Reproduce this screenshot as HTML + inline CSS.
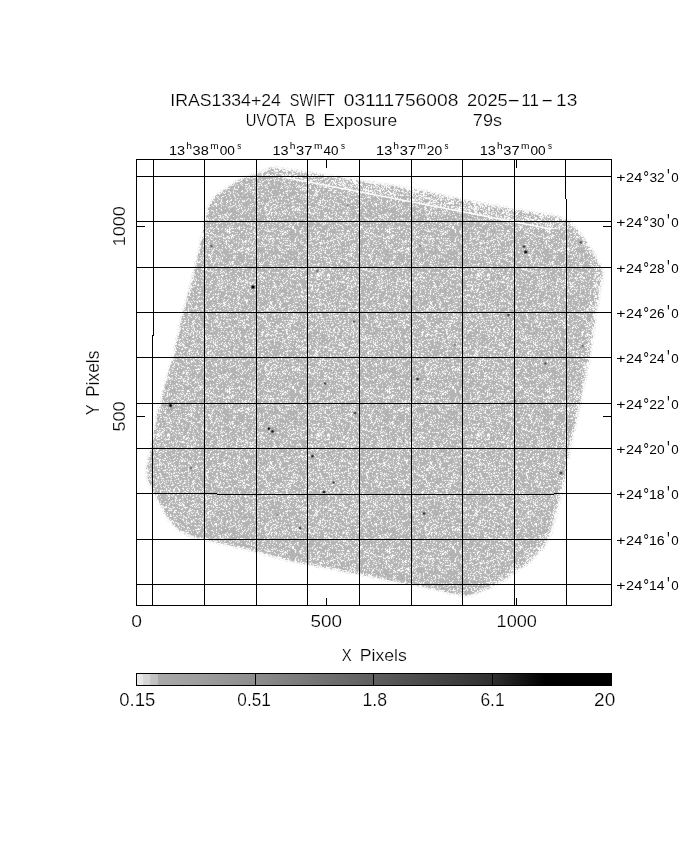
<!DOCTYPE html>
<html><head><meta charset="utf-8"><title>IRAS1334+24 SWIFT UVOTA B Exposure</title>
<style>
html,body{margin:0;padding:0;background:#fff;}
svg{display:block;font-family:"Liberation Sans",sans-serif;fill:#000;}
</style></head><body>
<svg width="680" height="850" viewBox="0 0 680 850">
<defs>
<pattern id="nz" width="160" height="160" patternUnits="userSpaceOnUse">
<rect width="160" height="160" fill="#b3b3b3"/>
<path d="M1 0h1M3 0h1M6 0h1M8 0h1M10 0h1M11 0h1M14 0h1M21 0h1M24 0h1M25 0h1M28 0h1M33 0h1M34 0h1M51 0h1M54 0h1M56 0h1M70 0h1M78 0h1M80 0h1M81 0h1M82 0h1M84 0h1M88 0h1M99 0h1M100 0h1M106 0h1M115 0h1M122 0h1M124 0h1M125 0h1M127 0h1M129 0h1M130 0h1M131 0h1M132 0h1M134 0h1M137 0h1M141 0h1M146 0h1M147 0h1M151 0h1M152 0h1M155 0h1M157 0h1M4 1h1M19 1h1M20 1h1M32 1h1M33 1h1M40 1h1M46 1h1M55 1h1M56 1h1M57 1h1M60 1h1M66 1h1M67 1h1M82 1h1M93 1h1M95 1h1M96 1h1M98 1h1M106 1h1M131 1h1M132 1h1M134 1h1M136 1h1M140 1h1M143 1h1M152 1h1M156 1h1M159 1h1M2 2h1M6 2h1M10 2h1M12 2h1M15 2h1M20 2h1M24 2h1M25 2h1M28 2h1M32 2h1M34 2h1M41 2h1M44 2h1M45 2h1M46 2h1M47 2h1M53 2h1M55 2h1M57 2h1M60 2h1M63 2h1M78 2h1M79 2h1M80 2h1M83 2h1M84 2h1M92 2h1M102 2h1M106 2h1M108 2h1M110 2h1M112 2h1M113 2h1M125 2h1M128 2h1M134 2h1M145 2h1M146 2h1M148 2h1M155 2h1M1 3h1M4 3h1M17 3h1M18 3h1M23 3h1M24 3h1M33 3h1M35 3h1M38 3h1M48 3h1M51 3h1M59 3h1M60 3h1M64 3h1M68 3h1M71 3h1M83 3h1M84 3h1M91 3h1M101 3h1M107 3h1M109 3h1M120 3h1M121 3h1M129 3h1M130 3h1M131 3h1M133 3h1M144 3h1M147 3h1M159 3h1M0 4h1M5 4h1M12 4h1M13 4h1M22 4h1M28 4h1M32 4h1M33 4h1M39 4h1M51 4h1M59 4h1M63 4h1M77 4h1M82 4h1M86 4h1M87 4h1M88 4h1M96 4h1M99 4h1M104 4h1M105 4h1M109 4h1M116 4h1M120 4h1M123 4h1M127 4h1M128 4h1M129 4h1M142 4h1M147 4h1M157 4h1M7 5h1M8 5h1M11 5h1M12 5h1M19 5h1M20 5h1M31 5h1M37 5h1M40 5h1M51 5h1M56 5h1M58 5h1M59 5h1M69 5h1M74 5h1M75 5h1M79 5h1M80 5h1M83 5h1M85 5h1M88 5h1M89 5h1M93 5h1M94 5h1M107 5h1M109 5h1M110 5h1M117 5h1M118 5h1M122 5h1M126 5h1M130 5h1M134 5h1M135 5h1M139 5h1M145 5h1M151 5h1M156 5h1M0 6h1M3 6h1M5 6h1M16 6h1M23 6h1M25 6h1M26 6h1M28 6h1M31 6h1M33 6h1M37 6h1M41 6h1M46 6h1M51 6h1M54 6h1M57 6h1M61 6h1M68 6h1M69 6h1M70 6h1M74 6h1M76 6h1M84 6h1M95 6h1M97 6h1M105 6h1M106 6h1M107 6h1M112 6h1M115 6h1M116 6h1M118 6h1M123 6h1M126 6h1M129 6h1M130 6h1M136 6h1M146 6h1M150 6h1M152 6h1M155 6h1M156 6h1M1 7h1M4 7h1M8 7h1M15 7h1M17 7h1M33 7h1M58 7h1M60 7h1M61 7h1M62 7h1M65 7h1M66 7h1M67 7h1M72 7h1M78 7h1M82 7h1M84 7h1M85 7h1M92 7h1M93 7h1M95 7h1M98 7h1M108 7h1M117 7h1M119 7h1M120 7h1M121 7h1M124 7h1M128 7h1M138 7h1M140 7h1M149 7h1M151 7h1M6 8h1M10 8h1M14 8h1M18 8h1M22 8h1M23 8h1M27 8h1M29 8h1M32 8h1M34 8h1M40 8h1M42 8h1M45 8h1M52 8h1M72 8h1M84 8h1M90 8h1M92 8h1M96 8h1M110 8h1M113 8h1M116 8h1M130 8h1M145 8h1M153 8h1M154 8h1M6 9h1M10 9h1M13 9h1M14 9h1M18 9h1M19 9h1M23 9h1M26 9h1M34 9h1M43 9h1M45 9h1M47 9h1M52 9h1M61 9h1M64 9h1M73 9h1M102 9h1M106 9h1M108 9h1M109 9h1M125 9h1M126 9h1M127 9h1M142 9h1M144 9h1M145 9h1M150 9h1M157 9h1M0 10h1M1 10h1M2 10h1M4 10h1M6 10h1M8 10h1M9 10h1M13 10h1M14 10h1M19 10h1M27 10h1M28 10h1M31 10h1M34 10h1M37 10h1M42 10h1M54 10h1M72 10h1M78 10h1M89 10h1M92 10h1M104 10h1M114 10h1M115 10h1M116 10h1M122 10h1M123 10h1M126 10h1M129 10h1M133 10h1M134 10h1M147 10h1M148 10h1M149 10h1M150 10h1M151 10h1M157 10h1M0 11h1M9 11h1M13 11h1M19 11h1M24 11h1M25 11h1M32 11h1M35 11h1M37 11h1M39 11h1M41 11h1M43 11h1M44 11h1M50 11h1M52 11h1M61 11h1M63 11h1M66 11h1M70 11h1M74 11h1M78 11h1M80 11h1M87 11h1M92 11h1M95 11h1M99 11h1M102 11h1M103 11h1M106 11h1M111 11h1M112 11h1M115 11h1M116 11h1M117 11h1M126 11h1M127 11h1M131 11h1M137 11h1M142 11h1M145 11h1M148 11h1M152 11h1M0 12h1M7 12h1M10 12h1M11 12h1M14 12h1M15 12h1M17 12h1M18 12h1M23 12h1M26 12h1M27 12h1M31 12h1M33 12h1M36 12h1M39 12h1M58 12h1M67 12h1M70 12h1M71 12h1M79 12h1M94 12h1M101 12h1M102 12h1M103 12h1M108 12h1M114 12h1M126 12h1M136 12h1M137 12h1M140 12h1M144 12h1M148 12h1M3 13h1M5 13h1M28 13h1M30 13h1M33 13h1M39 13h1M42 13h1M43 13h1M60 13h1M74 13h1M79 13h1M86 13h1M90 13h1M91 13h1M97 13h1M102 13h1M107 13h1M116 13h1M117 13h1M119 13h1M120 13h1M121 13h1M126 13h1M127 13h1M132 13h1M134 13h1M140 13h1M147 13h1M7 14h1M9 14h1M13 14h1M17 14h1M18 14h1M22 14h1M25 14h1M28 14h1M30 14h1M33 14h1M37 14h1M47 14h1M57 14h1M67 14h1M68 14h1M72 14h1M77 14h1M80 14h1M88 14h1M90 14h1M101 14h1M102 14h1M106 14h1M107 14h1M108 14h1M109 14h1M112 14h1M115 14h1M123 14h1M127 14h1M130 14h1M132 14h1M137 14h1M143 14h1M152 14h1M157 14h1M159 14h1M8 15h1M11 15h1M13 15h1M24 15h1M30 15h1M36 15h1M40 15h1M42 15h1M45 15h1M49 15h1M50 15h1M51 15h1M54 15h1M58 15h1M61 15h1M63 15h1M71 15h1M72 15h1M76 15h1M80 15h1M85 15h1M93 15h1M102 15h1M105 15h1M107 15h1M110 15h1M111 15h1M113 15h1M115 15h1M129 15h1M134 15h1M135 15h1M145 15h1M156 15h1M157 15h1M0 16h1M8 16h1M9 16h1M12 16h1M15 16h1M22 16h1M25 16h1M27 16h1M33 16h1M36 16h1M39 16h1M43 16h1M45 16h1M48 16h1M60 16h1M66 16h1M71 16h1M73 16h1M76 16h1M80 16h1M84 16h1M85 16h1M86 16h1M88 16h1M93 16h1M99 16h1M101 16h1M105 16h1M106 16h1M111 16h1M116 16h1M121 16h1M122 16h1M128 16h1M131 16h1M134 16h1M135 16h1M145 16h1M6 17h1M15 17h1M16 17h1M22 17h1M23 17h1M32 17h1M33 17h1M40 17h1M45 17h1M46 17h1M51 17h1M55 17h1M59 17h1M63 17h1M64 17h1M76 17h1M78 17h1M85 17h1M89 17h1M93 17h1M94 17h1M95 17h1M97 17h1M118 17h1M119 17h1M127 17h1M128 17h1M129 17h1M130 17h1M133 17h1M136 17h1M137 17h1M140 17h1M141 17h1M152 17h1M154 17h1M158 17h1M9 18h1M16 18h1M26 18h1M37 18h1M41 18h1M42 18h1M44 18h1M46 18h1M48 18h1M49 18h1M51 18h1M57 18h1M61 18h1M65 18h1M66 18h1M70 18h1M72 18h1M74 18h1M76 18h1M79 18h1M89 18h1M91 18h1M92 18h1M97 18h1M113 18h1M115 18h1M122 18h1M123 18h1M127 18h1M134 18h1M1 19h1M8 19h1M15 19h1M19 19h1M20 19h1M22 19h1M27 19h1M35 19h1M43 19h1M44 19h1M46 19h1M47 19h1M53 19h1M56 19h1M61 19h1M73 19h1M79 19h1M86 19h1M101 19h1M106 19h1M108 19h1M110 19h1M111 19h1M114 19h1M118 19h1M125 19h1M128 19h1M138 19h1M144 19h1M145 19h1M153 19h1M156 19h1M12 20h1M15 20h1M17 20h1M19 20h1M29 20h1M32 20h1M33 20h1M41 20h1M42 20h1M44 20h1M51 20h1M55 20h1M59 20h1M64 20h1M69 20h1M71 20h1M81 20h1M86 20h1M87 20h1M93 20h1M99 20h1M104 20h1M107 20h1M109 20h1M114 20h1M116 20h1M118 20h1M123 20h1M124 20h1M130 20h1M131 20h1M133 20h1M136 20h1M138 20h1M142 20h1M144 20h1M145 20h1M150 20h1M158 20h1M0 21h1M5 21h1M11 21h1M15 21h1M23 21h1M27 21h1M31 21h1M33 21h1M34 21h1M46 21h1M50 21h1M53 21h1M57 21h1M73 21h1M79 21h1M93 21h1M100 21h1M102 21h1M103 21h1M114 21h1M120 21h1M122 21h1M124 21h1M137 21h1M139 21h1M141 21h1M142 21h1M148 21h1M156 21h1M10 22h1M19 22h1M21 22h1M24 22h1M27 22h1M45 22h1M50 22h1M53 22h1M55 22h1M57 22h1M62 22h1M65 22h1M68 22h1M74 22h1M81 22h1M95 22h1M102 22h1M108 22h1M122 22h1M128 22h1M130 22h1M142 22h1M152 22h1M157 22h1M3 23h1M9 23h1M12 23h1M14 23h1M16 23h1M20 23h1M22 23h1M34 23h1M36 23h1M39 23h1M53 23h1M55 23h1M61 23h1M64 23h1M68 23h1M70 23h1M80 23h1M82 23h1M88 23h1M92 23h1M93 23h1M98 23h1M99 23h1M100 23h1M108 23h1M109 23h1M114 23h1M124 23h1M125 23h1M129 23h1M133 23h1M136 23h1M146 23h1M148 23h1M149 23h1M155 23h1M157 23h1M6 24h1M9 24h1M18 24h1M19 24h1M22 24h1M23 24h1M32 24h1M33 24h1M35 24h1M38 24h1M40 24h1M42 24h1M46 24h1M54 24h1M55 24h1M59 24h1M61 24h1M65 24h1M69 24h1M73 24h1M77 24h1M81 24h1M85 24h1M86 24h1M87 24h1M101 24h1M106 24h1M114 24h1M126 24h1M136 24h1M143 24h1M152 24h1M156 24h1M0 25h1M8 25h1M19 25h1M20 25h1M21 25h1M23 25h1M24 25h1M30 25h1M31 25h1M37 25h1M41 25h1M48 25h1M49 25h1M51 25h1M55 25h1M56 25h1M57 25h1M63 25h1M64 25h1M66 25h1M70 25h1M75 25h1M82 25h1M89 25h1M93 25h1M95 25h1M98 25h1M99 25h1M101 25h1M104 25h1M105 25h1M110 25h1M117 25h1M121 25h1M124 25h1M129 25h1M135 25h1M138 25h1M139 25h1M142 25h1M150 25h1M157 25h1M1 26h1M3 26h1M5 26h1M6 26h1M12 26h1M23 26h1M32 26h1M34 26h1M36 26h1M42 26h1M44 26h1M46 26h1M47 26h1M51 26h1M53 26h1M64 26h1M66 26h1M67 26h1M78 26h1M85 26h1M86 26h1M89 26h1M96 26h1M102 26h1M107 26h1M122 26h1M126 26h1M127 26h1M130 26h1M137 26h1M139 26h1M141 26h1M150 26h1M159 26h1M0 27h1M4 27h1M5 27h1M6 27h1M8 27h1M13 27h1M14 27h1M17 27h1M24 27h1M25 27h1M26 27h1M27 27h1M35 27h1M38 27h1M39 27h1M46 27h1M48 27h1M53 27h1M56 27h1M57 27h1M59 27h1M66 27h1M74 27h1M78 27h1M88 27h1M90 27h1M91 27h1M93 27h1M97 27h1M98 27h1M105 27h1M106 27h1M121 27h1M125 27h1M128 27h1M132 27h1M136 27h1M138 27h1M140 27h1M143 27h1M144 27h1M145 27h1M146 27h1M149 27h1M150 27h1M154 27h1M157 27h1M9 28h1M10 28h1M12 28h1M19 28h1M22 28h1M25 28h1M30 28h1M43 28h1M61 28h1M69 28h1M74 28h1M85 28h1M87 28h1M90 28h1M91 28h1M93 28h1M107 28h1M120 28h1M122 28h1M127 28h1M142 28h1M146 28h1M150 28h1M155 28h1M3 29h1M11 29h1M21 29h1M22 29h1M29 29h1M32 29h1M41 29h1M44 29h1M45 29h1M48 29h1M55 29h1M56 29h1M60 29h1M62 29h1M63 29h1M66 29h1M73 29h1M75 29h1M76 29h1M77 29h1M86 29h1M89 29h1M102 29h1M112 29h1M113 29h1M116 29h1M140 29h1M142 29h1M143 29h1M144 29h1M146 29h1M148 29h1M156 29h1M159 29h1M3 30h1M8 30h1M9 30h1M10 30h1M11 30h1M14 30h1M15 30h1M16 30h1M29 30h1M30 30h1M31 30h1M34 30h1M37 30h1M50 30h1M51 30h1M54 30h1M58 30h1M82 30h1M87 30h1M90 30h1M97 30h1M99 30h1M101 30h1M108 30h1M127 30h1M129 30h1M131 30h1M135 30h1M140 30h1M142 30h1M145 30h1M152 30h1M153 30h1M155 30h1M156 30h1M159 30h1M14 31h1M24 31h1M28 31h1M29 31h1M37 31h1M42 31h1M48 31h1M49 31h1M50 31h1M68 31h1M69 31h1M73 31h1M81 31h1M82 31h1M87 31h1M92 31h1M93 31h1M94 31h1M96 31h1M105 31h1M108 31h1M111 31h1M119 31h1M125 31h1M126 31h1M127 31h1M130 31h1M136 31h1M137 31h1M144 31h1M156 31h1M157 31h1M158 31h1M0 32h1M7 32h1M13 32h1M14 32h1M15 32h1M18 32h1M20 32h1M23 32h1M27 32h1M31 32h1M33 32h1M36 32h1M37 32h1M47 32h1M48 32h1M52 32h1M55 32h1M63 32h1M65 32h1M70 32h1M73 32h1M75 32h1M85 32h1M86 32h1M90 32h1M93 32h1M96 32h1M97 32h1M110 32h1M123 32h1M155 32h1M157 32h1M5 33h1M20 33h1M21 33h1M29 33h1M32 33h1M38 33h1M41 33h1M47 33h1M48 33h1M52 33h1M59 33h1M64 33h1M70 33h1M77 33h1M84 33h1M93 33h1M98 33h1M101 33h1M102 33h1M103 33h1M111 33h1M123 33h1M126 33h1M137 33h1M148 33h1M155 33h1M156 33h1M1 34h1M3 34h1M7 34h1M10 34h1M27 34h1M29 34h1M35 34h1M38 34h1M45 34h1M48 34h1M50 34h1M51 34h1M53 34h1M54 34h1M68 34h1M73 34h1M78 34h1M92 34h1M103 34h1M108 34h1M112 34h1M120 34h1M127 34h1M137 34h1M138 34h1M141 34h1M145 34h1M146 34h1M148 34h1M154 34h1M156 34h1M157 34h1M10 35h1M13 35h1M16 35h1M19 35h1M21 35h1M23 35h1M31 35h1M33 35h1M35 35h1M40 35h1M46 35h1M54 35h1M65 35h1M69 35h1M74 35h1M78 35h1M82 35h1M87 35h1M94 35h1M96 35h1M98 35h1M101 35h1M105 35h1M119 35h1M120 35h1M123 35h1M127 35h1M135 35h1M141 35h1M143 35h1M146 35h1M148 35h1M150 35h1M151 35h1M153 35h1M154 35h1M155 35h1M157 35h1M3 36h1M5 36h1M10 36h1M11 36h1M17 36h1M24 36h1M28 36h1M43 36h1M48 36h1M50 36h1M53 36h1M56 36h1M58 36h1M62 36h1M63 36h1M74 36h1M96 36h1M97 36h1M101 36h1M102 36h1M111 36h1M114 36h1M117 36h1M121 36h1M122 36h1M132 36h1M134 36h1M140 36h1M144 36h1M156 36h1M8 37h1M14 37h1M15 37h1M23 37h1M25 37h1M26 37h1M28 37h1M45 37h1M47 37h1M48 37h1M49 37h1M57 37h1M61 37h1M66 37h1M70 37h1M75 37h1M95 37h1M106 37h1M109 37h1M111 37h1M130 37h1M134 37h1M138 37h1M143 37h1M145 37h1M146 37h1M150 37h1M153 37h1M0 38h1M3 38h1M20 38h1M26 38h1M30 38h1M35 38h1M36 38h1M39 38h1M40 38h1M42 38h1M44 38h1M50 38h1M58 38h1M77 38h1M80 38h1M88 38h1M103 38h1M109 38h1M118 38h1M121 38h1M131 38h1M132 38h1M140 38h1M152 38h1M153 38h1M2 39h1M3 39h1M10 39h1M14 39h1M16 39h1M22 39h1M23 39h1M33 39h1M38 39h1M42 39h1M59 39h1M61 39h1M71 39h1M75 39h1M87 39h1M90 39h1M94 39h1M96 39h1M98 39h1M99 39h1M112 39h1M115 39h1M118 39h1M121 39h1M125 39h1M127 39h1M128 39h1M142 39h1M145 39h1M148 39h1M156 39h1M0 40h1M2 40h1M4 40h1M5 40h1M7 40h1M9 40h1M12 40h1M23 40h1M26 40h1M31 40h1M33 40h1M40 40h1M48 40h1M50 40h1M57 40h1M61 40h1M67 40h1M70 40h1M71 40h1M75 40h1M79 40h1M82 40h1M84 40h1M86 40h1M90 40h1M94 40h1M97 40h1M110 40h1M113 40h1M115 40h1M128 40h1M133 40h1M135 40h1M149 40h1M159 40h1M0 41h1M7 41h1M13 41h1M26 41h1M31 41h1M32 41h1M34 41h1M41 41h1M47 41h1M54 41h1M61 41h1M66 41h1M67 41h1M69 41h1M78 41h1M82 41h1M83 41h1M84 41h1M102 41h1M109 41h1M113 41h1M116 41h1M131 41h1M132 41h1M133 41h1M143 41h1M147 41h1M152 41h1M153 41h1M0 42h1M2 42h1M5 42h1M9 42h1M13 42h1M15 42h1M16 42h1M24 42h1M26 42h1M28 42h1M31 42h1M35 42h1M39 42h1M42 42h1M43 42h1M45 42h1M51 42h1M60 42h1M62 42h1M67 42h1M73 42h1M78 42h1M98 42h1M99 42h1M101 42h1M108 42h1M110 42h1M111 42h1M117 42h1M118 42h1M121 42h1M124 42h1M146 42h1M151 42h1M158 42h1M159 42h1M0 43h1M5 43h1M17 43h1M18 43h1M20 43h1M27 43h1M29 43h1M42 43h1M45 43h1M51 43h1M55 43h1M56 43h1M60 43h1M66 43h1M70 43h1M75 43h1M81 43h1M92 43h1M101 43h1M103 43h1M106 43h1M107 43h1M124 43h1M126 43h1M129 43h1M132 43h1M136 43h1M137 43h1M139 43h1M144 43h1M145 43h1M149 43h1M155 43h1M157 43h1M4 44h1M9 44h1M10 44h1M14 44h1M18 44h1M26 44h1M44 44h1M47 44h1M54 44h1M55 44h1M56 44h1M58 44h1M61 44h1M70 44h1M75 44h1M79 44h1M90 44h1M91 44h1M99 44h1M102 44h1M106 44h1M108 44h1M113 44h1M114 44h1M115 44h1M121 44h1M123 44h1M133 44h1M139 44h1M141 44h1M158 44h1M159 44h1M1 45h1M2 45h1M14 45h1M18 45h1M21 45h1M31 45h1M34 45h1M35 45h1M38 45h1M39 45h1M41 45h1M45 45h1M52 45h1M56 45h1M63 45h1M66 45h1M73 45h1M74 45h1M78 45h1M80 45h1M82 45h1M93 45h1M95 45h1M96 45h1M105 45h1M107 45h1M108 45h1M112 45h1M116 45h1M117 45h1M120 45h1M159 45h1M3 46h1M5 46h1M6 46h1M12 46h1M13 46h1M22 46h1M23 46h1M36 46h1M40 46h1M53 46h1M56 46h1M61 46h1M69 46h1M71 46h1M72 46h1M76 46h1M79 46h1M88 46h1M90 46h1M92 46h1M97 46h1M105 46h1M111 46h1M116 46h1M120 46h1M123 46h1M125 46h1M132 46h1M133 46h1M134 46h1M139 46h1M142 46h1M148 46h1M149 46h1M150 46h1M156 46h1M2 47h1M4 47h1M8 47h1M9 47h1M14 47h1M19 47h1M24 47h1M27 47h1M28 47h1M43 47h1M48 47h1M68 47h1M70 47h1M76 47h1M81 47h1M84 47h1M96 47h1M98 47h1M104 47h1M105 47h1M110 47h1M114 47h1M115 47h1M118 47h1M124 47h1M128 47h1M131 47h1M132 47h1M137 47h1M139 47h1M141 47h1M143 47h1M148 47h1M153 47h1M155 47h1M8 48h1M11 48h1M17 48h1M21 48h1M27 48h1M29 48h1M38 48h1M40 48h1M44 48h1M59 48h1M65 48h1M79 48h1M81 48h1M88 48h1M91 48h1M101 48h1M105 48h1M106 48h1M111 48h1M113 48h1M116 48h1M128 48h1M135 48h1M136 48h1M138 48h1M151 48h1M152 48h1M156 48h1M158 48h1M0 49h1M2 49h1M12 49h1M13 49h1M17 49h1M35 49h1M36 49h1M37 49h1M38 49h1M39 49h1M45 49h1M46 49h1M56 49h1M61 49h1M69 49h1M77 49h1M78 49h1M85 49h1M88 49h1M100 49h1M104 49h1M105 49h1M110 49h1M111 49h1M114 49h1M121 49h1M126 49h1M132 49h1M133 49h1M135 49h1M137 49h1M138 49h1M139 49h1M145 49h1M149 49h1M154 49h1M158 49h1M25 50h1M26 50h1M28 50h1M30 50h1M33 50h1M45 50h1M51 50h1M52 50h1M56 50h1M61 50h1M76 50h1M82 50h1M84 50h1M87 50h1M90 50h1M96 50h1M99 50h1M106 50h1M107 50h1M110 50h1M124 50h1M126 50h1M132 50h1M134 50h1M135 50h1M137 50h1M139 50h1M140 50h1M142 50h1M149 50h1M154 50h1M157 50h1M3 51h1M12 51h1M15 51h1M23 51h1M36 51h1M39 51h1M46 51h1M53 51h1M78 51h1M83 51h1M86 51h1M97 51h1M98 51h1M100 51h1M105 51h1M109 51h1M115 51h1M119 51h1M122 51h1M123 51h1M125 51h1M127 51h1M144 51h1M149 51h1M154 51h1M5 52h1M6 52h1M9 52h1M16 52h1M19 52h1M23 52h1M24 52h1M26 52h1M27 52h1M28 52h1M31 52h1M37 52h1M38 52h1M43 52h1M44 52h1M46 52h1M56 52h1M67 52h1M82 52h1M93 52h1M100 52h1M109 52h1M111 52h1M112 52h1M114 52h1M116 52h1M122 52h1M129 52h1M133 52h1M137 52h1M139 52h1M144 52h1M146 52h1M148 52h1M149 52h1M150 52h1M155 52h1M156 52h1M159 52h1M4 53h1M5 53h1M9 53h1M14 53h1M16 53h1M22 53h1M23 53h1M26 53h1M37 53h1M48 53h1M53 53h1M58 53h1M66 53h1M70 53h1M71 53h1M80 53h1M82 53h1M85 53h1M89 53h1M92 53h1M97 53h1M106 53h1M108 53h1M109 53h1M111 53h1M115 53h1M116 53h1M119 53h1M123 53h1M124 53h1M125 53h1M129 53h1M140 53h1M150 53h1M152 53h1M153 53h1M154 53h1M157 53h1M159 53h1M7 54h1M11 54h1M12 54h1M16 54h1M26 54h1M27 54h1M29 54h1M42 54h1M54 54h1M62 54h1M64 54h1M65 54h1M68 54h1M70 54h1M76 54h1M81 54h1M93 54h1M95 54h1M102 54h1M105 54h1M107 54h1M108 54h1M111 54h1M116 54h1M120 54h1M125 54h1M128 54h1M132 54h1M134 54h1M142 54h1M151 54h1M153 54h1M4 55h1M6 55h1M15 55h1M18 55h1M35 55h1M44 55h1M52 55h1M58 55h1M59 55h1M60 55h1M65 55h1M66 55h1M69 55h1M78 55h1M88 55h1M106 55h1M111 55h1M114 55h1M118 55h1M122 55h1M130 55h1M139 55h1M148 55h1M157 55h1M159 55h1M4 56h1M5 56h1M6 56h1M8 56h1M16 56h1M20 56h1M21 56h1M25 56h1M27 56h1M31 56h1M60 56h1M63 56h1M67 56h1M73 56h1M96 56h1M99 56h1M107 56h1M121 56h1M135 56h1M152 56h1M8 57h1M9 57h1M12 57h1M21 57h1M28 57h1M35 57h1M40 57h1M44 57h1M45 57h1M49 57h1M55 57h1M56 57h1M59 57h1M60 57h1M62 57h1M65 57h1M67 57h1M68 57h1M90 57h1M95 57h1M97 57h1M109 57h1M112 57h1M114 57h1M118 57h1M127 57h1M132 57h1M135 57h1M136 57h1M154 57h1M157 57h1M4 58h1M6 58h1M9 58h1M10 58h1M11 58h1M15 58h1M18 58h1M19 58h1M20 58h1M22 58h1M24 58h1M28 58h1M30 58h1M35 58h1M45 58h1M46 58h1M47 58h1M54 58h1M61 58h1M63 58h1M77 58h1M80 58h1M81 58h1M82 58h1M84 58h1M90 58h1M96 58h1M104 58h1M107 58h1M108 58h1M124 58h1M127 58h1M139 58h1M141 58h1M142 58h1M144 58h1M147 58h1M157 58h1M1 59h1M3 59h1M5 59h1M9 59h1M12 59h1M16 59h1M23 59h1M27 59h1M28 59h1M33 59h1M34 59h1M37 59h1M39 59h1M47 59h1M48 59h1M50 59h1M52 59h1M53 59h1M58 59h1M64 59h1M67 59h1M71 59h1M76 59h1M82 59h1M107 59h1M108 59h1M110 59h1M117 59h1M119 59h1M120 59h1M122 59h1M137 59h1M148 59h1M149 59h1M151 59h1M155 59h1M158 59h1M159 59h1M14 60h1M21 60h1M23 60h1M25 60h1M32 60h1M33 60h1M42 60h1M48 60h1M53 60h1M59 60h1M65 60h1M73 60h1M76 60h1M78 60h1M84 60h1M87 60h1M89 60h1M95 60h1M104 60h1M110 60h1M113 60h1M131 60h1M145 60h1M4 61h1M10 61h1M18 61h1M19 61h1M23 61h1M24 61h1M25 61h1M27 61h1M35 61h1M37 61h1M40 61h1M46 61h1M57 61h1M61 61h1M64 61h1M69 61h1M71 61h1M75 61h1M79 61h1M89 61h1M93 61h1M94 61h1M98 61h1M102 61h1M103 61h1M105 61h1M114 61h1M122 61h1M128 61h1M147 61h1M148 61h1M157 61h1M1 62h1M5 62h1M27 62h1M30 62h1M35 62h1M36 62h1M38 62h1M60 62h1M70 62h1M77 62h1M78 62h1M86 62h1M91 62h1M110 62h1M113 62h1M116 62h1M123 62h1M130 62h1M137 62h1M138 62h1M146 62h1M148 62h1M154 62h1M0 63h1M3 63h1M5 63h1M7 63h1M10 63h1M16 63h1M23 63h1M28 63h1M34 63h1M38 63h1M41 63h1M56 63h1M57 63h1M59 63h1M66 63h1M73 63h1M81 63h1M86 63h1M88 63h1M91 63h1M96 63h1M97 63h1M102 63h1M103 63h1M116 63h1M120 63h1M125 63h1M126 63h1M129 63h1M135 63h1M137 63h1M155 63h1M3 64h1M4 64h1M16 64h1M17 64h1M19 64h1M25 64h1M26 64h1M28 64h1M30 64h1M44 64h1M50 64h1M53 64h1M71 64h1M73 64h1M87 64h1M89 64h1M91 64h1M94 64h1M101 64h1M107 64h1M109 64h1M112 64h1M119 64h1M121 64h1M125 64h1M130 64h1M131 64h1M134 64h1M137 64h1M2 65h1M9 65h1M12 65h1M14 65h1M20 65h1M21 65h1M27 65h1M31 65h1M38 65h1M39 65h1M42 65h1M46 65h1M50 65h1M57 65h1M62 65h1M68 65h1M91 65h1M93 65h1M94 65h1M103 65h1M114 65h1M121 65h1M129 65h1M138 65h1M143 65h1M145 65h1M154 65h1M18 66h1M22 66h1M40 66h1M41 66h1M56 66h1M67 66h1M70 66h1M72 66h1M79 66h1M83 66h1M95 66h1M98 66h1M107 66h1M119 66h1M126 66h1M128 66h1M130 66h1M132 66h1M133 66h1M147 66h1M153 66h1M0 67h1M10 67h1M12 67h1M15 67h1M22 67h1M32 67h1M33 67h1M36 67h1M37 67h1M39 67h1M40 67h1M41 67h1M42 67h1M50 67h1M52 67h1M56 67h1M69 67h1M78 67h1M79 67h1M81 67h1M84 67h1M91 67h1M97 67h1M100 67h1M102 67h1M105 67h1M112 67h1M125 67h1M129 67h1M132 67h1M133 67h1M142 67h1M152 67h1M157 67h1M159 67h1M1 68h1M8 68h1M12 68h1M16 68h1M23 68h1M35 68h1M40 68h1M45 68h1M48 68h1M50 68h1M51 68h1M54 68h1M57 68h1M58 68h1M62 68h1M65 68h1M69 68h1M71 68h1M72 68h1M73 68h1M75 68h1M77 68h1M79 68h1M87 68h1M89 68h1M91 68h1M96 68h1M107 68h1M114 68h1M116 68h1M123 68h1M132 68h1M133 68h1M141 68h1M142 68h1M148 68h1M150 68h1M152 68h1M155 68h1M9 69h1M30 69h1M34 69h1M38 69h1M40 69h1M43 69h1M47 69h1M53 69h1M58 69h1M61 69h1M65 69h1M67 69h1M69 69h1M70 69h1M79 69h1M83 69h1M84 69h1M90 69h1M94 69h1M101 69h1M104 69h1M108 69h1M111 69h1M112 69h1M113 69h1M115 69h1M121 69h1M134 69h1M135 69h1M143 69h1M154 69h1M155 69h1M5 70h1M7 70h1M8 70h1M16 70h1M18 70h1M19 70h1M21 70h1M22 70h1M23 70h1M27 70h1M28 70h1M35 70h1M36 70h1M39 70h1M46 70h1M49 70h1M66 70h1M67 70h1M69 70h1M86 70h1M94 70h1M99 70h1M105 70h1M106 70h1M108 70h1M117 70h1M119 70h1M123 70h1M127 70h1M129 70h1M135 70h1M140 70h1M141 70h1M147 70h1M156 70h1M5 71h1M27 71h1M28 71h1M29 71h1M34 71h1M37 71h1M44 71h1M45 71h1M49 71h1M53 71h1M58 71h1M65 71h1M67 71h1M68 71h1M69 71h1M72 71h1M73 71h1M81 71h1M82 71h1M86 71h1M93 71h1M96 71h1M98 71h1M107 71h1M108 71h1M109 71h1M110 71h1M112 71h1M120 71h1M121 71h1M122 71h1M125 71h1M127 71h1M135 71h1M139 71h1M140 71h1M158 71h1M159 71h1M7 72h1M22 72h1M45 72h1M46 72h1M47 72h1M51 72h1M67 72h1M69 72h1M70 72h1M75 72h1M77 72h1M81 72h1M89 72h1M93 72h1M94 72h1M96 72h1M114 72h1M124 72h1M125 72h1M126 72h1M135 72h1M140 72h1M143 72h1M144 72h1M146 72h1M150 72h1M153 72h1M154 72h1M157 72h1M158 72h1M0 73h1M2 73h1M3 73h1M7 73h1M9 73h1M11 73h1M17 73h1M20 73h1M23 73h1M26 73h1M27 73h1M29 73h1M32 73h1M34 73h1M35 73h1M44 73h1M48 73h1M50 73h1M51 73h1M52 73h1M62 73h1M69 73h1M85 73h1M87 73h1M90 73h1M91 73h1M95 73h1M98 73h1M103 73h1M115 73h1M120 73h1M122 73h1M123 73h1M127 73h1M140 73h1M141 73h1M157 73h1M4 74h1M7 74h1M9 74h1M11 74h1M14 74h1M19 74h1M21 74h1M22 74h1M26 74h1M32 74h1M40 74h1M53 74h1M55 74h1M61 74h1M63 74h1M72 74h1M76 74h1M79 74h1M85 74h1M88 74h1M94 74h1M95 74h1M107 74h1M118 74h1M122 74h1M123 74h1M125 74h1M143 74h1M150 74h1M155 74h1M157 74h1M7 75h1M9 75h1M14 75h1M16 75h1M24 75h1M25 75h1M28 75h1M30 75h1M33 75h1M35 75h1M43 75h1M46 75h1M47 75h1M48 75h1M54 75h1M57 75h1M63 75h1M70 75h1M72 75h1M73 75h1M74 75h1M101 75h1M104 75h1M106 75h1M110 75h1M113 75h1M118 75h1M121 75h1M144 75h1M150 75h1M159 75h1M6 76h1M7 76h1M17 76h1M21 76h1M24 76h1M30 76h1M44 76h1M48 76h1M51 76h1M55 76h1M58 76h1M59 76h1M60 76h1M61 76h1M67 76h1M68 76h1M71 76h1M72 76h1M78 76h1M83 76h1M86 76h1M90 76h1M91 76h1M94 76h1M96 76h1M97 76h1M99 76h1M103 76h1M106 76h1M108 76h1M110 76h1M111 76h1M129 76h1M137 76h1M151 76h1M155 76h1M158 76h1M1 77h1M5 77h1M12 77h1M16 77h1M18 77h1M20 77h1M26 77h1M28 77h1M34 77h1M37 77h1M39 77h1M41 77h1M43 77h1M45 77h1M50 77h1M53 77h1M56 77h1M63 77h1M66 77h1M67 77h1M69 77h1M71 77h1M73 77h1M93 77h1M96 77h1M97 77h1M98 77h1M105 77h1M117 77h1M121 77h1M136 77h1M143 77h1M145 77h1M150 77h1M158 77h1M159 77h1M11 78h1M17 78h1M19 78h1M24 78h1M28 78h1M34 78h1M40 78h1M50 78h1M63 78h1M64 78h1M65 78h1M68 78h1M69 78h1M71 78h1M76 78h1M79 78h1M86 78h1M89 78h1M91 78h1M95 78h1M99 78h1M102 78h1M104 78h1M105 78h1M108 78h1M110 78h1M111 78h1M112 78h1M113 78h1M116 78h1M117 78h1M118 78h1M121 78h1M123 78h1M125 78h1M127 78h1M128 78h1M135 78h1M141 78h1M150 78h1M153 78h1M154 78h1M155 78h1M157 78h1M13 79h1M14 79h1M15 79h1M20 79h1M28 79h1M30 79h1M31 79h1M32 79h1M34 79h1M38 79h1M48 79h1M51 79h1M52 79h1M59 79h1M79 79h1M81 79h1M89 79h1M96 79h1M102 79h1M106 79h1M109 79h1M110 79h1M113 79h1M119 79h1M135 79h1M138 79h1M151 79h1M153 79h1M157 79h1M158 79h1M1 80h1M3 80h1M7 80h1M10 80h1M11 80h1M12 80h1M17 80h1M21 80h1M22 80h1M23 80h1M27 80h1M29 80h1M38 80h1M47 80h1M55 80h1M63 80h1M66 80h1M68 80h1M73 80h1M82 80h1M85 80h1M86 80h1M88 80h1M94 80h1M103 80h1M108 80h1M112 80h1M114 80h1M123 80h1M125 80h1M126 80h1M127 80h1M129 80h1M135 80h1M138 80h1M141 80h1M146 80h1M149 80h1M150 80h1M156 80h1M3 81h1M8 81h1M10 81h1M13 81h1M18 81h1M21 81h1M25 81h1M49 81h1M53 81h1M54 81h1M58 81h1M65 81h1M66 81h1M69 81h1M76 81h1M82 81h1M84 81h1M85 81h1M88 81h1M90 81h1M93 81h1M109 81h1M112 81h1M119 81h1M130 81h1M134 81h1M135 81h1M140 81h1M0 82h1M1 82h1M4 82h1M6 82h1M7 82h1M13 82h1M18 82h1M25 82h1M37 82h1M38 82h1M45 82h1M48 82h1M56 82h1M66 82h1M74 82h1M76 82h1M79 82h1M82 82h1M83 82h1M85 82h1M86 82h1M90 82h1M93 82h1M96 82h1M101 82h1M102 82h1M109 82h1M113 82h1M120 82h1M121 82h1M125 82h1M127 82h1M140 82h1M142 82h1M143 82h1M151 82h1M159 82h1M0 83h1M1 83h1M2 83h1M4 83h1M8 83h1M19 83h1M29 83h1M33 83h1M48 83h1M53 83h1M59 83h1M60 83h1M64 83h1M66 83h1M78 83h1M91 83h1M92 83h1M99 83h1M102 83h1M112 83h1M120 83h1M123 83h1M130 83h1M132 83h1M141 83h1M147 83h1M149 83h1M150 83h1M152 83h1M157 83h1M0 84h1M7 84h1M12 84h1M15 84h1M17 84h1M19 84h1M25 84h1M32 84h1M34 84h1M35 84h1M39 84h1M44 84h1M45 84h1M46 84h1M49 84h1M55 84h1M56 84h1M66 84h1M68 84h1M71 84h1M72 84h1M81 84h1M83 84h1M85 84h1M88 84h1M92 84h1M96 84h1M101 84h1M103 84h1M104 84h1M106 84h1M108 84h1M111 84h1M122 84h1M130 84h1M133 84h1M134 84h1M136 84h1M142 84h1M145 84h1M155 84h1M156 84h1M14 85h1M18 85h1M20 85h1M32 85h1M43 85h1M47 85h1M52 85h1M62 85h1M69 85h1M72 85h1M78 85h1M94 85h1M97 85h1M105 85h1M106 85h1M112 85h1M113 85h1M116 85h1M118 85h1M125 85h1M126 85h1M127 85h1M128 85h1M129 85h1M134 85h1M135 85h1M144 85h1M145 85h1M152 85h1M153 85h1M0 86h1M6 86h1M10 86h1M12 86h1M14 86h1M30 86h1M34 86h1M35 86h1M39 86h1M40 86h1M43 86h1M47 86h1M48 86h1M57 86h1M65 86h1M68 86h1M69 86h1M71 86h1M82 86h1M91 86h1M96 86h1M98 86h1M100 86h1M102 86h1M104 86h1M109 86h1M118 86h1M121 86h1M130 86h1M132 86h1M146 86h1M159 86h1M2 87h1M6 87h1M7 87h1M9 87h1M23 87h1M25 87h1M27 87h1M30 87h1M32 87h1M56 87h1M62 87h1M65 87h1M69 87h1M76 87h1M82 87h1M84 87h1M88 87h1M90 87h1M93 87h1M95 87h1M96 87h1M111 87h1M117 87h1M119 87h1M136 87h1M146 87h1M154 87h1M0 88h1M3 88h1M5 88h1M7 88h1M9 88h1M15 88h1M18 88h1M27 88h1M31 88h1M33 88h1M34 88h1M47 88h1M49 88h1M51 88h1M54 88h1M66 88h1M70 88h1M71 88h1M74 88h1M80 88h1M81 88h1M82 88h1M86 88h1M87 88h1M88 88h1M92 88h1M94 88h1M105 88h1M113 88h1M118 88h1M120 88h1M126 88h1M128 88h1M130 88h1M132 88h1M134 88h1M144 88h1M149 88h1M152 88h1M156 88h1M1 89h1M13 89h1M14 89h1M16 89h1M18 89h1M20 89h1M30 89h1M34 89h1M39 89h1M42 89h1M44 89h1M53 89h1M56 89h1M59 89h1M61 89h1M78 89h1M79 89h1M85 89h1M87 89h1M88 89h1M89 89h1M92 89h1M105 89h1M107 89h1M109 89h1M110 89h1M119 89h1M122 89h1M127 89h1M128 89h1M135 89h1M138 89h1M143 89h1M145 89h1M146 89h1M154 89h1M159 89h1M1 90h1M3 90h1M5 90h1M10 90h1M25 90h1M26 90h1M29 90h1M31 90h1M33 90h1M35 90h1M44 90h1M46 90h1M49 90h1M52 90h1M53 90h1M58 90h1M62 90h1M69 90h1M73 90h1M74 90h1M77 90h1M78 90h1M79 90h1M81 90h1M82 90h1M83 90h1M88 90h1M91 90h1M92 90h1M95 90h1M113 90h1M119 90h1M120 90h1M122 90h1M124 90h1M125 90h1M132 90h1M137 90h1M148 90h1M150 90h1M153 90h1M5 91h1M13 91h1M14 91h1M20 91h1M31 91h1M34 91h1M38 91h1M52 91h1M60 91h1M74 91h1M75 91h1M80 91h1M81 91h1M86 91h1M89 91h1M94 91h1M106 91h1M144 91h1M156 91h1M157 91h1M159 91h1M4 92h1M5 92h1M12 92h1M16 92h1M38 92h1M39 92h1M43 92h1M51 92h1M60 92h1M73 92h1M75 92h1M77 92h1M85 92h1M86 92h1M87 92h1M96 92h1M105 92h1M107 92h1M121 92h1M122 92h1M123 92h1M126 92h1M138 92h1M140 92h1M142 92h1M147 92h1M151 92h1M155 92h1M158 92h1M0 93h1M1 93h1M5 93h1M11 93h1M15 93h1M23 93h1M25 93h1M28 93h1M30 93h1M31 93h1M32 93h1M43 93h1M46 93h1M52 93h1M54 93h1M69 93h1M71 93h1M82 93h1M88 93h1M96 93h1M99 93h1M103 93h1M107 93h1M124 93h1M126 93h1M139 93h1M141 93h1M150 93h1M153 93h1M154 93h1M159 93h1M7 94h1M9 94h1M21 94h1M27 94h1M28 94h1M29 94h1M31 94h1M34 94h1M45 94h1M48 94h1M49 94h1M51 94h1M61 94h1M63 94h1M88 94h1M90 94h1M91 94h1M93 94h1M95 94h1M100 94h1M103 94h1M110 94h1M117 94h1M138 94h1M140 94h1M145 94h1M148 94h1M156 94h1M0 95h1M8 95h1M13 95h1M15 95h1M17 95h1M19 95h1M25 95h1M26 95h1M30 95h1M31 95h1M40 95h1M42 95h1M48 95h1M49 95h1M50 95h1M56 95h1M64 95h1M73 95h1M75 95h1M77 95h1M85 95h1M93 95h1M97 95h1M99 95h1M103 95h1M113 95h1M114 95h1M118 95h1M119 95h1M121 95h1M129 95h1M135 95h1M148 95h1M150 95h1M152 95h1M153 95h1M3 96h1M21 96h1M29 96h1M31 96h1M33 96h1M50 96h1M52 96h1M56 96h1M59 96h1M74 96h1M85 96h1M94 96h1M97 96h1M100 96h1M109 96h1M113 96h1M115 96h1M119 96h1M132 96h1M138 96h1M143 96h1M154 96h1M157 96h1M0 97h1M1 97h1M4 97h1M5 97h1M6 97h1M9 97h1M15 97h1M18 97h1M19 97h1M26 97h1M33 97h1M41 97h1M43 97h1M50 97h1M62 97h1M66 97h1M73 97h1M74 97h1M75 97h1M92 97h1M99 97h1M103 97h1M108 97h1M111 97h1M115 97h1M119 97h1M121 97h1M123 97h1M137 97h1M139 97h1M145 97h1M148 97h1M149 97h1M154 97h1M7 98h1M9 98h1M12 98h1M20 98h1M21 98h1M23 98h1M25 98h1M34 98h1M36 98h1M40 98h1M43 98h1M46 98h1M49 98h1M51 98h1M56 98h1M57 98h1M60 98h1M62 98h1M70 98h1M73 98h1M85 98h1M88 98h1M90 98h1M91 98h1M92 98h1M99 98h1M115 98h1M118 98h1M124 98h1M127 98h1M138 98h1M144 98h1M148 98h1M151 98h1M154 98h1M4 99h1M6 99h1M10 99h1M14 99h1M17 99h1M18 99h1M24 99h1M26 99h1M27 99h1M36 99h1M41 99h1M47 99h1M50 99h1M56 99h1M58 99h1M75 99h1M96 99h1M104 99h1M107 99h1M111 99h1M114 99h1M124 99h1M150 99h1M153 99h1M154 99h1M159 99h1M1 100h1M6 100h1M10 100h1M19 100h1M26 100h1M31 100h1M42 100h1M51 100h1M55 100h1M59 100h1M61 100h1M78 100h1M85 100h1M98 100h1M106 100h1M108 100h1M112 100h1M129 100h1M133 100h1M138 100h1M140 100h1M142 100h1M156 100h1M10 101h1M11 101h1M13 101h1M19 101h1M27 101h1M29 101h1M30 101h1M39 101h1M40 101h1M44 101h1M51 101h1M57 101h1M59 101h1M61 101h1M69 101h1M72 101h1M73 101h1M85 101h1M92 101h1M95 101h1M96 101h1M104 101h1M110 101h1M115 101h1M118 101h1M132 101h1M149 101h1M6 102h1M7 102h1M8 102h1M9 102h1M16 102h1M18 102h1M19 102h1M31 102h1M33 102h1M34 102h1M37 102h1M38 102h1M39 102h1M46 102h1M51 102h1M52 102h1M54 102h1M55 102h1M63 102h1M69 102h1M71 102h1M72 102h1M80 102h1M84 102h1M86 102h1M97 102h1M99 102h1M101 102h1M103 102h1M110 102h1M111 102h1M113 102h1M130 102h1M131 102h1M142 102h1M149 102h1M2 103h1M9 103h1M11 103h1M16 103h1M21 103h1M22 103h1M31 103h1M32 103h1M41 103h1M46 103h1M50 103h1M54 103h1M58 103h1M63 103h1M65 103h1M70 103h1M72 103h1M73 103h1M82 103h1M84 103h1M89 103h1M91 103h1M100 103h1M103 103h1M118 103h1M121 103h1M123 103h1M126 103h1M132 103h1M138 103h1M151 103h1M158 103h1M159 103h1M7 104h1M17 104h1M21 104h1M25 104h1M33 104h1M43 104h1M53 104h1M68 104h1M70 104h1M72 104h1M81 104h1M82 104h1M95 104h1M99 104h1M100 104h1M101 104h1M102 104h1M109 104h1M110 104h1M111 104h1M114 104h1M116 104h1M126 104h1M145 104h1M149 104h1M153 104h1M154 104h1M155 104h1M157 104h1M158 104h1M2 105h1M5 105h1M10 105h1M23 105h1M30 105h1M32 105h1M35 105h1M46 105h1M47 105h1M53 105h1M58 105h1M66 105h1M67 105h1M74 105h1M75 105h1M78 105h1M88 105h1M93 105h1M95 105h1M112 105h1M124 105h1M129 105h1M130 105h1M132 105h1M133 105h1M136 105h1M142 105h1M147 105h1M152 105h1M158 105h1M11 106h1M12 106h1M17 106h1M25 106h1M36 106h1M42 106h1M59 106h1M61 106h1M62 106h1M63 106h1M69 106h1M73 106h1M77 106h1M80 106h1M83 106h1M96 106h1M99 106h1M101 106h1M111 106h1M113 106h1M117 106h1M123 106h1M128 106h1M137 106h1M139 106h1M143 106h1M144 106h1M6 107h1M7 107h1M8 107h1M14 107h1M18 107h1M22 107h1M30 107h1M34 107h1M37 107h1M42 107h1M46 107h1M51 107h1M56 107h1M61 107h1M70 107h1M73 107h1M74 107h1M80 107h1M85 107h1M92 107h1M94 107h1M98 107h1M102 107h1M107 107h1M117 107h1M120 107h1M125 107h1M127 107h1M141 107h1M146 107h1M149 107h1M150 107h1M153 107h1M154 107h1M157 107h1M1 108h1M2 108h1M4 108h1M9 108h1M10 108h1M30 108h1M35 108h1M41 108h1M43 108h1M46 108h1M55 108h1M56 108h1M71 108h1M78 108h1M82 108h1M83 108h1M84 108h1M86 108h1M101 108h1M105 108h1M114 108h1M118 108h1M130 108h1M133 108h1M137 108h1M138 108h1M146 108h1M151 108h1M154 108h1M156 108h1M159 108h1M3 109h1M10 109h1M19 109h1M23 109h1M29 109h1M33 109h1M42 109h1M43 109h1M44 109h1M45 109h1M46 109h1M50 109h1M61 109h1M75 109h1M92 109h1M107 109h1M110 109h1M129 109h1M133 109h1M137 109h1M140 109h1M145 109h1M147 109h1M151 109h1M154 109h1M155 109h1M0 110h1M4 110h1M6 110h1M10 110h1M12 110h1M13 110h1M16 110h1M18 110h1M23 110h1M28 110h1M30 110h1M37 110h1M45 110h1M47 110h1M50 110h1M53 110h1M61 110h1M65 110h1M78 110h1M82 110h1M83 110h1M92 110h1M95 110h1M109 110h1M121 110h1M122 110h1M124 110h1M128 110h1M130 110h1M132 110h1M133 110h1M134 110h1M135 110h1M141 110h1M142 110h1M143 110h1M144 110h1M147 110h1M151 110h1M157 110h1M159 110h1M2 111h1M3 111h1M13 111h1M33 111h1M37 111h1M41 111h1M48 111h1M49 111h1M51 111h1M52 111h1M55 111h1M56 111h1M60 111h1M63 111h1M70 111h1M71 111h1M77 111h1M79 111h1M87 111h1M91 111h1M97 111h1M108 111h1M109 111h1M122 111h1M127 111h1M137 111h1M152 111h1M153 111h1M158 111h1M1 112h1M2 112h1M11 112h1M15 112h1M19 112h1M21 112h1M22 112h1M27 112h1M28 112h1M38 112h1M53 112h1M61 112h1M62 112h1M64 112h1M69 112h1M82 112h1M92 112h1M93 112h1M99 112h1M101 112h1M102 112h1M103 112h1M109 112h1M112 112h1M114 112h1M116 112h1M117 112h1M118 112h1M121 112h1M128 112h1M135 112h1M140 112h1M143 112h1M159 112h1M0 113h1M3 113h1M8 113h1M16 113h1M18 113h1M19 113h1M27 113h1M29 113h1M32 113h1M34 113h1M42 113h1M52 113h1M55 113h1M57 113h1M60 113h1M66 113h1M75 113h1M76 113h1M82 113h1M85 113h1M89 113h1M98 113h1M102 113h1M105 113h1M107 113h1M118 113h1M124 113h1M129 113h1M133 113h1M135 113h1M138 113h1M141 113h1M157 113h1M158 113h1M0 114h1M1 114h1M7 114h1M8 114h1M9 114h1M14 114h1M20 114h1M22 114h1M40 114h1M43 114h1M46 114h1M51 114h1M65 114h1M66 114h1M69 114h1M85 114h1M89 114h1M91 114h1M95 114h1M97 114h1M98 114h1M100 114h1M106 114h1M127 114h1M131 114h1M132 114h1M134 114h1M137 114h1M140 114h1M151 114h1M155 114h1M157 114h1M158 114h1M1 115h1M4 115h1M7 115h1M8 115h1M9 115h1M12 115h1M25 115h1M28 115h1M35 115h1M41 115h1M44 115h1M46 115h1M61 115h1M62 115h1M63 115h1M73 115h1M77 115h1M85 115h1M91 115h1M97 115h1M101 115h1M108 115h1M110 115h1M117 115h1M128 115h1M131 115h1M140 115h1M141 115h1M148 115h1M151 115h1M152 115h1M156 115h1M157 115h1M158 115h1M159 115h1M3 116h1M7 116h1M9 116h1M16 116h1M20 116h1M23 116h1M24 116h1M32 116h1M33 116h1M38 116h1M48 116h1M56 116h1M57 116h1M59 116h1M62 116h1M70 116h1M78 116h1M82 116h1M85 116h1M87 116h1M100 116h1M102 116h1M110 116h1M115 116h1M120 116h1M128 116h1M130 116h1M145 116h1M146 116h1M150 116h1M158 116h1M159 116h1M1 117h1M9 117h1M23 117h1M24 117h1M27 117h1M28 117h1M33 117h1M40 117h1M42 117h1M47 117h1M49 117h1M57 117h1M66 117h1M75 117h1M80 117h1M86 117h1M90 117h1M92 117h1M95 117h1M96 117h1M99 117h1M100 117h1M101 117h1M103 117h1M104 117h1M106 117h1M113 117h1M115 117h1M119 117h1M136 117h1M137 117h1M141 117h1M143 117h1M145 117h1M147 117h1M151 117h1M152 117h1M154 117h1M156 117h1M157 117h1M1 118h1M5 118h1M8 118h1M15 118h1M23 118h1M26 118h1M27 118h1M29 118h1M33 118h1M35 118h1M43 118h1M52 118h1M57 118h1M59 118h1M61 118h1M71 118h1M77 118h1M79 118h1M89 118h1M91 118h1M94 118h1M95 118h1M97 118h1M103 118h1M104 118h1M114 118h1M117 118h1M120 118h1M124 118h1M126 118h1M130 118h1M132 118h1M133 118h1M138 118h1M142 118h1M149 118h1M156 118h1M4 119h1M6 119h1M7 119h1M8 119h1M9 119h1M15 119h1M21 119h1M25 119h1M26 119h1M33 119h1M36 119h1M54 119h1M61 119h1M66 119h1M69 119h1M77 119h1M79 119h1M80 119h1M85 119h1M89 119h1M96 119h1M100 119h1M110 119h1M116 119h1M123 119h1M132 119h1M134 119h1M135 119h1M139 119h1M145 119h1M146 119h1M157 119h1M158 119h1M159 119h1M5 120h1M17 120h1M28 120h1M31 120h1M32 120h1M34 120h1M36 120h1M38 120h1M41 120h1M45 120h1M51 120h1M52 120h1M58 120h1M59 120h1M62 120h1M64 120h1M67 120h1M69 120h1M77 120h1M81 120h1M83 120h1M85 120h1M86 120h1M96 120h1M98 120h1M101 120h1M102 120h1M105 120h1M109 120h1M112 120h1M113 120h1M119 120h1M122 120h1M126 120h1M127 120h1M1 121h1M2 121h1M11 121h1M15 121h1M17 121h1M19 121h1M20 121h1M22 121h1M23 121h1M30 121h1M31 121h1M42 121h1M45 121h1M50 121h1M59 121h1M61 121h1M67 121h1M72 121h1M77 121h1M78 121h1M80 121h1M82 121h1M83 121h1M87 121h1M94 121h1M103 121h1M106 121h1M123 121h1M126 121h1M130 121h1M137 121h1M148 121h1M149 121h1M151 121h1M155 121h1M9 122h1M11 122h1M13 122h1M16 122h1M21 122h1M22 122h1M23 122h1M24 122h1M27 122h1M35 122h1M50 122h1M57 122h1M63 122h1M65 122h1M71 122h1M73 122h1M76 122h1M81 122h1M85 122h1M86 122h1M87 122h1M89 122h1M90 122h1M92 122h1M93 122h1M101 122h1M108 122h1M113 122h1M114 122h1M125 122h1M130 122h1M147 122h1M151 122h1M154 122h1M156 122h1M0 123h1M3 123h1M9 123h1M12 123h1M13 123h1M16 123h1M26 123h1M28 123h1M30 123h1M34 123h1M35 123h1M45 123h1M47 123h1M51 123h1M52 123h1M59 123h1M61 123h1M62 123h1M67 123h1M69 123h1M76 123h1M87 123h1M90 123h1M92 123h1M98 123h1M114 123h1M120 123h1M123 123h1M124 123h1M127 123h1M130 123h1M139 123h1M159 123h1M4 124h1M6 124h1M19 124h1M33 124h1M35 124h1M38 124h1M42 124h1M49 124h1M50 124h1M57 124h1M58 124h1M60 124h1M67 124h1M71 124h1M76 124h1M77 124h1M84 124h1M85 124h1M90 124h1M91 124h1M94 124h1M95 124h1M106 124h1M115 124h1M121 124h1M131 124h1M133 124h1M137 124h1M139 124h1M140 124h1M146 124h1M147 124h1M148 124h1M150 124h1M153 124h1M157 124h1M158 124h1M2 125h1M4 125h1M5 125h1M13 125h1M16 125h1M24 125h1M27 125h1M28 125h1M31 125h1M37 125h1M38 125h1M41 125h1M55 125h1M58 125h1M62 125h1M65 125h1M70 125h1M79 125h1M81 125h1M82 125h1M87 125h1M92 125h1M100 125h1M103 125h1M109 125h1M113 125h1M114 125h1M120 125h1M122 125h1M126 125h1M136 125h1M138 125h1M140 125h1M149 125h1M150 125h1M151 125h1M152 125h1M155 125h1M159 125h1M11 126h1M15 126h1M18 126h1M27 126h1M29 126h1M31 126h1M33 126h1M34 126h1M46 126h1M49 126h1M56 126h1M59 126h1M61 126h1M65 126h1M72 126h1M74 126h1M76 126h1M84 126h1M89 126h1M90 126h1M91 126h1M92 126h1M93 126h1M97 126h1M101 126h1M103 126h1M104 126h1M114 126h1M115 126h1M116 126h1M119 126h1M121 126h1M122 126h1M141 126h1M147 126h1M148 126h1M152 126h1M155 126h1M158 126h1M5 127h1M6 127h1M8 127h1M17 127h1M21 127h1M27 127h1M31 127h1M32 127h1M47 127h1M51 127h1M61 127h1M63 127h1M65 127h1M75 127h1M76 127h1M82 127h1M83 127h1M85 127h1M91 127h1M94 127h1M96 127h1M100 127h1M106 127h1M109 127h1M112 127h1M113 127h1M115 127h1M125 127h1M129 127h1M136 127h1M152 127h1M5 128h1M8 128h1M10 128h1M13 128h1M27 128h1M30 128h1M37 128h1M40 128h1M56 128h1M59 128h1M60 128h1M61 128h1M72 128h1M78 128h1M83 128h1M90 128h1M102 128h1M104 128h1M116 128h1M119 128h1M122 128h1M130 128h1M131 128h1M141 128h1M151 128h1M152 128h1M158 128h1M6 129h1M15 129h1M25 129h1M26 129h1M31 129h1M38 129h1M55 129h1M66 129h1M70 129h1M73 129h1M81 129h1M86 129h1M88 129h1M92 129h1M94 129h1M95 129h1M97 129h1M100 129h1M108 129h1M111 129h1M118 129h1M127 129h1M133 129h1M142 129h1M145 129h1M151 129h1M152 129h1M155 129h1M157 129h1M158 129h1M3 130h1M9 130h1M11 130h1M16 130h1M28 130h1M36 130h1M40 130h1M46 130h1M53 130h1M58 130h1M61 130h1M62 130h1M63 130h1M75 130h1M76 130h1M77 130h1M80 130h1M88 130h1M91 130h1M96 130h1M105 130h1M110 130h1M114 130h1M116 130h1M128 130h1M136 130h1M137 130h1M144 130h1M145 130h1M147 130h1M148 130h1M150 130h1M153 130h1M156 130h1M157 130h1M0 131h1M1 131h1M5 131h1M6 131h1M22 131h1M23 131h1M29 131h1M30 131h1M32 131h1M44 131h1M50 131h1M51 131h1M66 131h1M68 131h1M70 131h1M72 131h1M79 131h1M82 131h1M87 131h1M88 131h1M96 131h1M100 131h1M105 131h1M110 131h1M117 131h1M127 131h1M134 131h1M137 131h1M141 131h1M142 131h1M151 131h1M157 131h1M2 132h1M3 132h1M15 132h1M17 132h1M18 132h1M21 132h1M27 132h1M30 132h1M33 132h1M38 132h1M39 132h1M40 132h1M50 132h1M66 132h1M76 132h1M79 132h1M84 132h1M89 132h1M94 132h1M100 132h1M110 132h1M115 132h1M131 132h1M134 132h1M141 132h1M142 132h1M154 132h1M156 132h1M159 132h1M11 133h1M24 133h1M25 133h1M39 133h1M45 133h1M46 133h1M55 133h1M58 133h1M60 133h1M72 133h1M81 133h1M90 133h1M91 133h1M94 133h1M105 133h1M108 133h1M110 133h1M113 133h1M118 133h1M121 133h1M122 133h1M123 133h1M132 133h1M138 133h1M143 133h1M0 134h1M5 134h1M13 134h1M15 134h1M22 134h1M29 134h1M33 134h1M36 134h1M48 134h1M49 134h1M53 134h1M55 134h1M57 134h1M58 134h1M66 134h1M79 134h1M82 134h1M87 134h1M90 134h1M92 134h1M99 134h1M110 134h1M113 134h1M121 134h1M127 134h1M131 134h1M147 134h1M149 134h1M159 134h1M5 135h1M12 135h1M17 135h1M22 135h1M29 135h1M46 135h1M65 135h1M66 135h1M69 135h1M77 135h1M101 135h1M103 135h1M116 135h1M119 135h1M120 135h1M122 135h1M140 135h1M141 135h1M146 135h1M147 135h1M148 135h1M149 135h1M154 135h1M158 135h1M0 136h1M6 136h1M9 136h1M20 136h1M30 136h1M38 136h1M39 136h1M41 136h1M48 136h1M53 136h1M58 136h1M64 136h1M68 136h1M70 136h1M77 136h1M79 136h1M96 136h1M99 136h1M100 136h1M101 136h1M104 136h1M109 136h1M126 136h1M132 136h1M135 136h1M137 136h1M139 136h1M141 136h1M142 136h1M143 136h1M145 136h1M150 136h1M153 136h1M155 136h1M7 137h1M15 137h1M21 137h1M33 137h1M38 137h1M43 137h1M44 137h1M45 137h1M52 137h1M53 137h1M56 137h1M57 137h1M70 137h1M74 137h1M78 137h1M79 137h1M84 137h1M102 137h1M108 137h1M116 137h1M123 137h1M127 137h1M129 137h1M130 137h1M135 137h1M138 137h1M139 137h1M142 137h1M146 137h1M152 137h1M153 137h1M4 138h1M5 138h1M14 138h1M17 138h1M22 138h1M25 138h1M32 138h1M37 138h1M50 138h1M51 138h1M58 138h1M62 138h1M73 138h1M74 138h1M77 138h1M79 138h1M84 138h1M94 138h1M96 138h1M106 138h1M110 138h1M118 138h1M124 138h1M125 138h1M128 138h1M129 138h1M133 138h1M144 138h1M156 138h1M157 138h1M158 138h1M0 139h1M2 139h1M10 139h1M13 139h1M20 139h1M23 139h1M27 139h1M47 139h1M50 139h1M51 139h1M54 139h1M57 139h1M64 139h1M68 139h1M78 139h1M82 139h1M85 139h1M87 139h1M89 139h1M97 139h1M102 139h1M106 139h1M109 139h1M116 139h1M119 139h1M136 139h1M142 139h1M145 139h1M146 139h1M159 139h1M3 140h1M4 140h1M6 140h1M16 140h1M21 140h1M22 140h1M24 140h1M27 140h1M33 140h1M39 140h1M41 140h1M45 140h1M47 140h1M63 140h1M67 140h1M73 140h1M78 140h1M84 140h1M85 140h1M86 140h1M87 140h1M92 140h1M95 140h1M96 140h1M117 140h1M118 140h1M124 140h1M126 140h1M134 140h1M139 140h1M143 140h1M148 140h1M149 140h1M151 140h1M154 140h1M159 140h1M9 141h1M14 141h1M19 141h1M21 141h1M22 141h1M24 141h1M25 141h1M29 141h1M31 141h1M34 141h1M36 141h1M37 141h1M39 141h1M40 141h1M42 141h1M57 141h1M66 141h1M70 141h1M76 141h1M81 141h1M86 141h1M87 141h1M99 141h1M102 141h1M110 141h1M112 141h1M120 141h1M124 141h1M126 141h1M127 141h1M128 141h1M159 141h1M0 142h1M7 142h1M11 142h1M13 142h1M28 142h1M37 142h1M45 142h1M52 142h1M63 142h1M64 142h1M65 142h1M73 142h1M78 142h1M86 142h1M92 142h1M108 142h1M110 142h1M111 142h1M117 142h1M120 142h1M135 142h1M136 142h1M137 142h1M148 142h1M150 142h1M151 142h1M154 142h1M156 142h1M1 143h1M3 143h1M8 143h1M9 143h1M10 143h1M19 143h1M28 143h1M29 143h1M30 143h1M32 143h1M45 143h1M57 143h1M58 143h1M59 143h1M61 143h1M63 143h1M64 143h1M68 143h1M71 143h1M77 143h1M78 143h1M79 143h1M86 143h1M98 143h1M110 143h1M111 143h1M119 143h1M121 143h1M133 143h1M140 143h1M149 143h1M152 143h1M159 143h1M0 144h1M2 144h1M4 144h1M8 144h1M14 144h1M30 144h1M53 144h1M60 144h1M64 144h1M65 144h1M69 144h1M73 144h1M78 144h1M80 144h1M82 144h1M87 144h1M92 144h1M99 144h1M107 144h1M111 144h1M115 144h1M119 144h1M120 144h1M130 144h1M141 144h1M144 144h1M145 144h1M157 144h1M159 144h1M1 145h1M5 145h1M8 145h1M11 145h1M12 145h1M19 145h1M20 145h1M22 145h1M25 145h1M31 145h1M36 145h1M42 145h1M46 145h1M52 145h1M55 145h1M59 145h1M63 145h1M64 145h1M67 145h1M68 145h1M75 145h1M83 145h1M89 145h1M94 145h1M105 145h1M109 145h1M112 145h1M115 145h1M120 145h1M128 145h1M129 145h1M133 145h1M135 145h1M149 145h1M155 145h1M156 145h1M157 145h1M159 145h1M5 146h1M12 146h1M14 146h1M15 146h1M19 146h1M23 146h1M25 146h1M28 146h1M35 146h1M36 146h1M40 146h1M41 146h1M44 146h1M50 146h1M53 146h1M54 146h1M58 146h1M62 146h1M65 146h1M69 146h1M77 146h1M80 146h1M96 146h1M98 146h1M102 146h1M103 146h1M109 146h1M110 146h1M114 146h1M119 146h1M131 146h1M132 146h1M139 146h1M142 146h1M153 146h1M5 147h1M8 147h1M9 147h1M17 147h1M21 147h1M31 147h1M36 147h1M37 147h1M43 147h1M44 147h1M60 147h1M69 147h1M70 147h1M72 147h1M75 147h1M76 147h1M89 147h1M91 147h1M98 147h1M101 147h1M104 147h1M109 147h1M111 147h1M112 147h1M113 147h1M119 147h1M120 147h1M124 147h1M129 147h1M134 147h1M136 147h1M137 147h1M142 147h1M144 147h1M157 147h1M159 147h1M1 148h1M13 148h1M15 148h1M28 148h1M30 148h1M32 148h1M34 148h1M35 148h1M36 148h1M49 148h1M50 148h1M51 148h1M55 148h1M63 148h1M67 148h1M74 148h1M79 148h1M80 148h1M88 148h1M97 148h1M104 148h1M107 148h1M108 148h1M110 148h1M113 148h1M116 148h1M122 148h1M123 148h1M128 148h1M147 148h1M150 148h1M5 149h1M7 149h1M10 149h1M11 149h1M14 149h1M15 149h1M19 149h1M28 149h1M33 149h1M38 149h1M41 149h1M42 149h1M46 149h1M47 149h1M54 149h1M65 149h1M68 149h1M75 149h1M81 149h1M84 149h1M91 149h1M98 149h1M100 149h1M106 149h1M107 149h1M112 149h1M114 149h1M121 149h1M122 149h1M133 149h1M135 149h1M143 149h1M147 149h1M149 149h1M153 149h1M158 149h1M3 150h1M4 150h1M5 150h1M9 150h1M14 150h1M19 150h1M28 150h1M42 150h1M48 150h1M53 150h1M54 150h1M57 150h1M58 150h1M60 150h1M74 150h1M75 150h1M79 150h1M86 150h1M87 150h1M94 150h1M104 150h1M106 150h1M107 150h1M108 150h1M110 150h1M115 150h1M128 150h1M130 150h1M132 150h1M136 150h1M142 150h1M145 150h1M148 150h1M153 150h1M158 150h1M159 150h1M25 151h1M26 151h1M28 151h1M37 151h1M39 151h1M48 151h1M50 151h1M69 151h1M71 151h1M92 151h1M94 151h1M101 151h1M102 151h1M118 151h1M122 151h1M124 151h1M128 151h1M129 151h1M131 151h1M138 151h1M148 151h1M152 151h1M155 151h1M4 152h1M6 152h1M7 152h1M9 152h1M14 152h1M16 152h1M18 152h1M21 152h1M22 152h1M24 152h1M30 152h1M33 152h1M36 152h1M41 152h1M46 152h1M47 152h1M48 152h1M52 152h1M60 152h1M61 152h1M72 152h1M78 152h1M92 152h1M94 152h1M95 152h1M97 152h1M102 152h1M109 152h1M113 152h1M117 152h1M123 152h1M126 152h1M134 152h1M145 152h1M150 152h1M151 152h1M0 153h1M8 153h1M11 153h1M13 153h1M14 153h1M19 153h1M22 153h1M28 153h1M29 153h1M30 153h1M44 153h1M46 153h1M56 153h1M57 153h1M62 153h1M64 153h1M66 153h1M76 153h1M80 153h1M89 153h1M104 153h1M109 153h1M117 153h1M126 153h1M127 153h1M133 153h1M153 153h1M155 153h1M156 153h1M159 153h1M0 154h1M9 154h1M11 154h1M34 154h1M37 154h1M42 154h1M46 154h1M56 154h1M60 154h1M61 154h1M64 154h1M65 154h1M68 154h1M77 154h1M86 154h1M88 154h1M90 154h1M92 154h1M96 154h1M97 154h1M99 154h1M106 154h1M113 154h1M114 154h1M115 154h1M119 154h1M121 154h1M133 154h1M134 154h1M135 154h1M137 154h1M147 154h1M149 154h1M150 154h1M153 154h1M1 155h1M13 155h1M15 155h1M16 155h1M17 155h1M18 155h1M23 155h1M28 155h1M29 155h1M33 155h1M46 155h1M47 155h1M52 155h1M63 155h1M66 155h1M70 155h1M73 155h1M80 155h1M83 155h1M86 155h1M98 155h1M99 155h1M101 155h1M102 155h1M103 155h1M105 155h1M112 155h1M114 155h1M121 155h1M124 155h1M127 155h1M133 155h1M137 155h1M139 155h1M145 155h1M149 155h1M156 155h1M0 156h1M1 156h1M9 156h1M11 156h1M14 156h1M17 156h1M21 156h1M30 156h1M35 156h1M37 156h1M47 156h1M54 156h1M57 156h1M61 156h1M64 156h1M67 156h1M77 156h1M81 156h1M82 156h1M87 156h1M88 156h1M92 156h1M100 156h1M103 156h1M106 156h1M118 156h1M121 156h1M126 156h1M131 156h1M135 156h1M138 156h1M141 156h1M146 156h1M148 156h1M150 156h1M158 156h1M6 157h1M7 157h1M10 157h1M15 157h1M23 157h1M24 157h1M27 157h1M31 157h1M36 157h1M39 157h1M47 157h1M49 157h1M56 157h1M57 157h1M77 157h1M88 157h1M102 157h1M103 157h1M114 157h1M115 157h1M118 157h1M128 157h1M131 157h1M133 157h1M134 157h1M136 157h1M141 157h1M157 157h1M158 157h1M1 158h1M2 158h1M3 158h1M11 158h1M18 158h1M35 158h1M38 158h1M47 158h1M57 158h1M61 158h1M64 158h1M73 158h1M75 158h1M76 158h1M79 158h1M87 158h1M93 158h1M105 158h1M111 158h1M122 158h1M132 158h1M136 158h1M137 158h1M141 158h1M146 158h1M149 158h1M151 158h1M153 158h1M158 158h1M16 159h1M18 159h1M28 159h1M39 159h1M45 159h1M48 159h1M55 159h1M58 159h1M63 159h1M66 159h1M67 159h1M69 159h1M70 159h1M74 159h1M76 159h1M84 159h1M86 159h1M87 159h1M91 159h1M97 159h1M103 159h1M104 159h1M105 159h1M111 159h1M142 159h1M145 159h1M150 159h1M153 159h1M155 159h1" stroke="#fff" stroke-width="1" fill="none" transform="translate(0,0.5)" shape-rendering="crispEdges"/>
</pattern>
<filter id="bl" x="-2%" y="-2%" width="104%" height="104%"><feConvolveMatrix order="3" kernelMatrix="0.25 0.9 0.25 0.9 9.6 0.9 0.25 0.9 0.25" divisor="14.2" edgeMode="duplicate" preserveAlpha="true" result="c"/><feTurbulence type="fractalNoise" baseFrequency="0.75" numOctaves="2" seed="5" result="t"/><feColorMatrix in="t" type="matrix" values="1 0 0 0 0  1 0 0 0 0  1 0 0 0 0  0 0 0 0 1" result="g"/><feComposite in="c" in2="g" operator="arithmetic" k1="0" k2="1" k3="0.16" k4="-0.08" result="m"/><feComposite in="m" in2="SourceAlpha" operator="in"/></filter>
<pattern id="nz2" width="160" height="160" patternUnits="userSpaceOnUse" patternTransform="translate(37,53)">
<path d="M8 0h1M10 0h1M20 0h1M25 0h1M28 0h1M32 0h1M34 0h1M37 0h1M45 0h1M46 0h1M49 0h1M54 0h1M59 0h1M62 0h1M66 0h1M68 0h1M85 0h1M92 0h1M95 0h1M100 0h1M111 0h1M118 0h1M123 0h1M126 0h1M129 0h1M134 0h1M136 0h1M137 0h1M144 0h1M152 0h1M159 0h1M0 1h1M14 1h1M19 1h1M20 1h1M28 1h1M30 1h1M41 1h1M43 1h1M44 1h1M48 1h1M54 1h1M55 1h1M56 1h1M62 1h1M66 1h1M68 1h1M73 1h1M79 1h1M81 1h1M90 1h1M91 1h1M108 1h1M116 1h1M120 1h1M123 1h1M124 1h1M126 1h1M143 1h1M150 1h1M153 1h1M154 1h1M155 1h1M157 1h1M159 1h1M2 2h1M7 2h1M9 2h1M22 2h1M24 2h1M25 2h1M41 2h1M45 2h1M53 2h1M54 2h1M59 2h1M64 2h1M75 2h1M76 2h1M78 2h1M88 2h1M89 2h1M90 2h1M93 2h1M96 2h1M97 2h1M106 2h1M108 2h1M117 2h1M126 2h1M127 2h1M131 2h1M132 2h1M138 2h1M139 2h1M147 2h1M151 2h1M152 2h1M156 2h1M0 3h1M5 3h1M10 3h1M12 3h1M13 3h1M17 3h1M25 3h1M28 3h1M32 3h1M37 3h1M40 3h1M46 3h1M51 3h1M55 3h1M56 3h1M57 3h1M58 3h1M60 3h1M62 3h1M67 3h1M71 3h1M81 3h1M83 3h1M84 3h1M87 3h1M90 3h1M92 3h1M96 3h1M100 3h1M104 3h1M106 3h1M116 3h1M124 3h1M128 3h1M131 3h1M134 3h1M141 3h1M147 3h1M149 3h1M3 4h1M5 4h1M9 4h1M24 4h1M32 4h1M35 4h1M40 4h1M44 4h1M48 4h1M64 4h1M69 4h1M73 4h1M74 4h1M78 4h1M86 4h1M100 4h1M101 4h1M102 4h1M103 4h1M104 4h1M113 4h1M118 4h1M122 4h1M127 4h1M130 4h1M132 4h1M133 4h1M140 4h1M147 4h1M152 4h1M158 4h1M1 5h1M11 5h1M13 5h1M17 5h1M18 5h1M19 5h1M34 5h1M38 5h1M39 5h1M52 5h1M58 5h1M62 5h1M66 5h1M70 5h1M74 5h1M77 5h1M80 5h1M83 5h1M85 5h1M92 5h1M95 5h1M103 5h1M114 5h1M117 5h1M121 5h1M131 5h1M134 5h1M143 5h1M147 5h1M148 5h1M150 5h1M152 5h1M153 5h1M158 5h1M4 6h1M6 6h1M11 6h1M14 6h1M18 6h1M21 6h1M24 6h1M38 6h1M40 6h1M41 6h1M47 6h1M61 6h1M63 6h1M64 6h1M65 6h1M70 6h1M72 6h1M78 6h1M85 6h1M88 6h1M94 6h1M108 6h1M117 6h1M119 6h1M121 6h1M124 6h1M125 6h1M126 6h1M129 6h1M130 6h1M131 6h1M133 6h1M134 6h1M138 6h1M139 6h1M144 6h1M146 6h1M154 6h1M155 6h1M157 6h1M6 7h1M8 7h1M11 7h1M12 7h1M15 7h1M16 7h1M20 7h1M21 7h1M23 7h1M28 7h1M32 7h1M38 7h1M45 7h1M51 7h1M52 7h1M55 7h1M58 7h1M60 7h1M72 7h1M76 7h1M80 7h1M89 7h1M91 7h1M92 7h1M94 7h1M100 7h1M101 7h1M104 7h1M112 7h1M117 7h1M118 7h1M124 7h1M127 7h1M128 7h1M130 7h1M132 7h1M134 7h1M137 7h1M138 7h1M147 7h1M153 7h1M154 7h1M156 7h1M4 8h1M5 8h1M6 8h1M9 8h1M11 8h1M15 8h1M21 8h1M27 8h1M28 8h1M29 8h1M32 8h1M35 8h1M36 8h1M39 8h1M42 8h1M51 8h1M52 8h1M56 8h1M59 8h1M63 8h1M67 8h1M68 8h1M69 8h1M74 8h1M76 8h1M79 8h1M81 8h1M84 8h1M93 8h1M94 8h1M95 8h1M107 8h1M111 8h1M113 8h1M115 8h1M119 8h1M121 8h1M132 8h1M140 8h1M141 8h1M142 8h1M143 8h1M152 8h1M155 8h1M157 8h1M2 9h1M6 9h1M17 9h1M18 9h1M24 9h1M43 9h1M46 9h1M49 9h1M53 9h1M58 9h1M77 9h1M81 9h1M83 9h1M91 9h1M99 9h1M101 9h1M107 9h1M108 9h1M117 9h1M122 9h1M123 9h1M138 9h1M142 9h1M149 9h1M156 9h1M0 10h1M1 10h1M4 10h1M15 10h1M26 10h1M28 10h1M31 10h1M33 10h1M38 10h1M45 10h1M50 10h1M53 10h1M61 10h1M65 10h1M75 10h1M80 10h1M88 10h1M89 10h1M94 10h1M104 10h1M105 10h1M112 10h1M113 10h1M117 10h1M126 10h1M127 10h1M128 10h1M131 10h1M136 10h1M138 10h1M145 10h1M146 10h1M156 10h1M5 11h1M9 11h1M12 11h1M15 11h1M20 11h1M23 11h1M28 11h1M30 11h1M33 11h1M36 11h1M42 11h1M43 11h1M44 11h1M49 11h1M52 11h1M57 11h1M65 11h1M70 11h1M74 11h1M75 11h1M76 11h1M80 11h1M82 11h1M84 11h1M95 11h1M98 11h1M100 11h1M101 11h1M103 11h1M106 11h1M110 11h1M116 11h1M122 11h1M130 11h1M133 11h1M136 11h1M141 11h1M145 11h1M5 12h1M7 12h1M9 12h1M12 12h1M19 12h1M20 12h1M28 12h1M30 12h1M31 12h1M32 12h1M33 12h1M35 12h1M41 12h1M43 12h1M45 12h1M50 12h1M53 12h1M66 12h1M72 12h1M73 12h1M76 12h1M77 12h1M80 12h1M81 12h1M87 12h1M92 12h1M95 12h1M97 12h1M100 12h1M102 12h1M104 12h1M110 12h1M114 12h1M118 12h1M125 12h1M128 12h1M130 12h1M132 12h1M136 12h1M137 12h1M138 12h1M149 12h1M1 13h1M4 13h1M8 13h1M10 13h1M24 13h1M25 13h1M39 13h1M45 13h1M48 13h1M51 13h1M56 13h1M66 13h1M68 13h1M80 13h1M83 13h1M92 13h1M94 13h1M96 13h1M102 13h1M103 13h1M105 13h1M113 13h1M114 13h1M118 13h1M119 13h1M127 13h1M133 13h1M137 13h1M138 13h1M140 13h1M144 13h1M147 13h1M158 13h1M0 14h1M2 14h1M3 14h1M7 14h1M9 14h1M10 14h1M17 14h1M20 14h1M22 14h1M24 14h1M27 14h1M29 14h1M34 14h1M38 14h1M50 14h1M54 14h1M59 14h1M73 14h1M80 14h1M83 14h1M93 14h1M106 14h1M114 14h1M121 14h1M122 14h1M125 14h1M127 14h1M128 14h1M132 14h1M133 14h1M135 14h1M136 14h1M142 14h1M144 14h1M150 14h1M155 14h1M156 14h1M1 15h1M6 15h1M8 15h1M18 15h1M22 15h1M24 15h1M26 15h1M27 15h1M28 15h1M34 15h1M35 15h1M37 15h1M38 15h1M39 15h1M48 15h1M50 15h1M51 15h1M53 15h1M56 15h1M58 15h1M60 15h1M73 15h1M77 15h1M82 15h1M85 15h1M95 15h1M101 15h1M104 15h1M107 15h1M110 15h1M112 15h1M113 15h1M129 15h1M132 15h1M137 15h1M138 15h1M141 15h1M142 15h1M143 15h1M146 15h1M158 15h1M0 16h1M3 16h1M8 16h1M9 16h1M15 16h1M17 16h1M22 16h1M23 16h1M24 16h1M34 16h1M38 16h1M40 16h1M42 16h1M46 16h1M51 16h1M52 16h1M53 16h1M55 16h1M56 16h1M59 16h1M68 16h1M73 16h1M77 16h1M79 16h1M81 16h1M86 16h1M88 16h1M93 16h1M101 16h1M102 16h1M103 16h1M104 16h1M110 16h1M112 16h1M122 16h1M128 16h1M131 16h1M142 16h1M147 16h1M149 16h1M155 16h1M4 17h1M5 17h1M7 17h1M9 17h1M22 17h1M25 17h1M29 17h1M49 17h1M52 17h1M75 17h1M88 17h1M90 17h1M91 17h1M95 17h1M99 17h1M100 17h1M106 17h1M110 17h1M118 17h1M119 17h1M120 17h1M122 17h1M126 17h1M132 17h1M133 17h1M141 17h1M142 17h1M145 17h1M146 17h1M149 17h1M151 17h1M2 18h1M4 18h1M11 18h1M19 18h1M21 18h1M24 18h1M26 18h1M27 18h1M32 18h1M33 18h1M34 18h1M36 18h1M40 18h1M41 18h1M44 18h1M45 18h1M46 18h1M47 18h1M53 18h1M54 18h1M56 18h1M57 18h1M65 18h1M70 18h1M71 18h1M73 18h1M74 18h1M85 18h1M86 18h1M89 18h1M91 18h1M95 18h1M97 18h1M98 18h1M100 18h1M101 18h1M104 18h1M105 18h1M119 18h1M126 18h1M132 18h1M137 18h1M140 18h1M144 18h1M145 18h1M151 18h1M154 18h1M0 19h1M3 19h1M7 19h1M9 19h1M18 19h1M25 19h1M27 19h1M28 19h1M33 19h1M39 19h1M50 19h1M52 19h1M56 19h1M60 19h1M62 19h1M68 19h1M70 19h1M71 19h1M76 19h1M83 19h1M89 19h1M93 19h1M99 19h1M103 19h1M107 19h1M111 19h1M112 19h1M113 19h1M118 19h1M126 19h1M149 19h1M158 19h1M1 20h1M6 20h1M13 20h1M19 20h1M21 20h1M26 20h1M28 20h1M31 20h1M35 20h1M50 20h1M55 20h1M57 20h1M68 20h1M69 20h1M77 20h1M81 20h1M97 20h1M98 20h1M100 20h1M113 20h1M119 20h1M144 20h1M148 20h1M152 20h1M5 21h1M6 21h1M7 21h1M9 21h1M12 21h1M14 21h1M22 21h1M26 21h1M32 21h1M34 21h1M36 21h1M38 21h1M43 21h1M52 21h1M55 21h1M61 21h1M62 21h1M63 21h1M70 21h1M81 21h1M92 21h1M93 21h1M97 21h1M102 21h1M107 21h1M108 21h1M113 21h1M121 21h1M122 21h1M124 21h1M133 21h1M140 21h1M142 21h1M145 21h1M150 21h1M151 21h1M159 21h1M2 22h1M4 22h1M5 22h1M11 22h1M17 22h1M20 22h1M26 22h1M28 22h1M30 22h1M32 22h1M34 22h1M38 22h1M46 22h1M66 22h1M67 22h1M70 22h1M71 22h1M74 22h1M78 22h1M81 22h1M82 22h1M85 22h1M86 22h1M95 22h1M101 22h1M102 22h1M105 22h1M114 22h1M116 22h1M126 22h1M131 22h1M134 22h1M136 22h1M138 22h1M139 22h1M144 22h1M157 22h1M159 22h1M2 23h1M6 23h1M22 23h1M33 23h1M34 23h1M36 23h1M40 23h1M42 23h1M47 23h1M50 23h1M52 23h1M53 23h1M54 23h1M66 23h1M68 23h1M69 23h1M71 23h1M72 23h1M80 23h1M81 23h1M82 23h1M83 23h1M84 23h1M98 23h1M111 23h1M113 23h1M118 23h1M137 23h1M142 23h1M148 23h1M151 23h1M10 24h1M16 24h1M17 24h1M18 24h1M23 24h1M31 24h1M33 24h1M37 24h1M52 24h1M55 24h1M58 24h1M71 24h1M73 24h1M81 24h1M90 24h1M91 24h1M94 24h1M95 24h1M102 24h1M112 24h1M127 24h1M128 24h1M132 24h1M134 24h1M137 24h1M141 24h1M142 24h1M147 24h1M150 24h1M155 24h1M156 24h1M157 24h1M4 25h1M9 25h1M12 25h1M14 25h1M24 25h1M30 25h1M34 25h1M38 25h1M39 25h1M43 25h1M44 25h1M62 25h1M65 25h1M67 25h1M68 25h1M71 25h1M78 25h1M79 25h1M83 25h1M84 25h1M86 25h1M88 25h1M90 25h1M100 25h1M104 25h1M107 25h1M109 25h1M111 25h1M115 25h1M118 25h1M120 25h1M122 25h1M126 25h1M133 25h1M137 25h1M142 25h1M147 25h1M151 25h1M1 26h1M5 26h1M10 26h1M15 26h1M17 26h1M19 26h1M20 26h1M28 26h1M32 26h1M33 26h1M34 26h1M35 26h1M37 26h1M40 26h1M45 26h1M49 26h1M50 26h1M51 26h1M53 26h1M57 26h1M59 26h1M60 26h1M63 26h1M71 26h1M72 26h1M77 26h1M80 26h1M83 26h1M92 26h1M93 26h1M100 26h1M101 26h1M104 26h1M105 26h1M110 26h1M111 26h1M112 26h1M114 26h1M123 26h1M138 26h1M145 26h1M146 26h1M154 26h1M155 26h1M9 27h1M10 27h1M12 27h1M17 27h1M18 27h1M20 27h1M25 27h1M28 27h1M34 27h1M48 27h1M49 27h1M50 27h1M53 27h1M68 27h1M71 27h1M74 27h1M76 27h1M79 27h1M81 27h1M82 27h1M85 27h1M88 27h1M89 27h1M97 27h1M100 27h1M104 27h1M110 27h1M115 27h1M116 27h1M127 27h1M130 27h1M131 27h1M132 27h1M133 27h1M136 27h1M147 27h1M151 27h1M1 28h1M5 28h1M9 28h1M12 28h1M15 28h1M16 28h1M18 28h1M28 28h1M32 28h1M35 28h1M37 28h1M47 28h1M49 28h1M51 28h1M52 28h1M53 28h1M58 28h1M62 28h1M63 28h1M70 28h1M71 28h1M72 28h1M79 28h1M82 28h1M84 28h1M89 28h1M92 28h1M101 28h1M107 28h1M111 28h1M115 28h1M116 28h1M117 28h1M125 28h1M127 28h1M129 28h1M132 28h1M133 28h1M137 28h1M138 28h1M146 28h1M147 28h1M158 28h1M1 29h1M4 29h1M6 29h1M18 29h1M26 29h1M29 29h1M33 29h1M39 29h1M44 29h1M47 29h1M49 29h1M57 29h1M59 29h1M65 29h1M66 29h1M67 29h1M70 29h1M71 29h1M77 29h1M80 29h1M86 29h1M92 29h1M95 29h1M103 29h1M105 29h1M108 29h1M114 29h1M115 29h1M117 29h1M119 29h1M121 29h1M122 29h1M125 29h1M131 29h1M133 29h1M139 29h1M141 29h1M150 29h1M152 29h1M154 29h1M156 29h1M8 30h1M11 30h1M12 30h1M20 30h1M28 30h1M32 30h1M33 30h1M38 30h1M41 30h1M43 30h1M47 30h1M48 30h1M53 30h1M65 30h1M66 30h1M79 30h1M87 30h1M91 30h1M97 30h1M100 30h1M102 30h1M104 30h1M106 30h1M110 30h1M111 30h1M114 30h1M119 30h1M123 30h1M126 30h1M128 30h1M134 30h1M142 30h1M144 30h1M156 30h1M157 30h1M158 30h1M1 31h1M2 31h1M15 31h1M16 31h1M24 31h1M28 31h1M41 31h1M42 31h1M45 31h1M48 31h1M53 31h1M54 31h1M55 31h1M60 31h1M61 31h1M65 31h1M76 31h1M79 31h1M80 31h1M81 31h1M87 31h1M92 31h1M96 31h1M97 31h1M98 31h1M99 31h1M104 31h1M111 31h1M112 31h1M115 31h1M117 31h1M127 31h1M130 31h1M133 31h1M135 31h1M140 31h1M141 31h1M142 31h1M148 31h1M156 31h1M157 31h1M0 32h1M5 32h1M10 32h1M19 32h1M23 32h1M26 32h1M27 32h1M32 32h1M44 32h1M46 32h1M47 32h1M50 32h1M62 32h1M64 32h1M66 32h1M70 32h1M71 32h1M72 32h1M73 32h1M86 32h1M87 32h1M88 32h1M90 32h1M93 32h1M94 32h1M103 32h1M111 32h1M115 32h1M119 32h1M125 32h1M127 32h1M133 32h1M135 32h1M145 32h1M151 32h1M155 32h1M156 32h1M159 32h1M0 33h1M2 33h1M13 33h1M28 33h1M36 33h1M38 33h1M39 33h1M62 33h1M67 33h1M92 33h1M95 33h1M100 33h1M101 33h1M102 33h1M104 33h1M105 33h1M108 33h1M111 33h1M125 33h1M129 33h1M139 33h1M140 33h1M142 33h1M149 33h1M154 33h1M5 34h1M8 34h1M11 34h1M12 34h1M15 34h1M19 34h1M20 34h1M22 34h1M26 34h1M32 34h1M39 34h1M46 34h1M47 34h1M49 34h1M63 34h1M69 34h1M73 34h1M75 34h1M79 34h1M83 34h1M84 34h1M89 34h1M96 34h1M98 34h1M102 34h1M104 34h1M111 34h1M113 34h1M114 34h1M126 34h1M130 34h1M132 34h1M133 34h1M138 34h1M140 34h1M143 34h1M145 34h1M148 34h1M153 34h1M3 35h1M4 35h1M5 35h1M15 35h1M22 35h1M24 35h1M34 35h1M41 35h1M42 35h1M43 35h1M44 35h1M48 35h1M50 35h1M51 35h1M56 35h1M60 35h1M61 35h1M71 35h1M73 35h1M74 35h1M75 35h1M82 35h1M92 35h1M94 35h1M95 35h1M96 35h1M97 35h1M105 35h1M106 35h1M107 35h1M114 35h1M117 35h1M119 35h1M121 35h1M126 35h1M132 35h1M135 35h1M138 35h1M143 35h1M144 35h1M145 35h1M148 35h1M154 35h1M157 35h1M158 35h1M159 35h1M6 36h1M11 36h1M13 36h1M15 36h1M16 36h1M20 36h1M22 36h1M24 36h1M32 36h1M36 36h1M38 36h1M41 36h1M42 36h1M44 36h1M47 36h1M48 36h1M53 36h1M54 36h1M68 36h1M71 36h1M73 36h1M75 36h1M76 36h1M80 36h1M85 36h1M87 36h1M88 36h1M89 36h1M98 36h1M99 36h1M105 36h1M109 36h1M117 36h1M131 36h1M132 36h1M134 36h1M155 36h1M159 36h1M4 37h1M28 37h1M39 37h1M43 37h1M46 37h1M47 37h1M53 37h1M59 37h1M60 37h1M65 37h1M76 37h1M81 37h1M95 37h1M102 37h1M105 37h1M113 37h1M118 37h1M120 37h1M122 37h1M125 37h1M128 37h1M134 37h1M140 37h1M142 37h1M143 37h1M145 37h1M149 37h1M155 37h1M5 38h1M13 38h1M19 38h1M21 38h1M33 38h1M48 38h1M49 38h1M56 38h1M57 38h1M66 38h1M69 38h1M72 38h1M73 38h1M76 38h1M77 38h1M78 38h1M81 38h1M85 38h1M86 38h1M88 38h1M89 38h1M98 38h1M99 38h1M119 38h1M125 38h1M132 38h1M133 38h1M146 38h1M149 38h1M152 38h1M158 38h1M159 38h1M6 39h1M15 39h1M16 39h1M29 39h1M31 39h1M32 39h1M40 39h1M42 39h1M45 39h1M47 39h1M56 39h1M58 39h1M60 39h1M62 39h1M63 39h1M66 39h1M70 39h1M72 39h1M74 39h1M75 39h1M78 39h1M79 39h1M84 39h1M89 39h1M94 39h1M100 39h1M102 39h1M108 39h1M113 39h1M115 39h1M127 39h1M129 39h1M136 39h1M141 39h1M142 39h1M145 39h1M9 40h1M19 40h1M31 40h1M40 40h1M42 40h1M48 40h1M50 40h1M52 40h1M54 40h1M55 40h1M57 40h1M63 40h1M69 40h1M73 40h1M80 40h1M81 40h1M83 40h1M89 40h1M94 40h1M95 40h1M103 40h1M105 40h1M108 40h1M109 40h1M113 40h1M114 40h1M115 40h1M118 40h1M128 40h1M139 40h1M143 40h1M144 40h1M150 40h1M158 40h1M3 41h1M8 41h1M13 41h1M17 41h1M18 41h1M24 41h1M28 41h1M29 41h1M33 41h1M36 41h1M49 41h1M54 41h1M55 41h1M62 41h1M64 41h1M65 41h1M70 41h1M75 41h1M82 41h1M84 41h1M95 41h1M97 41h1M100 41h1M111 41h1M115 41h1M121 41h1M127 41h1M129 41h1M130 41h1M133 41h1M134 41h1M139 41h1M145 41h1M153 41h1M158 41h1M7 42h1M9 42h1M11 42h1M14 42h1M15 42h1M34 42h1M46 42h1M47 42h1M57 42h1M58 42h1M59 42h1M68 42h1M86 42h1M90 42h1M98 42h1M100 42h1M108 42h1M109 42h1M112 42h1M114 42h1M118 42h1M119 42h1M121 42h1M124 42h1M127 42h1M129 42h1M133 42h1M134 42h1M136 42h1M137 42h1M144 42h1M145 42h1M153 42h1M155 42h1M157 42h1M0 43h1M2 43h1M6 43h1M7 43h1M8 43h1M10 43h1M13 43h1M18 43h1M22 43h1M27 43h1M29 43h1M30 43h1M31 43h1M36 43h1M37 43h1M41 43h1M45 43h1M52 43h1M53 43h1M54 43h1M58 43h1M59 43h1M62 43h1M63 43h1M70 43h1M79 43h1M82 43h1M93 43h1M94 43h1M95 43h1M101 43h1M109 43h1M110 43h1M120 43h1M126 43h1M132 43h1M135 43h1M136 43h1M137 43h1M140 43h1M152 43h1M153 43h1M155 43h1M156 43h1M159 43h1M1 44h1M4 44h1M11 44h1M14 44h1M23 44h1M25 44h1M35 44h1M42 44h1M48 44h1M53 44h1M55 44h1M57 44h1M67 44h1M70 44h1M73 44h1M86 44h1M87 44h1M104 44h1M110 44h1M124 44h1M125 44h1M128 44h1M135 44h1M143 44h1M145 44h1M151 44h1M157 44h1M4 45h1M5 45h1M6 45h1M8 45h1M14 45h1M19 45h1M27 45h1M29 45h1M45 45h1M47 45h1M49 45h1M53 45h1M56 45h1M64 45h1M66 45h1M67 45h1M68 45h1M73 45h1M81 45h1M82 45h1M85 45h1M90 45h1M95 45h1M97 45h1M99 45h1M101 45h1M104 45h1M108 45h1M110 45h1M114 45h1M117 45h1M124 45h1M128 45h1M129 45h1M130 45h1M132 45h1M146 45h1M0 46h1M9 46h1M12 46h1M13 46h1M19 46h1M38 46h1M41 46h1M42 46h1M44 46h1M47 46h1M50 46h1M53 46h1M60 46h1M63 46h1M65 46h1M76 46h1M82 46h1M85 46h1M97 46h1M98 46h1M99 46h1M100 46h1M107 46h1M111 46h1M129 46h1M132 46h1M133 46h1M134 46h1M136 46h1M137 46h1M141 46h1M144 46h1M145 46h1M152 46h1M157 46h1M4 47h1M7 47h1M17 47h1M24 47h1M25 47h1M28 47h1M29 47h1M35 47h1M37 47h1M38 47h1M42 47h1M43 47h1M46 47h1M48 47h1M51 47h1M54 47h1M57 47h1M58 47h1M59 47h1M60 47h1M67 47h1M71 47h1M78 47h1M84 47h1M85 47h1M88 47h1M91 47h1M95 47h1M109 47h1M110 47h1M122 47h1M130 47h1M135 47h1M147 47h1M155 47h1M0 48h1M1 48h1M7 48h1M9 48h1M13 48h1M21 48h1M22 48h1M30 48h1M33 48h1M35 48h1M39 48h1M42 48h1M43 48h1M44 48h1M48 48h1M55 48h1M58 48h1M69 48h1M72 48h1M87 48h1M91 48h1M94 48h1M100 48h1M105 48h1M108 48h1M113 48h1M114 48h1M126 48h1M129 48h1M130 48h1M137 48h1M138 48h1M139 48h1M145 48h1M150 48h1M158 48h1M4 49h1M5 49h1M6 49h1M9 49h1M11 49h1M14 49h1M24 49h1M29 49h1M31 49h1M32 49h1M45 49h1M48 49h1M51 49h1M52 49h1M54 49h1M65 49h1M67 49h1M93 49h1M94 49h1M95 49h1M98 49h1M99 49h1M104 49h1M110 49h1M118 49h1M122 49h1M123 49h1M132 49h1M135 49h1M146 49h1M147 49h1M148 49h1M152 49h1M157 49h1M32 50h1M33 50h1M39 50h1M49 50h1M54 50h1M70 50h1M87 50h1M88 50h1M89 50h1M98 50h1M102 50h1M104 50h1M109 50h1M113 50h1M115 50h1M116 50h1M119 50h1M149 50h1M157 50h1M0 51h1M2 51h1M5 51h1M7 51h1M11 51h1M12 51h1M13 51h1M20 51h1M21 51h1M32 51h1M35 51h1M40 51h1M42 51h1M69 51h1M71 51h1M73 51h1M81 51h1M82 51h1M85 51h1M88 51h1M90 51h1M114 51h1M115 51h1M117 51h1M129 51h1M135 51h1M139 51h1M141 51h1M145 51h1M149 51h1M152 51h1M157 51h1M158 51h1M5 52h1M6 52h1M15 52h1M17 52h1M18 52h1M19 52h1M37 52h1M40 52h1M44 52h1M45 52h1M50 52h1M60 52h1M61 52h1M63 52h1M66 52h1M69 52h1M72 52h1M79 52h1M86 52h1M100 52h1M101 52h1M107 52h1M115 52h1M123 52h1M126 52h1M128 52h1M141 52h1M143 52h1M150 52h1M3 53h1M7 53h1M14 53h1M16 53h1M26 53h1M30 53h1M33 53h1M34 53h1M35 53h1M38 53h1M52 53h1M55 53h1M60 53h1M69 53h1M72 53h1M73 53h1M78 53h1M81 53h1M84 53h1M90 53h1M93 53h1M95 53h1M96 53h1M99 53h1M101 53h1M102 53h1M104 53h1M106 53h1M107 53h1M117 53h1M133 53h1M135 53h1M137 53h1M138 53h1M141 53h1M142 53h1M145 53h1M150 53h1M151 53h1M3 54h1M6 54h1M7 54h1M12 54h1M23 54h1M24 54h1M40 54h1M49 54h1M50 54h1M51 54h1M53 54h1M55 54h1M56 54h1M57 54h1M59 54h1M60 54h1M64 54h1M65 54h1M67 54h1M85 54h1M93 54h1M94 54h1M99 54h1M100 54h1M101 54h1M102 54h1M106 54h1M112 54h1M115 54h1M120 54h1M121 54h1M127 54h1M129 54h1M139 54h1M141 54h1M142 54h1M145 54h1M146 54h1M151 54h1M152 54h1M154 54h1M159 54h1M13 55h1M16 55h1M21 55h1M24 55h1M25 55h1M27 55h1M34 55h1M51 55h1M61 55h1M65 55h1M66 55h1M74 55h1M76 55h1M79 55h1M81 55h1M83 55h1M85 55h1M90 55h1M94 55h1M102 55h1M103 55h1M105 55h1M106 55h1M110 55h1M127 55h1M132 55h1M135 55h1M144 55h1M145 55h1M146 55h1M149 55h1M152 55h1M157 55h1M7 56h1M9 56h1M14 56h1M18 56h1M27 56h1M37 56h1M41 56h1M48 56h1M52 56h1M58 56h1M63 56h1M72 56h1M73 56h1M79 56h1M81 56h1M85 56h1M89 56h1M93 56h1M95 56h1M99 56h1M102 56h1M110 56h1M114 56h1M116 56h1M120 56h1M123 56h1M126 56h1M128 56h1M135 56h1M150 56h1M153 56h1M156 56h1M0 57h1M7 57h1M11 57h1M12 57h1M13 57h1M19 57h1M23 57h1M24 57h1M32 57h1M38 57h1M42 57h1M72 57h1M75 57h1M78 57h1M79 57h1M84 57h1M93 57h1M100 57h1M103 57h1M104 57h1M106 57h1M107 57h1M109 57h1M116 57h1M117 57h1M126 57h1M128 57h1M133 57h1M134 57h1M138 57h1M149 57h1M151 57h1M157 57h1M158 57h1M159 57h1M5 58h1M8 58h1M13 58h1M17 58h1M19 58h1M20 58h1M24 58h1M30 58h1M42 58h1M52 58h1M56 58h1M67 58h1M70 58h1M86 58h1M110 58h1M120 58h1M126 58h1M131 58h1M136 58h1M139 58h1M142 58h1M145 58h1M0 59h1M1 59h1M4 59h1M6 59h1M14 59h1M17 59h1M22 59h1M30 59h1M34 59h1M36 59h1M37 59h1M45 59h1M65 59h1M66 59h1M77 59h1M79 59h1M82 59h1M86 59h1M93 59h1M99 59h1M100 59h1M105 59h1M107 59h1M110 59h1M112 59h1M114 59h1M125 59h1M127 59h1M134 59h1M139 59h1M140 59h1M141 59h1M153 59h1M154 59h1M155 59h1M156 59h1M1 60h1M2 60h1M3 60h1M4 60h1M17 60h1M18 60h1M23 60h1M27 60h1M29 60h1M36 60h1M41 60h1M45 60h1M47 60h1M54 60h1M55 60h1M57 60h1M61 60h1M65 60h1M82 60h1M87 60h1M88 60h1M89 60h1M91 60h1M93 60h1M98 60h1M99 60h1M101 60h1M104 60h1M109 60h1M111 60h1M124 60h1M132 60h1M138 60h1M140 60h1M145 60h1M150 60h1M152 60h1M157 60h1M158 60h1M0 61h1M2 61h1M7 61h1M8 61h1M16 61h1M24 61h1M25 61h1M31 61h1M34 61h1M37 61h1M49 61h1M51 61h1M52 61h1M58 61h1M60 61h1M62 61h1M63 61h1M66 61h1M73 61h1M75 61h1M77 61h1M78 61h1M79 61h1M80 61h1M89 61h1M92 61h1M95 61h1M101 61h1M102 61h1M103 61h1M111 61h1M114 61h1M120 61h1M124 61h1M129 61h1M130 61h1M140 61h1M145 61h1M3 62h1M12 62h1M13 62h1M25 62h1M29 62h1M36 62h1M37 62h1M39 62h1M40 62h1M45 62h1M46 62h1M61 62h1M65 62h1M77 62h1M78 62h1M83 62h1M89 62h1M90 62h1M91 62h1M103 62h1M105 62h1M119 62h1M124 62h1M129 62h1M133 62h1M136 62h1M138 62h1M145 62h1M151 62h1M2 63h1M7 63h1M9 63h1M15 63h1M18 63h1M26 63h1M31 63h1M34 63h1M36 63h1M42 63h1M45 63h1M48 63h1M51 63h1M59 63h1M61 63h1M64 63h1M68 63h1M77 63h1M78 63h1M89 63h1M92 63h1M93 63h1M94 63h1M96 63h1M104 63h1M107 63h1M119 63h1M120 63h1M127 63h1M138 63h1M141 63h1M144 63h1M155 63h1M158 63h1M2 64h1M5 64h1M8 64h1M12 64h1M19 64h1M22 64h1M24 64h1M28 64h1M31 64h1M35 64h1M36 64h1M43 64h1M46 64h1M50 64h1M57 64h1M58 64h1M62 64h1M64 64h1M66 64h1M68 64h1M77 64h1M78 64h1M81 64h1M84 64h1M86 64h1M101 64h1M104 64h1M105 64h1M111 64h1M118 64h1M134 64h1M141 64h1M142 64h1M0 65h1M2 65h1M9 65h1M16 65h1M18 65h1M20 65h1M25 65h1M26 65h1M27 65h1M31 65h1M38 65h1M41 65h1M45 65h1M47 65h1M54 65h1M56 65h1M60 65h1M61 65h1M72 65h1M81 65h1M87 65h1M89 65h1M90 65h1M99 65h1M102 65h1M104 65h1M106 65h1M107 65h1M128 65h1M130 65h1M133 65h1M137 65h1M140 65h1M145 65h1M151 65h1M153 65h1M0 66h1M1 66h1M2 66h1M3 66h1M4 66h1M6 66h1M8 66h1M11 66h1M15 66h1M16 66h1M18 66h1M23 66h1M32 66h1M41 66h1M42 66h1M43 66h1M45 66h1M46 66h1M47 66h1M48 66h1M50 66h1M58 66h1M59 66h1M60 66h1M63 66h1M73 66h1M75 66h1M81 66h1M83 66h1M84 66h1M85 66h1M88 66h1M91 66h1M96 66h1M97 66h1M103 66h1M105 66h1M112 66h1M113 66h1M114 66h1M117 66h1M119 66h1M120 66h1M133 66h1M134 66h1M137 66h1M138 66h1M141 66h1M153 66h1M154 66h1M155 66h1M1 67h1M4 67h1M7 67h1M15 67h1M16 67h1M17 67h1M18 67h1M20 67h1M25 67h1M31 67h1M32 67h1M42 67h1M43 67h1M55 67h1M56 67h1M64 67h1M79 67h1M80 67h1M90 67h1M92 67h1M111 67h1M113 67h1M129 67h1M132 67h1M133 67h1M141 67h1M148 67h1M150 67h1M153 67h1M3 68h1M4 68h1M7 68h1M12 68h1M18 68h1M25 68h1M39 68h1M40 68h1M44 68h1M45 68h1M50 68h1M53 68h1M59 68h1M61 68h1M68 68h1M86 68h1M95 68h1M103 68h1M109 68h1M114 68h1M126 68h1M131 68h1M141 68h1M146 68h1M148 68h1M151 68h1M155 68h1M159 68h1M2 69h1M10 69h1M12 69h1M21 69h1M28 69h1M38 69h1M39 69h1M43 69h1M48 69h1M49 69h1M50 69h1M53 69h1M54 69h1M57 69h1M69 69h1M72 69h1M75 69h1M76 69h1M77 69h1M79 69h1M83 69h1M93 69h1M96 69h1M97 69h1M102 69h1M103 69h1M112 69h1M134 69h1M143 69h1M144 69h1M155 69h1M3 70h1M4 70h1M8 70h1M10 70h1M11 70h1M13 70h1M14 70h1M15 70h1M21 70h1M22 70h1M24 70h1M26 70h1M28 70h1M36 70h1M45 70h1M47 70h1M55 70h1M63 70h1M65 70h1M69 70h1M74 70h1M77 70h1M79 70h1M93 70h1M97 70h1M100 70h1M101 70h1M107 70h1M110 70h1M115 70h1M117 70h1M118 70h1M125 70h1M131 70h1M132 70h1M134 70h1M140 70h1M143 70h1M146 70h1M147 70h1M148 70h1M150 70h1M155 70h1M6 71h1M9 71h1M12 71h1M17 71h1M22 71h1M23 71h1M27 71h1M34 71h1M35 71h1M40 71h1M54 71h1M56 71h1M60 71h1M63 71h1M64 71h1M71 71h1M76 71h1M78 71h1M79 71h1M80 71h1M85 71h1M86 71h1M90 71h1M95 71h1M101 71h1M111 71h1M112 71h1M113 71h1M115 71h1M116 71h1M121 71h1M125 71h1M126 71h1M143 71h1M147 71h1M158 71h1M1 72h1M5 72h1M13 72h1M14 72h1M19 72h1M21 72h1M23 72h1M24 72h1M28 72h1M29 72h1M33 72h1M44 72h1M45 72h1M51 72h1M59 72h1M60 72h1M65 72h1M66 72h1M68 72h1M71 72h1M77 72h1M78 72h1M80 72h1M86 72h1M94 72h1M95 72h1M97 72h1M99 72h1M101 72h1M103 72h1M106 72h1M111 72h1M112 72h1M118 72h1M122 72h1M134 72h1M137 72h1M138 72h1M140 72h1M155 72h1M8 73h1M10 73h1M15 73h1M21 73h1M25 73h1M27 73h1M28 73h1M36 73h1M54 73h1M56 73h1M58 73h1M59 73h1M60 73h1M69 73h1M73 73h1M74 73h1M75 73h1M79 73h1M81 73h1M84 73h1M86 73h1M93 73h1M94 73h1M100 73h1M101 73h1M102 73h1M108 73h1M109 73h1M110 73h1M121 73h1M124 73h1M128 73h1M134 73h1M142 73h1M143 73h1M146 73h1M2 74h1M7 74h1M12 74h1M17 74h1M21 74h1M22 74h1M29 74h1M32 74h1M42 74h1M48 74h1M49 74h1M55 74h1M69 74h1M81 74h1M82 74h1M89 74h1M93 74h1M97 74h1M113 74h1M115 74h1M120 74h1M126 74h1M137 74h1M149 74h1M150 74h1M153 74h1M154 74h1M8 75h1M12 75h1M15 75h1M19 75h1M23 75h1M26 75h1M27 75h1M29 75h1M33 75h1M35 75h1M36 75h1M37 75h1M39 75h1M43 75h1M48 75h1M49 75h1M54 75h1M56 75h1M60 75h1M66 75h1M87 75h1M89 75h1M95 75h1M98 75h1M99 75h1M101 75h1M103 75h1M116 75h1M121 75h1M127 75h1M137 75h1M138 75h1M140 75h1M146 75h1M153 75h1M157 75h1M0 76h1M9 76h1M11 76h1M14 76h1M17 76h1M23 76h1M25 76h1M30 76h1M34 76h1M37 76h1M44 76h1M45 76h1M48 76h1M54 76h1M62 76h1M64 76h1M67 76h1M70 76h1M74 76h1M76 76h1M80 76h1M87 76h1M94 76h1M104 76h1M109 76h1M111 76h1M116 76h1M118 76h1M120 76h1M122 76h1M130 76h1M142 76h1M152 76h1M157 76h1M5 77h1M8 77h1M10 77h1M11 77h1M12 77h1M14 77h1M19 77h1M22 77h1M23 77h1M30 77h1M34 77h1M44 77h1M49 77h1M50 77h1M52 77h1M54 77h1M56 77h1M58 77h1M60 77h1M65 77h1M66 77h1M73 77h1M74 77h1M75 77h1M82 77h1M86 77h1M88 77h1M91 77h1M98 77h1M102 77h1M104 77h1M106 77h1M109 77h1M111 77h1M118 77h1M123 77h1M125 77h1M132 77h1M139 77h1M141 77h1M142 77h1M144 77h1M151 77h1M4 78h1M17 78h1M29 78h1M34 78h1M38 78h1M41 78h1M42 78h1M51 78h1M62 78h1M64 78h1M66 78h1M67 78h1M69 78h1M71 78h1M73 78h1M77 78h1M85 78h1M86 78h1M91 78h1M103 78h1M105 78h1M111 78h1M121 78h1M124 78h1M125 78h1M129 78h1M133 78h1M137 78h1M138 78h1M140 78h1M148 78h1M158 78h1M19 79h1M22 79h1M36 79h1M41 79h1M46 79h1M48 79h1M64 79h1M70 79h1M71 79h1M74 79h1M75 79h1M91 79h1M93 79h1M95 79h1M96 79h1M100 79h1M105 79h1M109 79h1M113 79h1M120 79h1M125 79h1M132 79h1M135 79h1M138 79h1M141 79h1M143 79h1M154 79h1M4 80h1M5 80h1M8 80h1M9 80h1M15 80h1M17 80h1M19 80h1M23 80h1M26 80h1M30 80h1M33 80h1M36 80h1M40 80h1M41 80h1M44 80h1M63 80h1M71 80h1M73 80h1M78 80h1M94 80h1M96 80h1M97 80h1M101 80h1M104 80h1M106 80h1M107 80h1M110 80h1M112 80h1M113 80h1M118 80h1M121 80h1M123 80h1M125 80h1M131 80h1M133 80h1M136 80h1M142 80h1M143 80h1M146 80h1M150 80h1M151 80h1M152 80h1M153 80h1M154 80h1M155 80h1M156 80h1M159 80h1M3 81h1M7 81h1M10 81h1M14 81h1M16 81h1M18 81h1M19 81h1M46 81h1M48 81h1M49 81h1M52 81h1M53 81h1M54 81h1M60 81h1M63 81h1M64 81h1M77 81h1M84 81h1M86 81h1M95 81h1M98 81h1M102 81h1M106 81h1M111 81h1M117 81h1M118 81h1M119 81h1M122 81h1M127 81h1M128 81h1M129 81h1M145 81h1M156 81h1M159 81h1M1 82h1M6 82h1M7 82h1M15 82h1M16 82h1M17 82h1M21 82h1M23 82h1M25 82h1M26 82h1M37 82h1M39 82h1M49 82h1M52 82h1M55 82h1M57 82h1M58 82h1M60 82h1M63 82h1M65 82h1M67 82h1M69 82h1M75 82h1M78 82h1M86 82h1M88 82h1M91 82h1M100 82h1M111 82h1M112 82h1M127 82h1M131 82h1M133 82h1M137 82h1M141 82h1M147 82h1M148 82h1M149 82h1M153 82h1M156 82h1M158 82h1M159 82h1M5 83h1M12 83h1M19 83h1M20 83h1M22 83h1M26 83h1M27 83h1M34 83h1M48 83h1M52 83h1M53 83h1M57 83h1M64 83h1M65 83h1M73 83h1M74 83h1M78 83h1M79 83h1M85 83h1M88 83h1M92 83h1M98 83h1M102 83h1M110 83h1M116 83h1M118 83h1M126 83h1M127 83h1M130 83h1M134 83h1M147 83h1M148 83h1M151 83h1M8 84h1M21 84h1M23 84h1M25 84h1M26 84h1M31 84h1M32 84h1M37 84h1M38 84h1M49 84h1M52 84h1M57 84h1M62 84h1M70 84h1M74 84h1M77 84h1M78 84h1M82 84h1M83 84h1M85 84h1M86 84h1M89 84h1M91 84h1M92 84h1M98 84h1M99 84h1M100 84h1M104 84h1M111 84h1M116 84h1M119 84h1M122 84h1M123 84h1M128 84h1M130 84h1M137 84h1M149 84h1M153 84h1M0 85h1M10 85h1M11 85h1M16 85h1M24 85h1M25 85h1M29 85h1M30 85h1M36 85h1M39 85h1M41 85h1M69 85h1M71 85h1M72 85h1M73 85h1M81 85h1M92 85h1M101 85h1M103 85h1M110 85h1M116 85h1M126 85h1M137 85h1M147 85h1M150 85h1M152 85h1M154 85h1M156 85h1M158 85h1M159 85h1M8 86h1M13 86h1M18 86h1M37 86h1M38 86h1M55 86h1M65 86h1M68 86h1M75 86h1M77 86h1M82 86h1M89 86h1M94 86h1M99 86h1M112 86h1M115 86h1M116 86h1M122 86h1M129 86h1M132 86h1M133 86h1M134 86h1M142 86h1M150 86h1M153 86h1M0 87h1M12 87h1M14 87h1M18 87h1M19 87h1M25 87h1M57 87h1M59 87h1M60 87h1M72 87h1M77 87h1M79 87h1M80 87h1M91 87h1M94 87h1M101 87h1M116 87h1M119 87h1M142 87h1M153 87h1M6 88h1M7 88h1M8 88h1M9 88h1M20 88h1M23 88h1M26 88h1M33 88h1M34 88h1M42 88h1M45 88h1M48 88h1M49 88h1M59 88h1M61 88h1M62 88h1M66 88h1M73 88h1M78 88h1M79 88h1M87 88h1M89 88h1M91 88h1M92 88h1M96 88h1M101 88h1M109 88h1M112 88h1M113 88h1M116 88h1M118 88h1M124 88h1M128 88h1M130 88h1M136 88h1M137 88h1M138 88h1M151 88h1M152 88h1M158 88h1M159 88h1M4 89h1M5 89h1M7 89h1M8 89h1M9 89h1M10 89h1M13 89h1M14 89h1M15 89h1M16 89h1M21 89h1M22 89h1M23 89h1M26 89h1M27 89h1M30 89h1M37 89h1M39 89h1M40 89h1M42 89h1M46 89h1M49 89h1M52 89h1M61 89h1M66 89h1M67 89h1M84 89h1M88 89h1M97 89h1M99 89h1M101 89h1M102 89h1M103 89h1M106 89h1M112 89h1M114 89h1M127 89h1M136 89h1M137 89h1M138 89h1M141 89h1M142 89h1M150 89h1M152 89h1M0 90h1M1 90h1M2 90h1M3 90h1M5 90h1M14 90h1M15 90h1M24 90h1M29 90h1M31 90h1M37 90h1M39 90h1M42 90h1M48 90h1M49 90h1M53 90h1M56 90h1M61 90h1M62 90h1M70 90h1M73 90h1M78 90h1M81 90h1M82 90h1M83 90h1M94 90h1M97 90h1M98 90h1M99 90h1M102 90h1M114 90h1M120 90h1M124 90h1M133 90h1M140 90h1M142 90h1M144 90h1M154 90h1M155 90h1M6 91h1M12 91h1M13 91h1M14 91h1M17 91h1M23 91h1M24 91h1M27 91h1M28 91h1M36 91h1M41 91h1M42 91h1M43 91h1M56 91h1M66 91h1M71 91h1M72 91h1M80 91h1M87 91h1M96 91h1M109 91h1M113 91h1M118 91h1M125 91h1M133 91h1M153 91h1M157 91h1M159 91h1M0 92h1M2 92h1M4 92h1M8 92h1M11 92h1M15 92h1M16 92h1M27 92h1M28 92h1M30 92h1M31 92h1M44 92h1M45 92h1M46 92h1M47 92h1M48 92h1M54 92h1M59 92h1M63 92h1M71 92h1M72 92h1M73 92h1M74 92h1M76 92h1M83 92h1M88 92h1M93 92h1M96 92h1M101 92h1M102 92h1M105 92h1M107 92h1M108 92h1M122 92h1M124 92h1M128 92h1M132 92h1M133 92h1M138 92h1M146 92h1M152 92h1M153 92h1M156 92h1M4 93h1M6 93h1M12 93h1M16 93h1M18 93h1M22 93h1M30 93h1M32 93h1M35 93h1M39 93h1M43 93h1M46 93h1M50 93h1M51 93h1M55 93h1M58 93h1M67 93h1M68 93h1M70 93h1M79 93h1M87 93h1M88 93h1M93 93h1M96 93h1M101 93h1M102 93h1M107 93h1M111 93h1M112 93h1M114 93h1M115 93h1M118 93h1M123 93h1M129 93h1M132 93h1M143 93h1M150 93h1M151 93h1M152 93h1M2 94h1M3 94h1M11 94h1M12 94h1M18 94h1M20 94h1M26 94h1M27 94h1M30 94h1M32 94h1M33 94h1M35 94h1M39 94h1M43 94h1M45 94h1M48 94h1M55 94h1M57 94h1M63 94h1M64 94h1M65 94h1M70 94h1M76 94h1M78 94h1M80 94h1M81 94h1M88 94h1M96 94h1M97 94h1M110 94h1M114 94h1M115 94h1M119 94h1M136 94h1M141 94h1M148 94h1M156 94h1M158 94h1M10 95h1M13 95h1M14 95h1M16 95h1M23 95h1M27 95h1M29 95h1M30 95h1M33 95h1M34 95h1M35 95h1M37 95h1M43 95h1M52 95h1M53 95h1M71 95h1M73 95h1M81 95h1M91 95h1M92 95h1M105 95h1M106 95h1M109 95h1M124 95h1M128 95h1M142 95h1M146 95h1M147 95h1M149 95h1M151 95h1M156 95h1M157 95h1M9 96h1M11 96h1M20 96h1M21 96h1M24 96h1M26 96h1M32 96h1M33 96h1M39 96h1M53 96h1M57 96h1M71 96h1M75 96h1M76 96h1M84 96h1M85 96h1M86 96h1M94 96h1M102 96h1M115 96h1M116 96h1M121 96h1M122 96h1M124 96h1M129 96h1M131 96h1M137 96h1M146 96h1M152 96h1M21 97h1M25 97h1M35 97h1M52 97h1M57 97h1M64 97h1M66 97h1M68 97h1M73 97h1M75 97h1M76 97h1M81 97h1M82 97h1M87 97h1M91 97h1M97 97h1M113 97h1M115 97h1M123 97h1M125 97h1M126 97h1M128 97h1M133 97h1M136 97h1M137 97h1M141 97h1M156 97h1M157 97h1M1 98h1M7 98h1M27 98h1M28 98h1M38 98h1M41 98h1M42 98h1M48 98h1M52 98h1M53 98h1M56 98h1M59 98h1M61 98h1M62 98h1M69 98h1M72 98h1M75 98h1M80 98h1M96 98h1M100 98h1M101 98h1M110 98h1M115 98h1M118 98h1M119 98h1M123 98h1M124 98h1M128 98h1M134 98h1M135 98h1M139 98h1M140 98h1M148 98h1M152 98h1M154 98h1M158 98h1M2 99h1M12 99h1M20 99h1M35 99h1M36 99h1M37 99h1M40 99h1M45 99h1M49 99h1M53 99h1M66 99h1M70 99h1M73 99h1M74 99h1M81 99h1M82 99h1M85 99h1M90 99h1M94 99h1M96 99h1M101 99h1M106 99h1M111 99h1M115 99h1M116 99h1M122 99h1M123 99h1M125 99h1M127 99h1M128 99h1M130 99h1M132 99h1M136 99h1M138 99h1M143 99h1M147 99h1M153 99h1M154 99h1M12 100h1M19 100h1M24 100h1M28 100h1M29 100h1M32 100h1M38 100h1M42 100h1M46 100h1M59 100h1M67 100h1M70 100h1M71 100h1M74 100h1M76 100h1M79 100h1M82 100h1M87 100h1M91 100h1M93 100h1M102 100h1M108 100h1M109 100h1M110 100h1M115 100h1M116 100h1M126 100h1M135 100h1M137 100h1M143 100h1M146 100h1M148 100h1M150 100h1M151 100h1M4 101h1M11 101h1M23 101h1M24 101h1M26 101h1M40 101h1M48 101h1M50 101h1M65 101h1M81 101h1M82 101h1M86 101h1M88 101h1M91 101h1M94 101h1M96 101h1M97 101h1M100 101h1M102 101h1M104 101h1M107 101h1M109 101h1M114 101h1M118 101h1M122 101h1M123 101h1M126 101h1M131 101h1M132 101h1M133 101h1M138 101h1M150 101h1M4 102h1M9 102h1M17 102h1M18 102h1M20 102h1M22 102h1M24 102h1M25 102h1M27 102h1M37 102h1M39 102h1M44 102h1M48 102h1M62 102h1M66 102h1M69 102h1M74 102h1M76 102h1M82 102h1M88 102h1M94 102h1M99 102h1M101 102h1M103 102h1M112 102h1M113 102h1M126 102h1M130 102h1M132 102h1M140 102h1M142 102h1M143 102h1M147 102h1M148 102h1M152 102h1M157 102h1M158 102h1M159 102h1M0 103h1M5 103h1M16 103h1M17 103h1M29 103h1M34 103h1M37 103h1M38 103h1M48 103h1M51 103h1M55 103h1M64 103h1M67 103h1M72 103h1M77 103h1M78 103h1M84 103h1M88 103h1M89 103h1M90 103h1M92 103h1M97 103h1M100 103h1M101 103h1M109 103h1M111 103h1M112 103h1M117 103h1M118 103h1M123 103h1M124 103h1M129 103h1M134 103h1M145 103h1M151 103h1M153 103h1M6 104h1M9 104h1M11 104h1M13 104h1M15 104h1M19 104h1M29 104h1M30 104h1M40 104h1M49 104h1M54 104h1M57 104h1M59 104h1M69 104h1M76 104h1M77 104h1M78 104h1M79 104h1M86 104h1M88 104h1M91 104h1M95 104h1M98 104h1M108 104h1M109 104h1M110 104h1M116 104h1M124 104h1M125 104h1M135 104h1M136 104h1M144 104h1M148 104h1M152 104h1M155 104h1M158 104h1M159 104h1M3 105h1M6 105h1M8 105h1M12 105h1M18 105h1M25 105h1M27 105h1M28 105h1M29 105h1M37 105h1M38 105h1M42 105h1M46 105h1M49 105h1M51 105h1M52 105h1M53 105h1M54 105h1M72 105h1M74 105h1M90 105h1M93 105h1M97 105h1M98 105h1M100 105h1M101 105h1M110 105h1M112 105h1M115 105h1M118 105h1M122 105h1M123 105h1M126 105h1M127 105h1M131 105h1M133 105h1M146 105h1M147 105h1M151 105h1M152 105h1M153 105h1M154 105h1M157 105h1M0 106h1M9 106h1M12 106h1M16 106h1M21 106h1M28 106h1M29 106h1M35 106h1M37 106h1M38 106h1M41 106h1M43 106h1M45 106h1M61 106h1M63 106h1M66 106h1M67 106h1M68 106h1M72 106h1M84 106h1M85 106h1M91 106h1M93 106h1M113 106h1M118 106h1M123 106h1M125 106h1M129 106h1M133 106h1M134 106h1M137 106h1M140 106h1M144 106h1M146 106h1M6 107h1M12 107h1M14 107h1M16 107h1M24 107h1M29 107h1M37 107h1M44 107h1M53 107h1M55 107h1M61 107h1M65 107h1M68 107h1M70 107h1M74 107h1M75 107h1M83 107h1M84 107h1M85 107h1M93 107h1M106 107h1M112 107h1M116 107h1M120 107h1M123 107h1M129 107h1M137 107h1M143 107h1M145 107h1M156 107h1M159 107h1M3 108h1M12 108h1M14 108h1M19 108h1M20 108h1M21 108h1M28 108h1M29 108h1M33 108h1M43 108h1M47 108h1M59 108h1M61 108h1M66 108h1M74 108h1M83 108h1M84 108h1M94 108h1M95 108h1M101 108h1M103 108h1M106 108h1M123 108h1M131 108h1M132 108h1M151 108h1M152 108h1M153 108h1M155 108h1M156 108h1M157 108h1M158 108h1M8 109h1M9 109h1M10 109h1M13 109h1M15 109h1M16 109h1M23 109h1M25 109h1M28 109h1M45 109h1M49 109h1M60 109h1M65 109h1M70 109h1M75 109h1M81 109h1M87 109h1M93 109h1M94 109h1M95 109h1M100 109h1M102 109h1M116 109h1M127 109h1M130 109h1M142 109h1M147 109h1M150 109h1M157 109h1M0 110h1M17 110h1M26 110h1M33 110h1M34 110h1M40 110h1M46 110h1M48 110h1M51 110h1M53 110h1M56 110h1M68 110h1M76 110h1M77 110h1M80 110h1M82 110h1M86 110h1M87 110h1M90 110h1M91 110h1M95 110h1M96 110h1M97 110h1M99 110h1M101 110h1M104 110h1M107 110h1M109 110h1M110 110h1M111 110h1M113 110h1M117 110h1M118 110h1M127 110h1M129 110h1M134 110h1M136 110h1M140 110h1M145 110h1M146 110h1M149 110h1M150 110h1M2 111h1M8 111h1M9 111h1M12 111h1M15 111h1M16 111h1M19 111h1M25 111h1M27 111h1M30 111h1M38 111h1M39 111h1M43 111h1M44 111h1M45 111h1M51 111h1M54 111h1M55 111h1M65 111h1M66 111h1M70 111h1M74 111h1M78 111h1M79 111h1M83 111h1M90 111h1M91 111h1M96 111h1M97 111h1M100 111h1M101 111h1M102 111h1M104 111h1M116 111h1M121 111h1M122 111h1M123 111h1M126 111h1M131 111h1M145 111h1M154 111h1M159 111h1M1 112h1M16 112h1M18 112h1M21 112h1M22 112h1M24 112h1M29 112h1M32 112h1M35 112h1M37 112h1M38 112h1M45 112h1M56 112h1M59 112h1M62 112h1M63 112h1M66 112h1M72 112h1M77 112h1M85 112h1M89 112h1M94 112h1M99 112h1M102 112h1M108 112h1M109 112h1M112 112h1M137 112h1M146 112h1M148 112h1M150 112h1M156 112h1M1 113h1M3 113h1M8 113h1M16 113h1M21 113h1M40 113h1M41 113h1M42 113h1M43 113h1M44 113h1M45 113h1M47 113h1M50 113h1M53 113h1M56 113h1M68 113h1M69 113h1M70 113h1M72 113h1M93 113h1M109 113h1M118 113h1M120 113h1M123 113h1M129 113h1M131 113h1M133 113h1M135 113h1M140 113h1M142 113h1M156 113h1M159 113h1M1 114h1M2 114h1M4 114h1M8 114h1M12 114h1M18 114h1M24 114h1M34 114h1M39 114h1M41 114h1M50 114h1M52 114h1M72 114h1M75 114h1M77 114h1M83 114h1M86 114h1M87 114h1M88 114h1M89 114h1M92 114h1M97 114h1M98 114h1M108 114h1M110 114h1M115 114h1M117 114h1M121 114h1M125 114h1M126 114h1M128 114h1M130 114h1M137 114h1M138 114h1M139 114h1M141 114h1M145 114h1M146 114h1M152 114h1M153 114h1M155 114h1M156 114h1M2 115h1M13 115h1M20 115h1M23 115h1M25 115h1M27 115h1M34 115h1M47 115h1M51 115h1M52 115h1M62 115h1M68 115h1M71 115h1M72 115h1M82 115h1M85 115h1M91 115h1M93 115h1M95 115h1M102 115h1M103 115h1M108 115h1M112 115h1M115 115h1M119 115h1M120 115h1M122 115h1M123 115h1M128 115h1M136 115h1M140 115h1M141 115h1M145 115h1M151 115h1M153 115h1M157 115h1M159 115h1M7 116h1M13 116h1M14 116h1M24 116h1M26 116h1M37 116h1M40 116h1M41 116h1M42 116h1M43 116h1M44 116h1M52 116h1M53 116h1M62 116h1M70 116h1M74 116h1M76 116h1M77 116h1M85 116h1M89 116h1M93 116h1M95 116h1M97 116h1M100 116h1M103 116h1M108 116h1M110 116h1M111 116h1M119 116h1M124 116h1M125 116h1M127 116h1M129 116h1M154 116h1M158 116h1M2 117h1M7 117h1M12 117h1M15 117h1M17 117h1M21 117h1M27 117h1M29 117h1M32 117h1M40 117h1M43 117h1M44 117h1M47 117h1M52 117h1M53 117h1M61 117h1M65 117h1M70 117h1M71 117h1M75 117h1M76 117h1M80 117h1M82 117h1M87 117h1M100 117h1M102 117h1M103 117h1M113 117h1M118 117h1M121 117h1M131 117h1M132 117h1M142 117h1M144 117h1M146 117h1M152 117h1M3 118h1M9 118h1M24 118h1M26 118h1M27 118h1M29 118h1M40 118h1M42 118h1M45 118h1M48 118h1M54 118h1M57 118h1M62 118h1M64 118h1M65 118h1M68 118h1M74 118h1M77 118h1M86 118h1M87 118h1M90 118h1M98 118h1M102 118h1M105 118h1M107 118h1M108 118h1M114 118h1M128 118h1M131 118h1M132 118h1M134 118h1M136 118h1M146 118h1M148 118h1M150 118h1M151 118h1M156 118h1M159 118h1M5 119h1M6 119h1M10 119h1M15 119h1M16 119h1M27 119h1M28 119h1M32 119h1M39 119h1M43 119h1M45 119h1M51 119h1M59 119h1M60 119h1M64 119h1M66 119h1M68 119h1M71 119h1M95 119h1M105 119h1M106 119h1M111 119h1M138 119h1M140 119h1M143 119h1M145 119h1M151 119h1M154 119h1M156 119h1M7 120h1M10 120h1M12 120h1M24 120h1M27 120h1M33 120h1M36 120h1M37 120h1M41 120h1M43 120h1M44 120h1M45 120h1M48 120h1M50 120h1M54 120h1M58 120h1M61 120h1M63 120h1M78 120h1M84 120h1M85 120h1M89 120h1M96 120h1M97 120h1M111 120h1M112 120h1M114 120h1M117 120h1M120 120h1M125 120h1M127 120h1M128 120h1M143 120h1M146 120h1M147 120h1M148 120h1M151 120h1M158 120h1M159 120h1M13 121h1M14 121h1M26 121h1M34 121h1M39 121h1M41 121h1M45 121h1M47 121h1M51 121h1M63 121h1M64 121h1M66 121h1M71 121h1M82 121h1M84 121h1M88 121h1M92 121h1M103 121h1M112 121h1M120 121h1M126 121h1M129 121h1M130 121h1M137 121h1M140 121h1M152 121h1M155 121h1M156 121h1M2 122h1M3 122h1M7 122h1M10 122h1M13 122h1M28 122h1M32 122h1M35 122h1M43 122h1M49 122h1M52 122h1M59 122h1M62 122h1M72 122h1M76 122h1M81 122h1M85 122h1M86 122h1M88 122h1M89 122h1M93 122h1M98 122h1M99 122h1M112 122h1M113 122h1M115 122h1M116 122h1M118 122h1M129 122h1M130 122h1M131 122h1M132 122h1M136 122h1M156 122h1M157 122h1M0 123h1M10 123h1M19 123h1M21 123h1M32 123h1M37 123h1M41 123h1M43 123h1M45 123h1M47 123h1M51 123h1M57 123h1M60 123h1M71 123h1M79 123h1M80 123h1M86 123h1M90 123h1M93 123h1M94 123h1M103 123h1M113 123h1M116 123h1M126 123h1M127 123h1M129 123h1M134 123h1M139 123h1M140 123h1M149 123h1M154 123h1M155 123h1M156 123h1M3 124h1M9 124h1M12 124h1M39 124h1M51 124h1M56 124h1M57 124h1M58 124h1M62 124h1M64 124h1M66 124h1M72 124h1M76 124h1M77 124h1M81 124h1M91 124h1M97 124h1M102 124h1M111 124h1M114 124h1M115 124h1M127 124h1M128 124h1M133 124h1M135 124h1M137 124h1M151 124h1M156 124h1M159 124h1M0 125h1M2 125h1M7 125h1M8 125h1M15 125h1M17 125h1M21 125h1M29 125h1M32 125h1M39 125h1M46 125h1M51 125h1M61 125h1M62 125h1M63 125h1M64 125h1M71 125h1M76 125h1M78 125h1M79 125h1M87 125h1M89 125h1M96 125h1M104 125h1M105 125h1M110 125h1M125 125h1M127 125h1M139 125h1M142 125h1M143 125h1M6 126h1M9 126h1M12 126h1M23 126h1M25 126h1M28 126h1M34 126h1M35 126h1M40 126h1M41 126h1M44 126h1M48 126h1M51 126h1M61 126h1M64 126h1M67 126h1M69 126h1M75 126h1M77 126h1M81 126h1M85 126h1M96 126h1M107 126h1M108 126h1M109 126h1M113 126h1M117 126h1M118 126h1M121 126h1M123 126h1M125 126h1M142 126h1M156 126h1M159 126h1M12 127h1M15 127h1M29 127h1M34 127h1M40 127h1M42 127h1M44 127h1M48 127h1M51 127h1M52 127h1M58 127h1M59 127h1M60 127h1M64 127h1M67 127h1M68 127h1M70 127h1M72 127h1M78 127h1M82 127h1M83 127h1M91 127h1M92 127h1M98 127h1M101 127h1M102 127h1M104 127h1M110 127h1M114 127h1M115 127h1M117 127h1M121 127h1M129 127h1M130 127h1M134 127h1M136 127h1M138 127h1M142 127h1M146 127h1M157 127h1M4 128h1M7 128h1M16 128h1M24 128h1M28 128h1M35 128h1M36 128h1M50 128h1M60 128h1M62 128h1M64 128h1M65 128h1M74 128h1M76 128h1M77 128h1M85 128h1M89 128h1M95 128h1M99 128h1M106 128h1M112 128h1M114 128h1M128 128h1M130 128h1M134 128h1M136 128h1M144 128h1M149 128h1M153 128h1M157 128h1M158 128h1M0 129h1M9 129h1M13 129h1M16 129h1M18 129h1M24 129h1M25 129h1M28 129h1M35 129h1M36 129h1M41 129h1M50 129h1M51 129h1M59 129h1M66 129h1M68 129h1M74 129h1M76 129h1M79 129h1M80 129h1M85 129h1M87 129h1M90 129h1M92 129h1M93 129h1M95 129h1M110 129h1M112 129h1M122 129h1M128 129h1M136 129h1M137 129h1M141 129h1M143 129h1M146 129h1M154 129h1M156 129h1M157 129h1M158 129h1M159 129h1M0 130h1M2 130h1M4 130h1M13 130h1M21 130h1M26 130h1M30 130h1M33 130h1M34 130h1M37 130h1M46 130h1M58 130h1M59 130h1M60 130h1M66 130h1M72 130h1M74 130h1M76 130h1M79 130h1M83 130h1M84 130h1M90 130h1M92 130h1M102 130h1M110 130h1M125 130h1M132 130h1M135 130h1M138 130h1M147 130h1M148 130h1M158 130h1M159 130h1M4 131h1M9 131h1M18 131h1M25 131h1M28 131h1M29 131h1M32 131h1M39 131h1M42 131h1M54 131h1M59 131h1M62 131h1M63 131h1M70 131h1M71 131h1M78 131h1M82 131h1M90 131h1M91 131h1M92 131h1M96 131h1M98 131h1M105 131h1M107 131h1M109 131h1M118 131h1M119 131h1M120 131h1M126 131h1M127 131h1M129 131h1M131 131h1M135 131h1M138 131h1M148 131h1M151 131h1M153 131h1M14 132h1M40 132h1M56 132h1M57 132h1M58 132h1M59 132h1M64 132h1M70 132h1M72 132h1M79 132h1M83 132h1M84 132h1M87 132h1M88 132h1M90 132h1M91 132h1M92 132h1M95 132h1M103 132h1M105 132h1M107 132h1M109 132h1M111 132h1M118 132h1M122 132h1M139 132h1M142 132h1M144 132h1M151 132h1M154 132h1M159 132h1M1 133h1M5 133h1M16 133h1M18 133h1M21 133h1M24 133h1M37 133h1M57 133h1M70 133h1M71 133h1M73 133h1M74 133h1M77 133h1M81 133h1M83 133h1M84 133h1M87 133h1M95 133h1M96 133h1M102 133h1M115 133h1M116 133h1M124 133h1M128 133h1M131 133h1M138 133h1M148 133h1M154 133h1M159 133h1M1 134h1M13 134h1M14 134h1M17 134h1M25 134h1M27 134h1M31 134h1M32 134h1M43 134h1M45 134h1M46 134h1M51 134h1M54 134h1M56 134h1M60 134h1M66 134h1M72 134h1M74 134h1M76 134h1M87 134h1M88 134h1M89 134h1M104 134h1M106 134h1M108 134h1M111 134h1M121 134h1M128 134h1M129 134h1M134 134h1M135 134h1M136 134h1M147 134h1M152 134h1M154 134h1M1 135h1M8 135h1M11 135h1M14 135h1M22 135h1M26 135h1M29 135h1M44 135h1M52 135h1M56 135h1M58 135h1M63 135h1M64 135h1M73 135h1M81 135h1M83 135h1M87 135h1M89 135h1M90 135h1M106 135h1M108 135h1M109 135h1M110 135h1M112 135h1M116 135h1M117 135h1M133 135h1M134 135h1M136 135h1M146 135h1M151 135h1M6 136h1M9 136h1M18 136h1M23 136h1M29 136h1M33 136h1M34 136h1M39 136h1M46 136h1M50 136h1M55 136h1M67 136h1M70 136h1M73 136h1M81 136h1M86 136h1M89 136h1M100 136h1M108 136h1M109 136h1M113 136h1M117 136h1M119 136h1M123 136h1M128 136h1M130 136h1M141 136h1M145 136h1M149 136h1M159 136h1M6 137h1M8 137h1M9 137h1M10 137h1M11 137h1M15 137h1M20 137h1M22 137h1M23 137h1M25 137h1M27 137h1M31 137h1M37 137h1M39 137h1M41 137h1M42 137h1M51 137h1M53 137h1M56 137h1M80 137h1M85 137h1M87 137h1M89 137h1M95 137h1M102 137h1M105 137h1M109 137h1M110 137h1M113 137h1M115 137h1M119 137h1M124 137h1M126 137h1M127 137h1M133 137h1M141 137h1M142 137h1M150 137h1M151 137h1M154 137h1M155 137h1M1 138h1M5 138h1M8 138h1M11 138h1M14 138h1M17 138h1M22 138h1M23 138h1M30 138h1M36 138h1M39 138h1M42 138h1M46 138h1M56 138h1M58 138h1M60 138h1M61 138h1M69 138h1M70 138h1M74 138h1M79 138h1M80 138h1M85 138h1M93 138h1M101 138h1M120 138h1M121 138h1M133 138h1M141 138h1M143 138h1M146 138h1M148 138h1M150 138h1M153 138h1M154 138h1M0 139h1M3 139h1M5 139h1M7 139h1M10 139h1M15 139h1M16 139h1M18 139h1M20 139h1M23 139h1M26 139h1M29 139h1M32 139h1M46 139h1M52 139h1M54 139h1M58 139h1M60 139h1M61 139h1M66 139h1M67 139h1M74 139h1M76 139h1M77 139h1M82 139h1M85 139h1M88 139h1M93 139h1M100 139h1M106 139h1M108 139h1M111 139h1M114 139h1M122 139h1M123 139h1M126 139h1M130 139h1M138 139h1M142 139h1M143 139h1M146 139h1M159 139h1M0 140h1M2 140h1M7 140h1M10 140h1M12 140h1M18 140h1M22 140h1M24 140h1M27 140h1M28 140h1M34 140h1M35 140h1M36 140h1M50 140h1M55 140h1M58 140h1M63 140h1M64 140h1M66 140h1M67 140h1M69 140h1M71 140h1M73 140h1M78 140h1M82 140h1M83 140h1M86 140h1M93 140h1M94 140h1M101 140h1M107 140h1M109 140h1M116 140h1M121 140h1M125 140h1M127 140h1M131 140h1M132 140h1M136 140h1M137 140h1M139 140h1M141 140h1M142 140h1M145 140h1M148 140h1M150 140h1M157 140h1M6 141h1M12 141h1M15 141h1M16 141h1M23 141h1M25 141h1M30 141h1M33 141h1M34 141h1M37 141h1M38 141h1M43 141h1M45 141h1M53 141h1M58 141h1M80 141h1M82 141h1M83 141h1M92 141h1M100 141h1M105 141h1M111 141h1M112 141h1M115 141h1M116 141h1M119 141h1M120 141h1M122 141h1M125 141h1M126 141h1M127 141h1M128 141h1M129 141h1M130 141h1M139 141h1M141 141h1M151 141h1M152 141h1M154 141h1M159 141h1M2 142h1M5 142h1M6 142h1M12 142h1M21 142h1M23 142h1M38 142h1M43 142h1M44 142h1M45 142h1M46 142h1M49 142h1M51 142h1M54 142h1M55 142h1M62 142h1M63 142h1M66 142h1M67 142h1M68 142h1M69 142h1M76 142h1M77 142h1M79 142h1M94 142h1M108 142h1M118 142h1M119 142h1M129 142h1M132 142h1M138 142h1M140 142h1M141 142h1M142 142h1M145 142h1M151 142h1M155 142h1M156 142h1M2 143h1M9 143h1M14 143h1M16 143h1M21 143h1M31 143h1M34 143h1M35 143h1M53 143h1M54 143h1M56 143h1M59 143h1M60 143h1M66 143h1M74 143h1M82 143h1M89 143h1M90 143h1M96 143h1M103 143h1M113 143h1M115 143h1M118 143h1M123 143h1M136 143h1M137 143h1M140 143h1M154 143h1M5 144h1M15 144h1M16 144h1M17 144h1M18 144h1M27 144h1M30 144h1M35 144h1M40 144h1M62 144h1M63 144h1M67 144h1M68 144h1M71 144h1M79 144h1M82 144h1M83 144h1M85 144h1M86 144h1M90 144h1M92 144h1M94 144h1M95 144h1M98 144h1M100 144h1M101 144h1M103 144h1M104 144h1M107 144h1M110 144h1M112 144h1M117 144h1M118 144h1M120 144h1M121 144h1M128 144h1M132 144h1M134 144h1M135 144h1M138 144h1M140 144h1M143 144h1M144 144h1M146 144h1M151 144h1M154 144h1M155 144h1M156 144h1M1 145h1M23 145h1M28 145h1M30 145h1M37 145h1M50 145h1M55 145h1M58 145h1M62 145h1M64 145h1M66 145h1M68 145h1M69 145h1M70 145h1M71 145h1M72 145h1M73 145h1M76 145h1M84 145h1M90 145h1M92 145h1M95 145h1M103 145h1M105 145h1M116 145h1M117 145h1M118 145h1M119 145h1M124 145h1M132 145h1M133 145h1M140 145h1M149 145h1M154 145h1M0 146h1M2 146h1M6 146h1M13 146h1M14 146h1M22 146h1M26 146h1M29 146h1M31 146h1M36 146h1M44 146h1M45 146h1M55 146h1M56 146h1M66 146h1M72 146h1M74 146h1M80 146h1M83 146h1M86 146h1M88 146h1M91 146h1M92 146h1M97 146h1M102 146h1M106 146h1M107 146h1M111 146h1M112 146h1M117 146h1M120 146h1M121 146h1M126 146h1M127 146h1M139 146h1M140 146h1M148 146h1M149 146h1M152 146h1M154 146h1M157 146h1M158 146h1M5 147h1M8 147h1M13 147h1M16 147h1M22 147h1M26 147h1M27 147h1M28 147h1M41 147h1M49 147h1M51 147h1M55 147h1M56 147h1M59 147h1M63 147h1M64 147h1M77 147h1M79 147h1M83 147h1M84 147h1M88 147h1M94 147h1M96 147h1M102 147h1M108 147h1M109 147h1M121 147h1M125 147h1M126 147h1M147 147h1M154 147h1M155 147h1M156 147h1M158 147h1M2 148h1M8 148h1M11 148h1M13 148h1M14 148h1M18 148h1M25 148h1M31 148h1M32 148h1M47 148h1M49 148h1M58 148h1M62 148h1M65 148h1M79 148h1M89 148h1M96 148h1M100 148h1M101 148h1M110 148h1M123 148h1M133 148h1M137 148h1M140 148h1M145 148h1M149 148h1M150 148h1M156 148h1M159 148h1M0 149h1M2 149h1M4 149h1M12 149h1M16 149h1M17 149h1M20 149h1M23 149h1M24 149h1M28 149h1M38 149h1M39 149h1M49 149h1M50 149h1M51 149h1M56 149h1M59 149h1M67 149h1M72 149h1M74 149h1M75 149h1M76 149h1M77 149h1M78 149h1M80 149h1M81 149h1M84 149h1M87 149h1M91 149h1M92 149h1M93 149h1M94 149h1M96 149h1M99 149h1M107 149h1M115 149h1M116 149h1M117 149h1M121 149h1M122 149h1M126 149h1M131 149h1M139 149h1M145 149h1M149 149h1M150 149h1M151 149h1M156 149h1M158 149h1M159 149h1M0 150h1M3 150h1M6 150h1M8 150h1M12 150h1M14 150h1M16 150h1M30 150h1M35 150h1M37 150h1M38 150h1M45 150h1M49 150h1M50 150h1M53 150h1M54 150h1M55 150h1M60 150h1M62 150h1M67 150h1M71 150h1M72 150h1M74 150h1M84 150h1M90 150h1M91 150h1M93 150h1M94 150h1M96 150h1M100 150h1M105 150h1M111 150h1M112 150h1M120 150h1M128 150h1M130 150h1M136 150h1M138 150h1M139 150h1M141 150h1M145 150h1M146 150h1M155 150h1M157 150h1M3 151h1M24 151h1M38 151h1M39 151h1M43 151h1M45 151h1M49 151h1M50 151h1M67 151h1M72 151h1M81 151h1M83 151h1M88 151h1M92 151h1M104 151h1M110 151h1M112 151h1M116 151h1M117 151h1M118 151h1M124 151h1M130 151h1M137 151h1M138 151h1M142 151h1M158 151h1M159 151h1M4 152h1M5 152h1M7 152h1M20 152h1M21 152h1M25 152h1M27 152h1M44 152h1M46 152h1M48 152h1M53 152h1M64 152h1M65 152h1M70 152h1M73 152h1M74 152h1M78 152h1M79 152h1M80 152h1M83 152h1M87 152h1M88 152h1M104 152h1M107 152h1M108 152h1M113 152h1M117 152h1M123 152h1M124 152h1M128 152h1M134 152h1M146 152h1M152 152h1M154 152h1M2 153h1M3 153h1M11 153h1M13 153h1M14 153h1M15 153h1M16 153h1M19 153h1M21 153h1M32 153h1M36 153h1M46 153h1M50 153h1M51 153h1M57 153h1M65 153h1M66 153h1M67 153h1M69 153h1M70 153h1M81 153h1M84 153h1M90 153h1M91 153h1M94 153h1M95 153h1M99 153h1M114 153h1M117 153h1M118 153h1M120 153h1M123 153h1M125 153h1M129 153h1M135 153h1M137 153h1M146 153h1M147 153h1M155 153h1M1 154h1M9 154h1M15 154h1M22 154h1M23 154h1M26 154h1M33 154h1M35 154h1M43 154h1M46 154h1M50 154h1M56 154h1M61 154h1M66 154h1M70 154h1M71 154h1M77 154h1M84 154h1M86 154h1M102 154h1M103 154h1M104 154h1M105 154h1M106 154h1M107 154h1M109 154h1M112 154h1M114 154h1M119 154h1M121 154h1M123 154h1M134 154h1M137 154h1M138 154h1M142 154h1M143 154h1M152 154h1M154 154h1M4 155h1M8 155h1M9 155h1M16 155h1M21 155h1M22 155h1M24 155h1M31 155h1M44 155h1M48 155h1M50 155h1M54 155h1M55 155h1M56 155h1M58 155h1M62 155h1M74 155h1M77 155h1M82 155h1M99 155h1M101 155h1M102 155h1M105 155h1M108 155h1M114 155h1M117 155h1M118 155h1M119 155h1M127 155h1M132 155h1M142 155h1M150 155h1M157 155h1M2 156h1M11 156h1M18 156h1M23 156h1M28 156h1M32 156h1M37 156h1M38 156h1M39 156h1M57 156h1M58 156h1M60 156h1M61 156h1M65 156h1M75 156h1M81 156h1M82 156h1M83 156h1M88 156h1M91 156h1M102 156h1M103 156h1M104 156h1M107 156h1M110 156h1M111 156h1M116 156h1M118 156h1M119 156h1M124 156h1M129 156h1M131 156h1M132 156h1M142 156h1M145 156h1M148 156h1M150 156h1M153 156h1M154 156h1M156 156h1M6 157h1M12 157h1M20 157h1M23 157h1M24 157h1M25 157h1M37 157h1M41 157h1M45 157h1M51 157h1M53 157h1M61 157h1M63 157h1M64 157h1M78 157h1M83 157h1M85 157h1M93 157h1M101 157h1M102 157h1M109 157h1M113 157h1M126 157h1M128 157h1M131 157h1M132 157h1M140 157h1M146 157h1M149 157h1M152 157h1M156 157h1M157 157h1M158 157h1M2 158h1M7 158h1M14 158h1M15 158h1M17 158h1M19 158h1M20 158h1M22 158h1M23 158h1M27 158h1M31 158h1M37 158h1M38 158h1M40 158h1M41 158h1M42 158h1M43 158h1M49 158h1M50 158h1M58 158h1M61 158h1M65 158h1M67 158h1M68 158h1M72 158h1M77 158h1M80 158h1M82 158h1M85 158h1M92 158h1M95 158h1M103 158h1M112 158h1M118 158h1M119 158h1M126 158h1M129 158h1M136 158h1M141 158h1M148 158h1M151 158h1M156 158h1M5 159h1M18 159h1M23 159h1M24 159h1M33 159h1M34 159h1M35 159h1M40 159h1M44 159h1M48 159h1M50 159h1M55 159h1M56 159h1M57 159h1M65 159h1M69 159h1M81 159h1M90 159h1M92 159h1M102 159h1M110 159h1M111 159h1M112 159h1M114 159h1M118 159h1M119 159h1M131 159h1M134 159h1M145 159h1M150 159h1M157 159h1" stroke="#fff" stroke-width="1" fill="none" transform="translate(0,0.5)" shape-rendering="crispEdges"/>
</pattern>
<pattern id="nz3" width="64" height="64" patternUnits="userSpaceOnUse" patternTransform="translate(11,71)">
<path d="M2 0h1M3 0h1M4 0h1M5 0h1M6 0h1M8 0h1M13 0h1M14 0h1M15 0h1M17 0h1M22 0h1M23 0h1M25 0h1M26 0h1M29 0h1M32 0h1M36 0h1M37 0h1M41 0h1M43 0h1M45 0h1M53 0h1M55 0h1M0 1h1M1 1h1M2 1h1M3 1h1M4 1h1M7 1h1M8 1h1M9 1h1M10 1h1M11 1h1M14 1h1M16 1h1M17 1h1M19 1h1M27 1h1M28 1h1M29 1h1M30 1h1M32 1h1M35 1h1M36 1h1M37 1h1M40 1h1M41 1h1M42 1h1M44 1h1M47 1h1M49 1h1M50 1h1M53 1h1M54 1h1M55 1h1M57 1h1M59 1h1M61 1h1M63 1h1M2 2h1M3 2h1M4 2h1M5 2h1M7 2h1M16 2h1M18 2h1M20 2h1M21 2h1M24 2h1M25 2h1M26 2h1M29 2h1M30 2h1M31 2h1M32 2h1M33 2h1M37 2h1M38 2h1M39 2h1M41 2h1M46 2h1M49 2h1M50 2h1M52 2h1M55 2h1M58 2h1M63 2h1M0 3h1M4 3h1M6 3h1M8 3h1M10 3h1M16 3h1M17 3h1M20 3h1M21 3h1M22 3h1M25 3h1M26 3h1M29 3h1M30 3h1M31 3h1M32 3h1M37 3h1M41 3h1M44 3h1M46 3h1M48 3h1M50 3h1M52 3h1M53 3h1M54 3h1M2 4h1M3 4h1M5 4h1M6 4h1M7 4h1M8 4h1M12 4h1M14 4h1M15 4h1M16 4h1M19 4h1M20 4h1M23 4h1M24 4h1M26 4h1M27 4h1M29 4h1M32 4h1M35 4h1M38 4h1M39 4h1M42 4h1M43 4h1M47 4h1M49 4h1M50 4h1M52 4h1M54 4h1M55 4h1M57 4h1M58 4h1M60 4h1M0 5h1M4 5h1M5 5h1M9 5h1M12 5h1M13 5h1M15 5h1M16 5h1M20 5h1M25 5h1M26 5h1M27 5h1M32 5h1M33 5h1M36 5h1M37 5h1M38 5h1M41 5h1M47 5h1M48 5h1M50 5h1M58 5h1M1 6h1M4 6h1M5 6h1M8 6h1M9 6h1M12 6h1M14 6h1M17 6h1M21 6h1M22 6h1M23 6h1M24 6h1M27 6h1M29 6h1M30 6h1M33 6h1M35 6h1M38 6h1M39 6h1M40 6h1M44 6h1M48 6h1M52 6h1M53 6h1M60 6h1M0 7h1M1 7h1M2 7h1M4 7h1M5 7h1M6 7h1M7 7h1M12 7h1M13 7h1M15 7h1M21 7h1M22 7h1M30 7h1M32 7h1M33 7h1M35 7h1M38 7h1M39 7h1M41 7h1M44 7h1M45 7h1M46 7h1M47 7h1M48 7h1M52 7h1M54 7h1M58 7h1M62 7h1M1 8h1M3 8h1M7 8h1M8 8h1M10 8h1M11 8h1M12 8h1M13 8h1M15 8h1M17 8h1M22 8h1M23 8h1M29 8h1M30 8h1M34 8h1M35 8h1M36 8h1M37 8h1M39 8h1M43 8h1M45 8h1M46 8h1M47 8h1M48 8h1M55 8h1M57 8h1M59 8h1M62 8h1M0 9h1M2 9h1M3 9h1M7 9h1M8 9h1M9 9h1M10 9h1M14 9h1M16 9h1M17 9h1M21 9h1M25 9h1M28 9h1M30 9h1M31 9h1M32 9h1M35 9h1M40 9h1M42 9h1M44 9h1M48 9h1M51 9h1M53 9h1M59 9h1M61 9h1M62 9h1M63 9h1M0 10h1M6 10h1M7 10h1M10 10h1M11 10h1M15 10h1M16 10h1M18 10h1M22 10h1M25 10h1M28 10h1M32 10h1M36 10h1M37 10h1M38 10h1M39 10h1M42 10h1M43 10h1M44 10h1M48 10h1M49 10h1M50 10h1M52 10h1M54 10h1M58 10h1M63 10h1M0 11h1M3 11h1M4 11h1M5 11h1M9 11h1M13 11h1M14 11h1M15 11h1M16 11h1M17 11h1M18 11h1M21 11h1M22 11h1M25 11h1M26 11h1M27 11h1M28 11h1M29 11h1M30 11h1M32 11h1M41 11h1M42 11h1M46 11h1M48 11h1M50 11h1M52 11h1M53 11h1M54 11h1M55 11h1M58 11h1M61 11h1M2 12h1M4 12h1M5 12h1M8 12h1M9 12h1M10 12h1M11 12h1M18 12h1M19 12h1M20 12h1M21 12h1M22 12h1M24 12h1M25 12h1M26 12h1M28 12h1M30 12h1M31 12h1M32 12h1M36 12h1M38 12h1M41 12h1M42 12h1M43 12h1M44 12h1M45 12h1M49 12h1M51 12h1M52 12h1M53 12h1M55 12h1M59 12h1M63 12h1M0 13h1M1 13h1M3 13h1M4 13h1M5 13h1M8 13h1M10 13h1M11 13h1M12 13h1M13 13h1M15 13h1M18 13h1M20 13h1M21 13h1M22 13h1M28 13h1M29 13h1M31 13h1M32 13h1M33 13h1M35 13h1M37 13h1M41 13h1M42 13h1M43 13h1M44 13h1M46 13h1M48 13h1M50 13h1M51 13h1M53 13h1M58 13h1M59 13h1M60 13h1M61 13h1M0 14h1M2 14h1M3 14h1M5 14h1M7 14h1M8 14h1M9 14h1M10 14h1M11 14h1M12 14h1M13 14h1M15 14h1M18 14h1M19 14h1M20 14h1M21 14h1M22 14h1M23 14h1M26 14h1M28 14h1M29 14h1M30 14h1M31 14h1M33 14h1M35 14h1M37 14h1M41 14h1M44 14h1M46 14h1M47 14h1M49 14h1M51 14h1M52 14h1M55 14h1M56 14h1M57 14h1M60 14h1M62 14h1M63 14h1M1 15h1M2 15h1M3 15h1M4 15h1M5 15h1M6 15h1M7 15h1M8 15h1M9 15h1M11 15h1M13 15h1M16 15h1M17 15h1M18 15h1M19 15h1M23 15h1M24 15h1M25 15h1M26 15h1M28 15h1M39 15h1M41 15h1M45 15h1M49 15h1M50 15h1M52 15h1M54 15h1M60 15h1M62 15h1M63 15h1M0 16h1M1 16h1M2 16h1M6 16h1M8 16h1M9 16h1M10 16h1M11 16h1M13 16h1M16 16h1M17 16h1M18 16h1M19 16h1M21 16h1M22 16h1M23 16h1M28 16h1M29 16h1M31 16h1M34 16h1M36 16h1M40 16h1M48 16h1M49 16h1M50 16h1M51 16h1M52 16h1M53 16h1M55 16h1M57 16h1M59 16h1M61 16h1M62 16h1M2 17h1M5 17h1M7 17h1M9 17h1M11 17h1M14 17h1M16 17h1M17 17h1M19 17h1M20 17h1M23 17h1M26 17h1M27 17h1M28 17h1M36 17h1M37 17h1M39 17h1M40 17h1M42 17h1M43 17h1M44 17h1M47 17h1M48 17h1M51 17h1M52 17h1M53 17h1M54 17h1M56 17h1M62 17h1M63 17h1M1 18h1M4 18h1M5 18h1M6 18h1M8 18h1M14 18h1M16 18h1M18 18h1M25 18h1M29 18h1M32 18h1M35 18h1M38 18h1M42 18h1M43 18h1M45 18h1M46 18h1M47 18h1M52 18h1M56 18h1M57 18h1M60 18h1M61 18h1M63 18h1M8 19h1M9 19h1M11 19h1M14 19h1M15 19h1M16 19h1M17 19h1M18 19h1M20 19h1M24 19h1M25 19h1M27 19h1M30 19h1M31 19h1M35 19h1M37 19h1M39 19h1M40 19h1M47 19h1M48 19h1M49 19h1M50 19h1M52 19h1M53 19h1M55 19h1M56 19h1M58 19h1M61 19h1M62 19h1M63 19h1M1 20h1M2 20h1M6 20h1M8 20h1M12 20h1M14 20h1M15 20h1M17 20h1M21 20h1M22 20h1M25 20h1M27 20h1M28 20h1M30 20h1M31 20h1M34 20h1M36 20h1M40 20h1M47 20h1M49 20h1M50 20h1M53 20h1M56 20h1M57 20h1M60 20h1M61 20h1M62 20h1M4 21h1M7 21h1M10 21h1M12 21h1M13 21h1M15 21h1M16 21h1M19 21h1M21 21h1M26 21h1M27 21h1M29 21h1M31 21h1M33 21h1M36 21h1M38 21h1M39 21h1M41 21h1M46 21h1M47 21h1M50 21h1M54 21h1M58 21h1M60 21h1M61 21h1M62 21h1M3 22h1M4 22h1M5 22h1M7 22h1M11 22h1M12 22h1M13 22h1M16 22h1M17 22h1M19 22h1M25 22h1M26 22h1M27 22h1M28 22h1M30 22h1M32 22h1M36 22h1M38 22h1M40 22h1M42 22h1M44 22h1M45 22h1M46 22h1M47 22h1M49 22h1M50 22h1M51 22h1M52 22h1M54 22h1M55 22h1M56 22h1M59 22h1M61 22h1M62 22h1M0 23h1M2 23h1M3 23h1M6 23h1M7 23h1M10 23h1M20 23h1M23 23h1M25 23h1M30 23h1M32 23h1M33 23h1M34 23h1M40 23h1M43 23h1M44 23h1M48 23h1M49 23h1M53 23h1M57 23h1M58 23h1M59 23h1M62 23h1M63 23h1M4 24h1M6 24h1M8 24h1M9 24h1M10 24h1M13 24h1M19 24h1M21 24h1M22 24h1M23 24h1M24 24h1M25 24h1M26 24h1M34 24h1M37 24h1M40 24h1M41 24h1M43 24h1M46 24h1M51 24h1M53 24h1M54 24h1M55 24h1M56 24h1M57 24h1M58 24h1M61 24h1M4 25h1M6 25h1M7 25h1M12 25h1M13 25h1M15 25h1M16 25h1M20 25h1M23 25h1M27 25h1M29 25h1M36 25h1M38 25h1M42 25h1M43 25h1M49 25h1M51 25h1M53 25h1M54 25h1M55 25h1M57 25h1M59 25h1M60 25h1M62 25h1M63 25h1M0 26h1M1 26h1M4 26h1M6 26h1M7 26h1M8 26h1M9 26h1M11 26h1M12 26h1M17 26h1M20 26h1M22 26h1M23 26h1M32 26h1M34 26h1M35 26h1M36 26h1M37 26h1M41 26h1M42 26h1M43 26h1M44 26h1M45 26h1M46 26h1M47 26h1M49 26h1M50 26h1M57 26h1M60 26h1M62 26h1M3 27h1M5 27h1M6 27h1M12 27h1M13 27h1M14 27h1M15 27h1M16 27h1M19 27h1M21 27h1M23 27h1M24 27h1M29 27h1M30 27h1M31 27h1M34 27h1M35 27h1M40 27h1M41 27h1M42 27h1M46 27h1M49 27h1M50 27h1M52 27h1M57 27h1M58 27h1M60 27h1M63 27h1M0 28h1M1 28h1M2 28h1M4 28h1M5 28h1M6 28h1M8 28h1M12 28h1M13 28h1M14 28h1M15 28h1M16 28h1M17 28h1M19 28h1M23 28h1M27 28h1M30 28h1M32 28h1M34 28h1M36 28h1M39 28h1M40 28h1M43 28h1M44 28h1M45 28h1M46 28h1M47 28h1M50 28h1M51 28h1M52 28h1M55 28h1M56 28h1M58 28h1M61 28h1M62 28h1M63 28h1M0 29h1M5 29h1M6 29h1M7 29h1M8 29h1M9 29h1M12 29h1M13 29h1M16 29h1M20 29h1M21 29h1M23 29h1M24 29h1M29 29h1M31 29h1M33 29h1M34 29h1M39 29h1M43 29h1M44 29h1M45 29h1M48 29h1M50 29h1M54 29h1M56 29h1M61 29h1M62 29h1M63 29h1M0 30h1M1 30h1M3 30h1M10 30h1M11 30h1M12 30h1M13 30h1M17 30h1M18 30h1M21 30h1M24 30h1M25 30h1M27 30h1M28 30h1M31 30h1M32 30h1M35 30h1M38 30h1M39 30h1M40 30h1M42 30h1M43 30h1M45 30h1M47 30h1M50 30h1M51 30h1M56 30h1M58 30h1M59 30h1M60 30h1M2 31h1M8 31h1M9 31h1M11 31h1M13 31h1M19 31h1M21 31h1M22 31h1M23 31h1M25 31h1M27 31h1M31 31h1M33 31h1M34 31h1M37 31h1M38 31h1M41 31h1M46 31h1M47 31h1M50 31h1M57 31h1M58 31h1M60 31h1M61 31h1M1 32h1M2 32h1M5 32h1M7 32h1M8 32h1M9 32h1M10 32h1M11 32h1M12 32h1M13 32h1M14 32h1M16 32h1M20 32h1M25 32h1M28 32h1M31 32h1M33 32h1M34 32h1M35 32h1M39 32h1M40 32h1M41 32h1M45 32h1M46 32h1M48 32h1M49 32h1M50 32h1M53 32h1M58 32h1M63 32h1M3 33h1M5 33h1M6 33h1M7 33h1M9 33h1M11 33h1M12 33h1M13 33h1M14 33h1M15 33h1M19 33h1M20 33h1M21 33h1M24 33h1M27 33h1M28 33h1M32 33h1M33 33h1M36 33h1M39 33h1M40 33h1M41 33h1M42 33h1M44 33h1M46 33h1M51 33h1M54 33h1M55 33h1M56 33h1M57 33h1M58 33h1M59 33h1M62 33h1M63 33h1M0 34h1M3 34h1M5 34h1M12 34h1M13 34h1M15 34h1M18 34h1M20 34h1M21 34h1M22 34h1M23 34h1M24 34h1M25 34h1M26 34h1M27 34h1M29 34h1M30 34h1M32 34h1M36 34h1M37 34h1M39 34h1M41 34h1M44 34h1M47 34h1M50 34h1M52 34h1M53 34h1M56 34h1M59 34h1M60 34h1M63 34h1M0 35h1M2 35h1M3 35h1M15 35h1M16 35h1M18 35h1M19 35h1M21 35h1M22 35h1M23 35h1M26 35h1M28 35h1M34 35h1M41 35h1M45 35h1M47 35h1M48 35h1M49 35h1M51 35h1M56 35h1M61 35h1M62 35h1M63 35h1M0 36h1M4 36h1M6 36h1M15 36h1M16 36h1M23 36h1M25 36h1M26 36h1M28 36h1M31 36h1M32 36h1M33 36h1M35 36h1M36 36h1M37 36h1M38 36h1M41 36h1M42 36h1M43 36h1M45 36h1M53 36h1M54 36h1M55 36h1M57 36h1M59 36h1M60 36h1M61 36h1M62 36h1M63 36h1M0 37h1M2 37h1M7 37h1M8 37h1M10 37h1M11 37h1M12 37h1M18 37h1M20 37h1M21 37h1M22 37h1M24 37h1M25 37h1M27 37h1M28 37h1M29 37h1M30 37h1M31 37h1M35 37h1M37 37h1M39 37h1M40 37h1M41 37h1M44 37h1M45 37h1M46 37h1M49 37h1M53 37h1M54 37h1M55 37h1M57 37h1M58 37h1M59 37h1M60 37h1M63 37h1M0 38h1M3 38h1M4 38h1M5 38h1M7 38h1M9 38h1M10 38h1M11 38h1M12 38h1M13 38h1M17 38h1M18 38h1M21 38h1M24 38h1M25 38h1M30 38h1M34 38h1M36 38h1M37 38h1M42 38h1M43 38h1M47 38h1M48 38h1M50 38h1M52 38h1M53 38h1M56 38h1M58 38h1M61 38h1M0 39h1M1 39h1M3 39h1M4 39h1M8 39h1M11 39h1M13 39h1M17 39h1M18 39h1M22 39h1M23 39h1M27 39h1M29 39h1M33 39h1M37 39h1M38 39h1M39 39h1M42 39h1M43 39h1M46 39h1M51 39h1M52 39h1M54 39h1M56 39h1M57 39h1M58 39h1M59 39h1M60 39h1M61 39h1M62 39h1M63 39h1M2 40h1M6 40h1M8 40h1M10 40h1M11 40h1M12 40h1M16 40h1M17 40h1M21 40h1M23 40h1M24 40h1M25 40h1M27 40h1M28 40h1M36 40h1M38 40h1M41 40h1M42 40h1M43 40h1M45 40h1M46 40h1M48 40h1M52 40h1M54 40h1M57 40h1M58 40h1M60 40h1M62 40h1M1 41h1M2 41h1M4 41h1M9 41h1M12 41h1M13 41h1M14 41h1M17 41h1M19 41h1M21 41h1M27 41h1M33 41h1M36 41h1M37 41h1M45 41h1M46 41h1M48 41h1M49 41h1M50 41h1M53 41h1M56 41h1M58 41h1M60 41h1M61 41h1M62 41h1M2 42h1M4 42h1M11 42h1M12 42h1M16 42h1M17 42h1M19 42h1M20 42h1M22 42h1M24 42h1M27 42h1M28 42h1M29 42h1M33 42h1M40 42h1M41 42h1M42 42h1M44 42h1M45 42h1M48 42h1M49 42h1M50 42h1M53 42h1M56 42h1M57 42h1M58 42h1M0 43h1M4 43h1M5 43h1M6 43h1M7 43h1M8 43h1M9 43h1M12 43h1M14 43h1M15 43h1M16 43h1M17 43h1M23 43h1M25 43h1M26 43h1M27 43h1M29 43h1M31 43h1M36 43h1M37 43h1M38 43h1M40 43h1M43 43h1M44 43h1M47 43h1M49 43h1M56 43h1M57 43h1M59 43h1M60 43h1M61 43h1M0 44h1M5 44h1M7 44h1M9 44h1M12 44h1M13 44h1M14 44h1M15 44h1M16 44h1M17 44h1M18 44h1M21 44h1M22 44h1M23 44h1M25 44h1M26 44h1M27 44h1M30 44h1M34 44h1M35 44h1M38 44h1M39 44h1M42 44h1M45 44h1M47 44h1M48 44h1M54 44h1M55 44h1M56 44h1M58 44h1M60 44h1M63 44h1M0 45h1M1 45h1M7 45h1M8 45h1M10 45h1M13 45h1M14 45h1M15 45h1M17 45h1M19 45h1M24 45h1M27 45h1M32 45h1M34 45h1M37 45h1M38 45h1M43 45h1M46 45h1M47 45h1M49 45h1M50 45h1M51 45h1M52 45h1M55 45h1M60 45h1M2 46h1M4 46h1M10 46h1M19 46h1M23 46h1M24 46h1M27 46h1M28 46h1M30 46h1M31 46h1M33 46h1M34 46h1M35 46h1M39 46h1M42 46h1M43 46h1M45 46h1M50 46h1M51 46h1M52 46h1M53 46h1M54 46h1M56 46h1M57 46h1M61 46h1M62 46h1M63 46h1M0 47h1M1 47h1M3 47h1M5 47h1M6 47h1M9 47h1M10 47h1M11 47h1M13 47h1M14 47h1M15 47h1M23 47h1M26 47h1M28 47h1M31 47h1M33 47h1M36 47h1M37 47h1M38 47h1M39 47h1M40 47h1M42 47h1M46 47h1M47 47h1M50 47h1M52 47h1M54 47h1M57 47h1M60 47h1M0 48h1M6 48h1M8 48h1M11 48h1M14 48h1M15 48h1M18 48h1M20 48h1M21 48h1M22 48h1M23 48h1M24 48h1M25 48h1M26 48h1M27 48h1M31 48h1M35 48h1M36 48h1M37 48h1M38 48h1M40 48h1M41 48h1M43 48h1M45 48h1M46 48h1M47 48h1M49 48h1M50 48h1M51 48h1M53 48h1M55 48h1M56 48h1M59 48h1M61 48h1M63 48h1M1 49h1M2 49h1M3 49h1M5 49h1M6 49h1M10 49h1M15 49h1M18 49h1M19 49h1M24 49h1M25 49h1M27 49h1M32 49h1M35 49h1M36 49h1M37 49h1M38 49h1M39 49h1M41 49h1M42 49h1M44 49h1M47 49h1M52 49h1M56 49h1M57 49h1M59 49h1M60 49h1M61 49h1M62 49h1M4 50h1M6 50h1M8 50h1M9 50h1M10 50h1M11 50h1M15 50h1M17 50h1M18 50h1M21 50h1M22 50h1M23 50h1M25 50h1M26 50h1M27 50h1M28 50h1M29 50h1M30 50h1M31 50h1M33 50h1M40 50h1M41 50h1M44 50h1M47 50h1M48 50h1M50 50h1M51 50h1M52 50h1M54 50h1M55 50h1M57 50h1M59 50h1M63 50h1M0 51h1M5 51h1M6 51h1M8 51h1M11 51h1M12 51h1M13 51h1M16 51h1M18 51h1M19 51h1M23 51h1M30 51h1M31 51h1M33 51h1M37 51h1M43 51h1M45 51h1M49 51h1M50 51h1M51 51h1M54 51h1M57 51h1M58 51h1M59 51h1M2 52h1M6 52h1M7 52h1M8 52h1M9 52h1M11 52h1M15 52h1M17 52h1M18 52h1M21 52h1M22 52h1M24 52h1M27 52h1M28 52h1M29 52h1M30 52h1M31 52h1M32 52h1M34 52h1M35 52h1M36 52h1M37 52h1M40 52h1M41 52h1M43 52h1M45 52h1M47 52h1M48 52h1M50 52h1M52 52h1M55 52h1M59 52h1M60 52h1M63 52h1M1 53h1M5 53h1M7 53h1M11 53h1M13 53h1M14 53h1M16 53h1M17 53h1M19 53h1M23 53h1M24 53h1M25 53h1M27 53h1M29 53h1M34 53h1M35 53h1M37 53h1M38 53h1M39 53h1M42 53h1M47 53h1M48 53h1M51 53h1M52 53h1M54 53h1M56 53h1M57 53h1M58 53h1M59 53h1M63 53h1M0 54h1M1 54h1M2 54h1M4 54h1M6 54h1M8 54h1M11 54h1M13 54h1M15 54h1M16 54h1M18 54h1M20 54h1M23 54h1M26 54h1M28 54h1M29 54h1M33 54h1M34 54h1M35 54h1M36 54h1M37 54h1M40 54h1M41 54h1M46 54h1M52 54h1M53 54h1M55 54h1M56 54h1M60 54h1M61 54h1M63 54h1M0 55h1M2 55h1M4 55h1M5 55h1M7 55h1M8 55h1M10 55h1M11 55h1M12 55h1M13 55h1M14 55h1M17 55h1M19 55h1M22 55h1M23 55h1M24 55h1M25 55h1M29 55h1M30 55h1M31 55h1M32 55h1M36 55h1M38 55h1M44 55h1M45 55h1M48 55h1M49 55h1M51 55h1M54 55h1M61 55h1M1 56h1M2 56h1M3 56h1M6 56h1M7 56h1M9 56h1M11 56h1M18 56h1M19 56h1M22 56h1M23 56h1M28 56h1M29 56h1M35 56h1M38 56h1M40 56h1M44 56h1M45 56h1M46 56h1M48 56h1M49 56h1M55 56h1M57 56h1M60 56h1M62 56h1M1 57h1M3 57h1M4 57h1M5 57h1M9 57h1M11 57h1M12 57h1M14 57h1M15 57h1M16 57h1M18 57h1M21 57h1M22 57h1M25 57h1M27 57h1M31 57h1M36 57h1M38 57h1M40 57h1M43 57h1M46 57h1M49 57h1M50 57h1M51 57h1M54 57h1M55 57h1M57 57h1M58 57h1M60 57h1M62 57h1M0 58h1M1 58h1M8 58h1M11 58h1M12 58h1M13 58h1M14 58h1M15 58h1M17 58h1M18 58h1M19 58h1M21 58h1M23 58h1M24 58h1M25 58h1M29 58h1M32 58h1M34 58h1M38 58h1M41 58h1M44 58h1M45 58h1M49 58h1M50 58h1M51 58h1M52 58h1M53 58h1M55 58h1M59 58h1M60 58h1M61 58h1M63 58h1M1 59h1M4 59h1M5 59h1M9 59h1M13 59h1M16 59h1M18 59h1M21 59h1M23 59h1M30 59h1M31 59h1M36 59h1M37 59h1M40 59h1M41 59h1M42 59h1M46 59h1M48 59h1M49 59h1M52 59h1M54 59h1M58 59h1M60 59h1M61 59h1M62 59h1M63 59h1M0 60h1M3 60h1M8 60h1M17 60h1M21 60h1M22 60h1M28 60h1M30 60h1M32 60h1M34 60h1M35 60h1M38 60h1M48 60h1M50 60h1M52 60h1M53 60h1M55 60h1M61 60h1M62 60h1M0 61h1M1 61h1M4 61h1M7 61h1M10 61h1M14 61h1M15 61h1M19 61h1M20 61h1M25 61h1M32 61h1M35 61h1M36 61h1M39 61h1M44 61h1M46 61h1M47 61h1M48 61h1M50 61h1M52 61h1M53 61h1M58 61h1M62 61h1M1 62h1M4 62h1M7 62h1M8 62h1M10 62h1M11 62h1M15 62h1M17 62h1M24 62h1M25 62h1M27 62h1M28 62h1M31 62h1M33 62h1M34 62h1M36 62h1M39 62h1M40 62h1M41 62h1M42 62h1M44 62h1M45 62h1M48 62h1M50 62h1M54 62h1M56 62h1M58 62h1M59 62h1M61 62h1M62 62h1M1 63h1M2 63h1M3 63h1M9 63h1M10 63h1M11 63h1M16 63h1M17 63h1M18 63h1M23 63h1M26 63h1M28 63h1M29 63h1M31 63h1M32 63h1M33 63h1M36 63h1M43 63h1M44 63h1M46 63h1M47 63h1M48 63h1M49 63h1M50 63h1M52 63h1M53 63h1M55 63h1M57 63h1M58 63h1" stroke="#fff" stroke-width="1" fill="none" transform="translate(0,0.5)" shape-rendering="crispEdges"/>
</pattern>
<filter id="sb" x="-50%" y="-50%" width="200%" height="200%"><feGaussianBlur stdDeviation="0.7"/></filter>
<linearGradient id="cb" x1="0" x2="1" y1="0" y2="0"><stop offset="0.00%" stop-color="#eaeaea"/><stop offset="1.26%" stop-color="#e6e6e6"/><stop offset="1.37%" stop-color="#d8d8d8"/><stop offset="2.84%" stop-color="#d4d4d4"/><stop offset="2.95%" stop-color="#c4c4c4"/><stop offset="4.42%" stop-color="#c0c0c0"/><stop offset="4.53%" stop-color="#a9a9a9"/><stop offset="13.37%" stop-color="#9e9e9e"/><stop offset="24.95%" stop-color="#8d8d8d"/><stop offset="49.79%" stop-color="#5e5e5e"/><stop offset="74.84%" stop-color="#303030"/><stop offset="86.00%" stop-color="#000"/><stop offset="100.00%" stop-color="#000"/></linearGradient>
</defs>
<rect width="680" height="850" fill="#fff"/>
<g filter="url(#bl)"><polygon points="146,469 150.6,448 158,410 172.8,356 183,312 194.8,267.8 202,235.5 208,207.5 215.4,195.8 239,179.6 259.5,172.2 271.3,167.2 289,169.3 336,176.5 420,190 464,200 514,209 552.4,215 570,220.8 584.7,238.4 596.5,257.5 603,270.8 603,276.6 596.5,312 590.6,353 578.8,410 570,448 564,483.5 558,507 551,533.5 543.5,548 529,563 508,577.6 487.6,589.4 471.5,595.3 464,596 449.4,593 420,586.5 330,569 291.8,561.5 247.6,549.7 203.5,539.4 189,536.5 180,532 168,519 156.5,498 148,480.6" fill="url(#nz)"/><polygon points="271.3,167.2 289,169.3 336,176.5 420,190 464,200 514,209 552.4,215 570,220.8 575,228 551,229 420,202.5 283,177" fill="url(#nz2)"/><polygon points="575,228 570,220.8 584.7,238.4 596.5,257.5 603,270.8 603,276.6 596.5,312 590.6,353 578.8,410 573,440 577,400 585,355 593,313 595,265" fill="url(#nz2)"/><polygon points="570,448 564,483.5 558,507 551,533.5 543.5,548 529,563 508,577.6 487.6,589.4 471.5,595.3 464,596 464.0,596.0 470.7,593.4 485.8,586.0 505.1,573.3 525.2,558.5 539.3,543.9 547.1,530.1 554.8,504.8 562.2,482.5 570.0,448.0" fill="url(#nz2)"/><polygon points="146,469 150.6,448 158,410 172.8,356 183,312 194.8,267.8 202,235.5 208,207.5 215.4,195.8 239,179.6 259.5,172.2 271.3,167.2 289,169.3 336,176.5 420,190 464,200 514,209 552.4,215 570,220.8 584.7,238.4 596.5,257.5 603,270.8 603,276.6 596.5,312 590.6,353 578.8,410 570,448 564,483.5 558,507 551,533.5 543.5,548 529,563 508,577.6 487.6,589.4 471.5,595.3 464,596 449.4,593 420,586.5 330,569 291.8,561.5 247.6,549.7 203.5,539.4 189,536.5 180,532 168,519 156.5,498 148,480.6" fill="none" stroke="url(#nz3)" stroke-width="3.2" stroke-linejoin="round"/></g>
<line x1="283" y1="177" x2="551" y2="229" stroke="#fff" stroke-width="1.5" opacity="0.92"/>
<circle cx="170.6" cy="405.6" r="5.5" fill="#000" opacity="0.09"/><circle cx="272" cy="431" r="5" fill="#000" opacity="0.06"/><circle cx="253" cy="287" r="2.6" fill="#fff" opacity="0.8"/>
<g filter="url(#sb)" opacity="0.42"><circle cx="253" cy="287" r="2.55" fill="#000"/><circle cx="268.8" cy="428.8" r="1.70" fill="#111"/><circle cx="272.5" cy="431.5" r="1.70" fill="#111"/><circle cx="312.5" cy="456.3" r="1.87" fill="#222"/><circle cx="324" cy="492" r="1.87" fill="#222"/><circle cx="333.5" cy="482.5" r="1.53" fill="#444"/><circle cx="300" cy="528" r="1.70" fill="#444"/><circle cx="424" cy="513.5" r="1.87" fill="#333"/><circle cx="417.5" cy="379" r="1.87" fill="#333"/><circle cx="355" cy="413" r="1.70" fill="#444"/><circle cx="524" cy="246.5" r="1.70" fill="#333"/><circle cx="525.7" cy="252" r="2.21" fill="#111"/><circle cx="581" cy="242.5" r="1.87" fill="#555"/><circle cx="508.5" cy="315" r="1.70" fill="#444"/><circle cx="545.5" cy="363.5" r="1.70" fill="#555"/><circle cx="170.6" cy="405.6" r="1.87" fill="#000"/><circle cx="191" cy="468" r="1.53" fill="#666"/><circle cx="211.5" cy="246" r="1.70" fill="#666"/><circle cx="561" cy="473" r="1.87" fill="#444"/><circle cx="582.5" cy="346" r="1.70" fill="#777"/><circle cx="515" cy="401" r="1.36" fill="#666"/><circle cx="317.5" cy="271" r="1.70" fill="#777"/><circle cx="325" cy="383.5" r="1.70" fill="#444"/><circle cx="455" cy="345" r="1.36" fill="#777"/><circle cx="354" cy="321.5" r="1.53" fill="#555"/><circle cx="347.5" cy="205" r="1.19" fill="#777"/><circle cx="420" cy="246" r="1.36" fill="#777"/><circle cx="562.5" cy="350" r="1.19" fill="#777"/><circle cx="471" cy="372.5" r="1.19" fill="#888"/><circle cx="277.5" cy="515" r="1.19" fill="#888"/><circle cx="403.5" cy="441" r="1.19" fill="#888"/><circle cx="499" cy="526.5" r="1.19" fill="#888"/></g>
<g><circle cx="253" cy="287" r="1.5" fill="#000"/><circle cx="268.8" cy="428.8" r="1.0" fill="#111"/><circle cx="272.5" cy="431.5" r="1.0" fill="#111"/><circle cx="312.5" cy="456.3" r="1.1" fill="#222"/><circle cx="324" cy="492" r="1.1" fill="#222"/><circle cx="333.5" cy="482.5" r="0.9" fill="#444"/><circle cx="300" cy="528" r="1.0" fill="#444"/><circle cx="424" cy="513.5" r="1.1" fill="#333"/><circle cx="417.5" cy="379" r="1.1" fill="#333"/><circle cx="355" cy="413" r="1.0" fill="#444"/><circle cx="524" cy="246.5" r="1.0" fill="#333"/><circle cx="525.7" cy="252" r="1.3" fill="#111"/><circle cx="581" cy="242.5" r="1.1" fill="#555"/><circle cx="508.5" cy="315" r="1.0" fill="#444"/><circle cx="545.5" cy="363.5" r="1.0" fill="#555"/><circle cx="170.6" cy="405.6" r="1.1" fill="#000"/><circle cx="191" cy="468" r="0.9" fill="#666"/><circle cx="211.5" cy="246" r="1.0" fill="#666"/><circle cx="561" cy="473" r="1.1" fill="#444"/><circle cx="582.5" cy="346" r="1.0" fill="#777"/><circle cx="515" cy="401" r="0.8" fill="#666"/><circle cx="317.5" cy="271" r="1.0" fill="#777"/><circle cx="325" cy="383.5" r="1.0" fill="#444"/><circle cx="455" cy="345" r="0.8" fill="#777"/><circle cx="354" cy="321.5" r="0.9" fill="#555"/><circle cx="347.5" cy="205" r="0.7" fill="#777"/><circle cx="420" cy="246" r="0.8" fill="#777"/><circle cx="562.5" cy="350" r="0.7" fill="#777"/><circle cx="471" cy="372.5" r="0.7" fill="#888"/><circle cx="277.5" cy="515" r="0.7" fill="#888"/><circle cx="403.5" cy="441" r="0.7" fill="#888"/><circle cx="499" cy="526.5" r="0.7" fill="#888"/></g>
<g stroke="#000" stroke-width="1" shape-rendering="crispEdges">
<path d="M153.5 159.5V335.5M152.5 335V605.5" fill="none"/><line x1="204.5" y1="159.5" x2="204.5" y2="605.5"/><line x1="256.5" y1="159.5" x2="256.5" y2="605.5"/><line x1="307.5" y1="159.5" x2="307.5" y2="605.5"/><line x1="359.5" y1="159.5" x2="359.5" y2="605.5"/><line x1="411.5" y1="159.5" x2="411.5" y2="605.5"/><line x1="462.5" y1="159.5" x2="462.5" y2="605.5"/><line x1="514.5" y1="159.5" x2="514.5" y2="605.5"/><path d="M565.5 159.5V199M566.5 198.5V605.5" fill="none"/><line x1="136.5" y1="176.5" x2="611.5" y2="176.5"/><line x1="136.5" y1="221.5" x2="611.5" y2="221.5"/><line x1="136.5" y1="267.5" x2="611.5" y2="267.5"/><line x1="136.5" y1="312.5" x2="611.5" y2="312.5"/><line x1="136.5" y1="357.5" x2="611.5" y2="357.5"/><line x1="136.5" y1="403.5" x2="611.5" y2="403.5"/><line x1="136.5" y1="448.5" x2="611.5" y2="448.5"/><path d="M136.5 493.5H217M216.5 494.5H554M553.5 493.5H611.5" fill="none"/><line x1="136.5" y1="539.5" x2="611.5" y2="539.5"/><line x1="136.5" y1="584.5" x2="611.5" y2="584.5"/><line x1="326.5" y1="159.5" x2="326.5" y2="167.5"/><line x1="326.5" y1="605.5" x2="326.5" y2="597.5"/><line x1="516.5" y1="159.5" x2="516.5" y2="167.5"/><line x1="516.5" y1="605.5" x2="516.5" y2="597.5"/><line x1="136.5" y1="226.5" x2="145.0" y2="226.5"/><line x1="611.5" y1="226.5" x2="603.0" y2="226.5"/><line x1="136.5" y1="416.5" x2="145.0" y2="416.5"/><line x1="611.5" y1="416.5" x2="603.0" y2="416.5"/>
<rect x="136.5" y="159.5" width="475.0" height="446.0" fill="none"/>
</g>
<rect x="136.5" y="673.5" width="475" height="11.5" fill="url(#cb)" stroke="#000" stroke-width="1" shape-rendering="crispEdges"/>
<g stroke="#000" stroke-width="1" shape-rendering="crispEdges"><line x1="255.5" y1="673.5" x2="255.5" y2="685"/><line x1="373.5" y1="673.5" x2="373.5" y2="685"/><line x1="492.5" y1="673.5" x2="492.5" y2="685"/></g>
<g stroke="#fff" stroke-width="0.2" opacity="0.999">
<text y="106"><tspan x="170.27" font-size="17" textLength="110.64" lengthAdjust="spacingAndGlyphs">IRAS1334+24</tspan> <tspan x="289.85" font-size="17" textLength="44.97" lengthAdjust="spacingAndGlyphs">SWIFT</tspan> <tspan x="343.75" font-size="17" textLength="114.58" lengthAdjust="spacingAndGlyphs">03111756008</tspan> <tspan x="467.09" font-size="17" textLength="40.68" lengthAdjust="spacingAndGlyphs">2025</tspan><tspan x="507.00" dy="-1.4" font-size="17" textLength="13.59" lengthAdjust="spacingAndGlyphs">-</tspan><tspan x="521.2 529.4" dy="1.4" font-size="17">11</tspan><tspan x="540.79" dy="-1.4" font-size="17" textLength="12.91" lengthAdjust="spacingAndGlyphs">-</tspan><tspan x="556.05" dy="1.4" font-size="17" textLength="21.28" lengthAdjust="spacingAndGlyphs">13</tspan></text>
<text y="125.6"><tspan x="245.87" font-size="17" textLength="49.66" lengthAdjust="spacingAndGlyphs">UVOTA</tspan> <tspan x="305.04" font-size="17" textLength="10.26" lengthAdjust="spacingAndGlyphs">B</tspan> <tspan x="323.57" font-size="17" textLength="73.50" lengthAdjust="spacingAndGlyphs">Exposure</tspan> <tspan x="472.88" font-size="17" textLength="29.07" lengthAdjust="spacingAndGlyphs">79s</tspan></text>
<text y="154.9" stroke="none"><tspan x="168.90" font-size="12.5" textLength="16.13" lengthAdjust="spacingAndGlyphs">13</tspan><tspan x="186.19" dy="-5.9" font-size="9" textLength="5.72" lengthAdjust="spacingAndGlyphs">h</tspan><tspan x="192.55" dy="5.9" font-size="12.5" textLength="16.18" lengthAdjust="spacingAndGlyphs">38</tspan><tspan x="210.33" dy="-5.9" font-size="9" textLength="8.43" lengthAdjust="spacingAndGlyphs">m</tspan><tspan x="219.72" dy="5.9" font-size="12.5" textLength="15.21" lengthAdjust="spacingAndGlyphs">00</tspan><tspan x="237.28" dy="-5.9" font-size="9" textLength="4.00" lengthAdjust="spacingAndGlyphs">s</tspan></text>
<text y="154.9" stroke="none"><tspan x="272.50" font-size="12.5" textLength="16.13" lengthAdjust="spacingAndGlyphs">13</tspan><tspan x="289.79" dy="-5.9" font-size="9" textLength="5.72" lengthAdjust="spacingAndGlyphs">h</tspan><tspan x="296.14" dy="5.9" font-size="12.5" textLength="16.29" lengthAdjust="spacingAndGlyphs">37</tspan><tspan x="313.93" dy="-5.9" font-size="9" textLength="8.43" lengthAdjust="spacingAndGlyphs">m</tspan><tspan x="323.55" dy="5.9" font-size="12.5" textLength="14.96" lengthAdjust="spacingAndGlyphs">40</tspan><tspan x="340.88" dy="-5.9" font-size="9" textLength="4.00" lengthAdjust="spacingAndGlyphs">s</tspan></text>
<text y="154.9" stroke="none"><tspan x="376.10" font-size="12.5" textLength="16.13" lengthAdjust="spacingAndGlyphs">13</tspan><tspan x="393.39" dy="-5.9" font-size="9" textLength="5.72" lengthAdjust="spacingAndGlyphs">h</tspan><tspan x="399.74" dy="5.9" font-size="12.5" textLength="16.29" lengthAdjust="spacingAndGlyphs">37</tspan><tspan x="417.53" dy="-5.9" font-size="9" textLength="8.43" lengthAdjust="spacingAndGlyphs">m</tspan><tspan x="426.76" dy="5.9" font-size="12.5" textLength="15.37" lengthAdjust="spacingAndGlyphs">20</tspan><tspan x="444.48" dy="-5.9" font-size="9" textLength="4.00" lengthAdjust="spacingAndGlyphs">s</tspan></text>
<text y="154.9" stroke="none"><tspan x="479.70" font-size="12.5" textLength="16.13" lengthAdjust="spacingAndGlyphs">13</tspan><tspan x="496.99" dy="-5.9" font-size="9" textLength="5.72" lengthAdjust="spacingAndGlyphs">h</tspan><tspan x="503.34" dy="5.9" font-size="12.5" textLength="16.29" lengthAdjust="spacingAndGlyphs">37</tspan><tspan x="521.13" dy="-5.9" font-size="9" textLength="8.43" lengthAdjust="spacingAndGlyphs">m</tspan><tspan x="530.52" dy="5.9" font-size="12.5" textLength="15.21" lengthAdjust="spacingAndGlyphs">00</tspan><tspan x="548.08" dy="-5.9" font-size="9" textLength="4.00" lengthAdjust="spacingAndGlyphs">s</tspan></text>
<text y="182.3" stroke="none"><tspan x="616.24" font-size="13" textLength="9.23" lengthAdjust="spacingAndGlyphs">+</tspan><tspan x="626.07" font-size="13" textLength="16.15" lengthAdjust="spacingAndGlyphs">24</tspan><tspan x="643.24" dy="0.7" font-size="16.9" textLength="5.83" lengthAdjust="spacingAndGlyphs">°</tspan><tspan x="649.48" dy="-0.7" font-size="13" textLength="15.32" lengthAdjust="spacingAndGlyphs">32</tspan><tspan x="666.89" dy="0.6" font-size="20" textLength="2.73" lengthAdjust="spacingAndGlyphs">'</tspan><tspan x="671.28" dy="-0.6" font-size="13" textLength="7.43" lengthAdjust="spacingAndGlyphs">0</tspan></text>
<text y="227.3" stroke="none"><tspan x="616.24" font-size="13" textLength="9.23" lengthAdjust="spacingAndGlyphs">+</tspan><tspan x="626.07" font-size="13" textLength="16.15" lengthAdjust="spacingAndGlyphs">24</tspan><tspan x="643.24" dy="0.7" font-size="16.9" textLength="5.83" lengthAdjust="spacingAndGlyphs">°</tspan><tspan x="649.48" dy="-0.7" font-size="13" textLength="15.14" lengthAdjust="spacingAndGlyphs">30</tspan><tspan x="666.89" dy="0.6" font-size="20" textLength="2.73" lengthAdjust="spacingAndGlyphs">'</tspan><tspan x="671.28" dy="-0.6" font-size="13" textLength="7.43" lengthAdjust="spacingAndGlyphs">0</tspan></text>
<text y="273.3" stroke="none"><tspan x="616.24" font-size="13" textLength="9.23" lengthAdjust="spacingAndGlyphs">+</tspan><tspan x="626.07" font-size="13" textLength="16.15" lengthAdjust="spacingAndGlyphs">24</tspan><tspan x="643.24" dy="0.7" font-size="16.9" textLength="5.83" lengthAdjust="spacingAndGlyphs">°</tspan><tspan x="649.31" dy="-0.7" font-size="13" textLength="15.39" lengthAdjust="spacingAndGlyphs">28</tspan><tspan x="666.89" dy="0.6" font-size="20" textLength="2.73" lengthAdjust="spacingAndGlyphs">'</tspan><tspan x="671.28" dy="-0.6" font-size="13" textLength="7.43" lengthAdjust="spacingAndGlyphs">0</tspan></text>
<text y="318.3" stroke="none"><tspan x="616.24" font-size="13" textLength="9.23" lengthAdjust="spacingAndGlyphs">+</tspan><tspan x="626.07" font-size="13" textLength="16.15" lengthAdjust="spacingAndGlyphs">24</tspan><tspan x="643.24" dy="0.7" font-size="16.9" textLength="5.83" lengthAdjust="spacingAndGlyphs">°</tspan><tspan x="649.31" dy="-0.7" font-size="13" textLength="15.39" lengthAdjust="spacingAndGlyphs">26</tspan><tspan x="666.89" dy="0.6" font-size="20" textLength="2.73" lengthAdjust="spacingAndGlyphs">'</tspan><tspan x="671.28" dy="-0.6" font-size="13" textLength="7.43" lengthAdjust="spacingAndGlyphs">0</tspan></text>
<text y="363.3" stroke="none"><tspan x="616.24" font-size="13" textLength="9.23" lengthAdjust="spacingAndGlyphs">+</tspan><tspan x="626.07" font-size="13" textLength="16.15" lengthAdjust="spacingAndGlyphs">24</tspan><tspan x="643.24" dy="0.7" font-size="16.9" textLength="5.83" lengthAdjust="spacingAndGlyphs">°</tspan><tspan x="649.32" dy="-0.7" font-size="13" textLength="15.18" lengthAdjust="spacingAndGlyphs">24</tspan><tspan x="666.89" dy="0.6" font-size="20" textLength="2.73" lengthAdjust="spacingAndGlyphs">'</tspan><tspan x="671.28" dy="-0.6" font-size="13" textLength="7.43" lengthAdjust="spacingAndGlyphs">0</tspan></text>
<text y="409.3" stroke="none"><tspan x="616.24" font-size="13" textLength="9.23" lengthAdjust="spacingAndGlyphs">+</tspan><tspan x="626.07" font-size="13" textLength="16.15" lengthAdjust="spacingAndGlyphs">24</tspan><tspan x="643.24" dy="0.7" font-size="16.9" textLength="5.83" lengthAdjust="spacingAndGlyphs">°</tspan><tspan x="649.30" dy="-0.7" font-size="13" textLength="15.50" lengthAdjust="spacingAndGlyphs">22</tspan><tspan x="666.89" dy="0.6" font-size="20" textLength="2.73" lengthAdjust="spacingAndGlyphs">'</tspan><tspan x="671.28" dy="-0.6" font-size="13" textLength="7.43" lengthAdjust="spacingAndGlyphs">0</tspan></text>
<text y="454.3" stroke="none"><tspan x="616.24" font-size="13" textLength="9.23" lengthAdjust="spacingAndGlyphs">+</tspan><tspan x="626.07" font-size="13" textLength="16.15" lengthAdjust="spacingAndGlyphs">24</tspan><tspan x="643.24" dy="0.7" font-size="16.9" textLength="5.83" lengthAdjust="spacingAndGlyphs">°</tspan><tspan x="649.31" dy="-0.7" font-size="13" textLength="15.32" lengthAdjust="spacingAndGlyphs">20</tspan><tspan x="666.89" dy="0.6" font-size="20" textLength="2.73" lengthAdjust="spacingAndGlyphs">'</tspan><tspan x="671.28" dy="-0.6" font-size="13" textLength="7.43" lengthAdjust="spacingAndGlyphs">0</tspan></text>
<text y="499.3" stroke="none"><tspan x="616.24" font-size="13" textLength="9.23" lengthAdjust="spacingAndGlyphs">+</tspan><tspan x="626.07" font-size="13" textLength="16.15" lengthAdjust="spacingAndGlyphs">24</tspan><tspan x="643.24" dy="0.7" font-size="16.9" textLength="5.83" lengthAdjust="spacingAndGlyphs">°</tspan><tspan x="648.92" dy="-0.7" font-size="13" textLength="15.79" lengthAdjust="spacingAndGlyphs">18</tspan><tspan x="666.89" dy="0.6" font-size="20" textLength="2.73" lengthAdjust="spacingAndGlyphs">'</tspan><tspan x="671.28" dy="-0.6" font-size="13" textLength="7.43" lengthAdjust="spacingAndGlyphs">0</tspan></text>
<text y="545.3" stroke="none"><tspan x="616.24" font-size="13" textLength="9.23" lengthAdjust="spacingAndGlyphs">+</tspan><tspan x="626.07" font-size="13" textLength="16.15" lengthAdjust="spacingAndGlyphs">24</tspan><tspan x="643.24" dy="0.7" font-size="16.9" textLength="5.83" lengthAdjust="spacingAndGlyphs">°</tspan><tspan x="648.92" dy="-0.7" font-size="13" textLength="15.79" lengthAdjust="spacingAndGlyphs">16</tspan><tspan x="666.89" dy="0.6" font-size="20" textLength="2.73" lengthAdjust="spacingAndGlyphs">'</tspan><tspan x="671.28" dy="-0.6" font-size="13" textLength="7.43" lengthAdjust="spacingAndGlyphs">0</tspan></text>
<text y="590.3" stroke="none"><tspan x="616.24" font-size="13" textLength="9.23" lengthAdjust="spacingAndGlyphs">+</tspan><tspan x="626.07" font-size="13" textLength="16.15" lengthAdjust="spacingAndGlyphs">24</tspan><tspan x="643.24" dy="0.7" font-size="16.9" textLength="5.83" lengthAdjust="spacingAndGlyphs">°</tspan><tspan x="648.94" dy="-0.7" font-size="13" textLength="15.57" lengthAdjust="spacingAndGlyphs">14</tspan><tspan x="666.89" dy="0.6" font-size="20" textLength="2.73" lengthAdjust="spacingAndGlyphs">'</tspan><tspan x="671.28" dy="-0.6" font-size="13" textLength="7.43" lengthAdjust="spacingAndGlyphs">0</tspan></text>
<text x="131.25" y="626.7" font-size="16.5" textLength="10.74" lengthAdjust="spacingAndGlyphs">0</text>
<text x="310.50" y="626.7" font-size="16.5" textLength="31.48" lengthAdjust="spacingAndGlyphs">500</text>
<text x="496.62" y="626.7" font-size="16.5" textLength="40.33" lengthAdjust="spacingAndGlyphs">1000</text>
<text y="660.75"><tspan x="341.67" font-size="16.7" textLength="9.89" lengthAdjust="spacingAndGlyphs">X</tspan> <tspan x="359.80" font-size="16.7" textLength="47.07" lengthAdjust="spacingAndGlyphs">Pixels</tspan></text>
<text transform="translate(125,245) rotate(-90)" x="-1.37" y="0" font-size="17" textLength="40.06" lengthAdjust="spacingAndGlyphs">1000</text>
<text transform="translate(125,430.9) rotate(-90)" x="-0.73" y="0" font-size="17" textLength="30.33" lengthAdjust="spacingAndGlyphs">500</text>
<text transform="translate(99.3,415) rotate(-90)" y="0"><tspan x="-0.36" font-size="17.5" textLength="10.92" lengthAdjust="spacingAndGlyphs">Y</tspan> <tspan x="17.97" font-size="17.5" textLength="46.45" lengthAdjust="spacingAndGlyphs">Pixels</tspan></text>
<text x="119.28" y="706.1" font-size="17.6" textLength="35.98" lengthAdjust="spacingAndGlyphs">0.15</text>
<text x="237.33" y="706.1" font-size="17.6" textLength="33.50" lengthAdjust="spacingAndGlyphs">0.51</text>
<text x="362.40" y="706.1" font-size="17.6" textLength="24.61" lengthAdjust="spacingAndGlyphs">1.8</text>
<text x="480.38" y="706.1" font-size="17.6" textLength="24.21" lengthAdjust="spacingAndGlyphs">6.1</text>
<text x="594.05" y="706.1" font-size="17.6" textLength="21.18" lengthAdjust="spacingAndGlyphs">20</text>
</g>
</svg>
</body></html>
